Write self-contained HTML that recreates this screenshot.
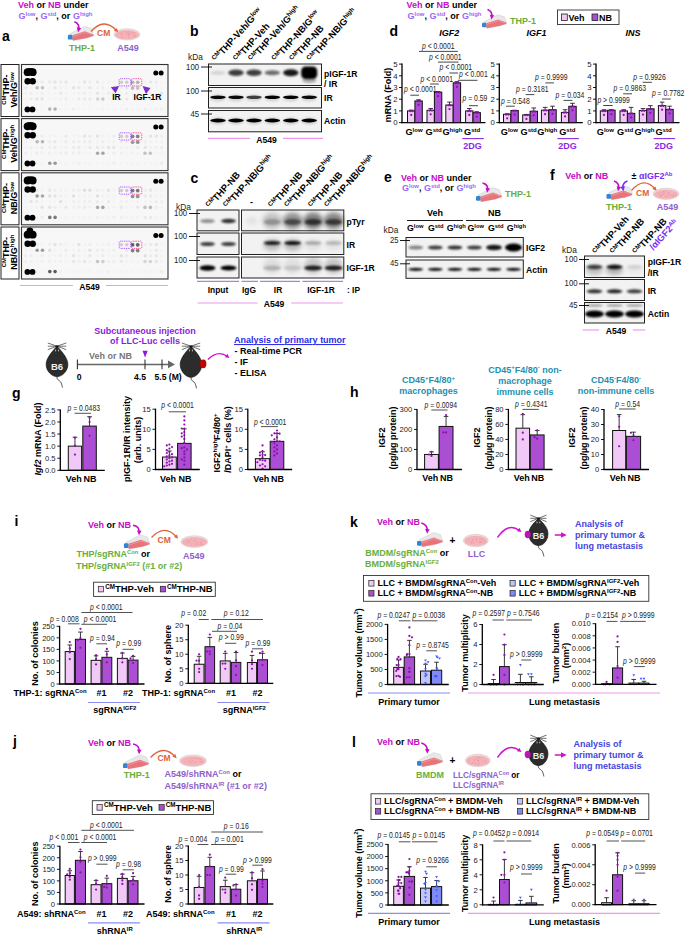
<!DOCTYPE html>
<html><head><meta charset="utf-8"><style>
html,body{margin:0;padding:0;background:#fff;}
svg{display:block;font-family:"Liberation Sans", sans-serif;}
</style></head><body>
<svg width="685" height="937" viewBox="0 0 685 937" font-family="Liberation Sans, sans-serif">
<defs>
<filter id="b05" x="-50%" y="-50%" width="200%" height="200%"><feGaussianBlur stdDeviation="0.5"/></filter>
<filter id="b7" x="-50%" y="-50%" width="200%" height="200%"><feGaussianBlur stdDeviation="0.7"/></filter>
<filter id="b1" x="-50%" y="-50%" width="200%" height="200%"><feGaussianBlur stdDeviation="1"/></filter>
<filter id="b2" x="-50%" y="-50%" width="200%" height="200%"><feGaussianBlur stdDeviation="2"/></filter>
</defs>
<rect width="685" height="937" fill="#fff"/>
<text x="2.00" y="41.00" font-size="14" font-weight="bold" fill="#000" text-anchor="start">a</text>
<text x="18.00" y="7.60" font-size="9" font-weight="bold" fill="#000" text-anchor="start"><tspan fill="#C30FC3">Veh</tspan> or <tspan fill="#C30FC3">NB</tspan> under</text>
<text x="18.50" y="18.60" font-size="9" font-weight="bold" fill="#000" text-anchor="start"><tspan fill="#9A68F5">G</tspan><tspan dy="-3.06" font-size="5.94" fill="#9A68F5">low</tspan><tspan dy="3.06">, </tspan><tspan fill="#9A68F5">G</tspan><tspan dy="-3.06" font-size="5.94" fill="#9A68F5">std</tspan><tspan dy="3.06">, or </tspan><tspan fill="#9A68F5">G</tspan><tspan dy="-3.06" font-size="5.94" fill="#9A68F5">high</tspan></text>
<g transform="translate(67.90,34.80) scale(1.0)"><path d="M2,-1 L16.6,-8.4 L23.5,-6.3 L25.6,0 L25.6,1 L19,3.2 L5,5.8 L4,4.5 Z" fill="#e8e8e8" stroke="#c8c8c8" stroke-width="0.5"/><path d="M4.5,0.4 L17,-3.6 L25.6,-0.3 L25.6,1 L19,3.2 L5.3,5.8 L4.5,4.5 Z" fill="#E8747A"/><path d="M5,1.8 L17,-2.3 L24.5,0" fill="none" stroke="#F4A6AA" stroke-width="0.6"/><rect x="0" y="0" width="4.5" height="4.8" rx="1.2" fill="#2F86D6"/></g>
<path d="M74.30,21.70 Q79.80,23.50 78.60,29.50" fill="none" stroke="#C30FC3" stroke-width="1.6"/>
<path d="M78.06,32.21 L76.71,27.24 L81.22,28.15 Z" fill="#C30FC3" stroke="none" stroke-width="1"/>
<ellipse cx="127.00" cy="34.40" rx="13.00" ry="5.60" fill="#F9D9DB" stroke="#d8d0d2" stroke-width="0.8"/>
<ellipse cx="127.00" cy="34.80" rx="11.70" ry="4.30" fill="#F4B3B8" stroke="#ec9ea4" stroke-width="0.3"/>
<circle cx="128.52" cy="33.57" r="0.45" fill="#E0858C"/>
<circle cx="121.05" cy="36.94" r="0.45" fill="#E0858C"/>
<circle cx="132.84" cy="32.43" r="0.45" fill="#E0858C"/>
<circle cx="135.07" cy="34.04" r="0.45" fill="#E0858C"/>
<circle cx="134.69" cy="36.26" r="0.45" fill="#E0858C"/>
<circle cx="128.90" cy="31.79" r="0.45" fill="#E0858C"/>
<circle cx="133.83" cy="32.67" r="0.45" fill="#E0858C"/>
<circle cx="122.39" cy="35.28" r="0.45" fill="#E0858C"/>
<circle cx="128.48" cy="33.85" r="0.45" fill="#E0858C"/>
<circle cx="122.21" cy="33.04" r="0.45" fill="#E0858C"/>
<circle cx="128.62" cy="35.00" r="0.45" fill="#E0858C"/>
<circle cx="118.18" cy="33.73" r="0.45" fill="#E0858C"/>
<circle cx="134.16" cy="36.05" r="0.45" fill="#E0858C"/>
<circle cx="130.14" cy="32.44" r="0.45" fill="#E0858C"/>
<circle cx="128.42" cy="35.36" r="0.45" fill="#E0858C"/>
<circle cx="130.08" cy="33.83" r="0.45" fill="#E0858C"/>
<circle cx="124.95" cy="33.08" r="0.45" fill="#E0858C"/>
<circle cx="126.18" cy="31.47" r="0.45" fill="#E0858C"/>
<circle cx="128.82" cy="38.05" r="0.45" fill="#E0858C"/>
<circle cx="120.61" cy="33.43" r="0.45" fill="#E0858C"/>
<circle cx="121.54" cy="33.90" r="0.45" fill="#E0858C"/>
<circle cx="135.07" cy="36.64" r="0.45" fill="#E0858C"/>
<circle cx="122.02" cy="37.73" r="0.45" fill="#E0858C"/>
<circle cx="127.25" cy="33.96" r="0.45" fill="#E0858C"/>
<circle cx="132.87" cy="34.50" r="0.45" fill="#E0858C"/>
<circle cx="126.73" cy="32.26" r="0.45" fill="#E0858C"/>
<path d="M91.00,31.50 Q104.00,17.00 116.50,30.50" fill="none" stroke="#E0623A" stroke-width="1.3"/>
<path d="M118.13,32.26 L113.95,30.68 L116.88,27.97 Z" fill="#E0623A" stroke="none" stroke-width="1"/>
<text x="97.00" y="36.00" font-size="8.5" font-weight="bold" fill="#E0623A" text-anchor="start">CM</text>
<text x="82.00" y="50.60" font-size="9" font-weight="bold" fill="#6AAE3C" text-anchor="middle">THP-1</text>
<text x="128.00" y="50.60" font-size="9" font-weight="bold" fill="#8E62CC" text-anchor="middle">A549</text>
<rect x="1.00" y="64.50" width="18.00" height="52.00" fill="#fff" stroke="#222" stroke-width="1"/>
<text x="0.00" y="0.00" font-size="9.0" font-weight="bold" fill="#000" text-anchor="middle" transform="translate(9.40,89.70) rotate(-90)"><tspan dy="-3.06" font-size="5.94">CM</tspan><tspan dy="3.06">THP-</tspan></text>
<text x="0.00" y="0.00" font-size="9.0" font-weight="bold" fill="#000" text-anchor="middle" transform="translate(17.30,89.70) rotate(-90)">Veh/G<tspan dy="-3.06" font-size="5.94">low</tspan></text>
<rect x="21.50" y="64.50" width="146.50" height="52.00" fill="#f7f7f7" stroke="#333" stroke-width="1.1"/>
<circle cx="36.80" cy="82.00" r="1.7" fill="#000" opacity="0.03" filter="url(#b05)"/>
<circle cx="42.10" cy="82.00" r="1.7" fill="#000" opacity="0.04" filter="url(#b05)"/>
<circle cx="49.70" cy="82.00" r="1.7" fill="#000" opacity="0.05" filter="url(#b05)"/>
<circle cx="55.00" cy="82.00" r="1.7" fill="#000" opacity="0.07" filter="url(#b05)"/>
<circle cx="60.70" cy="82.00" r="1.7" fill="#000" opacity="0.04" filter="url(#b05)"/>
<circle cx="66.00" cy="82.00" r="1.7" fill="#000" opacity="0.06" filter="url(#b05)"/>
<circle cx="73.60" cy="82.00" r="1.7" fill="#000" opacity="0.01" filter="url(#b05)"/>
<circle cx="78.90" cy="82.00" r="1.7" fill="#000" opacity="0.02" filter="url(#b05)"/>
<circle cx="84.60" cy="82.00" r="1.7" fill="#000" opacity="0.07" filter="url(#b05)"/>
<circle cx="89.90" cy="82.00" r="1.7" fill="#000" opacity="0.03" filter="url(#b05)"/>
<circle cx="97.50" cy="82.00" r="1.7" fill="#000" opacity="0.06" filter="url(#b05)"/>
<circle cx="102.80" cy="82.00" r="1.7" fill="#000" opacity="0.01" filter="url(#b05)"/>
<circle cx="108.50" cy="82.00" r="1.7" fill="#000" opacity="0.02" filter="url(#b05)"/>
<circle cx="113.80" cy="82.00" r="1.7" fill="#000" opacity="0.01" filter="url(#b05)"/>
<circle cx="121.40" cy="82.00" r="1.7" fill="#000" opacity="0.02" filter="url(#b05)"/>
<circle cx="126.70" cy="82.00" r="1.7" fill="#000" opacity="0.02" filter="url(#b05)"/>
<circle cx="132.40" cy="82.00" r="1.7" fill="#000" opacity="0.01" filter="url(#b05)"/>
<circle cx="137.70" cy="82.00" r="1.7" fill="#000" opacity="0.01" filter="url(#b05)"/>
<circle cx="145.30" cy="82.00" r="1.7" fill="#000" opacity="0.01" filter="url(#b05)"/>
<circle cx="150.60" cy="82.00" r="1.7" fill="#000" opacity="0.06" filter="url(#b05)"/>
<circle cx="156.30" cy="82.00" r="1.7" fill="#000" opacity="0.04" filter="url(#b05)"/>
<circle cx="161.60" cy="82.00" r="1.7" fill="#000" opacity="0.01" filter="url(#b05)"/>
<circle cx="25.80" cy="87.70" r="1.7" fill="#000" opacity="0.05" filter="url(#b05)"/>
<circle cx="31.10" cy="87.70" r="1.7" fill="#000" opacity="0.01" filter="url(#b05)"/>
<circle cx="36.80" cy="87.70" r="1.7" fill="#000" opacity="0.03" filter="url(#b05)"/>
<circle cx="42.10" cy="87.70" r="1.7" fill="#000" opacity="0.01" filter="url(#b05)"/>
<circle cx="49.70" cy="87.70" r="1.7" fill="#000" opacity="0.01" filter="url(#b05)"/>
<circle cx="55.00" cy="87.70" r="1.7" fill="#000" opacity="0.06" filter="url(#b05)"/>
<circle cx="60.70" cy="87.70" r="1.7" fill="#000" opacity="0.01" filter="url(#b05)"/>
<circle cx="66.00" cy="87.70" r="1.7" fill="#000" opacity="0.01" filter="url(#b05)"/>
<circle cx="73.60" cy="87.70" r="1.7" fill="#000" opacity="0.08" filter="url(#b05)"/>
<circle cx="78.90" cy="87.70" r="1.7" fill="#000" opacity="0.06" filter="url(#b05)"/>
<circle cx="84.60" cy="87.70" r="1.7" fill="#000" opacity="0.01" filter="url(#b05)"/>
<circle cx="89.90" cy="87.70" r="1.7" fill="#000" opacity="0.07" filter="url(#b05)"/>
<circle cx="97.50" cy="87.70" r="1.7" fill="#000" opacity="0.02" filter="url(#b05)"/>
<circle cx="102.80" cy="87.70" r="1.7" fill="#000" opacity="0.03" filter="url(#b05)"/>
<circle cx="108.50" cy="87.70" r="1.7" fill="#000" opacity="0.01" filter="url(#b05)"/>
<circle cx="113.80" cy="87.70" r="1.7" fill="#000" opacity="0.07" filter="url(#b05)"/>
<circle cx="121.40" cy="87.70" r="1.7" fill="#000" opacity="0.03" filter="url(#b05)"/>
<circle cx="126.70" cy="87.70" r="1.7" fill="#000" opacity="0.07" filter="url(#b05)"/>
<circle cx="132.40" cy="87.70" r="1.7" fill="#000" opacity="0.06" filter="url(#b05)"/>
<circle cx="137.70" cy="87.70" r="1.7" fill="#000" opacity="0.01" filter="url(#b05)"/>
<circle cx="145.30" cy="87.70" r="1.7" fill="#000" opacity="0.01" filter="url(#b05)"/>
<circle cx="150.60" cy="87.70" r="1.7" fill="#000" opacity="0.01" filter="url(#b05)"/>
<circle cx="156.30" cy="87.70" r="1.7" fill="#000" opacity="0.01" filter="url(#b05)"/>
<circle cx="161.60" cy="87.70" r="1.7" fill="#000" opacity="0.01" filter="url(#b05)"/>
<circle cx="25.80" cy="93.30" r="1.7" fill="#000" opacity="0.01" filter="url(#b05)"/>
<circle cx="31.10" cy="93.30" r="1.7" fill="#000" opacity="0.03" filter="url(#b05)"/>
<circle cx="36.80" cy="93.30" r="1.7" fill="#000" opacity="0.01" filter="url(#b05)"/>
<circle cx="42.10" cy="93.30" r="1.7" fill="#000" opacity="0.03" filter="url(#b05)"/>
<circle cx="49.70" cy="93.30" r="1.7" fill="#000" opacity="0.01" filter="url(#b05)"/>
<circle cx="55.00" cy="93.30" r="1.7" fill="#000" opacity="0.01" filter="url(#b05)"/>
<circle cx="60.70" cy="93.30" r="1.7" fill="#000" opacity="0.05" filter="url(#b05)"/>
<circle cx="66.00" cy="93.30" r="1.7" fill="#000" opacity="0.02" filter="url(#b05)"/>
<circle cx="73.60" cy="93.30" r="1.7" fill="#000" opacity="0.01" filter="url(#b05)"/>
<circle cx="78.90" cy="93.30" r="1.7" fill="#000" opacity="0.02" filter="url(#b05)"/>
<circle cx="84.60" cy="93.30" r="1.7" fill="#000" opacity="0.03" filter="url(#b05)"/>
<circle cx="89.90" cy="93.30" r="1.7" fill="#000" opacity="0.01" filter="url(#b05)"/>
<circle cx="97.50" cy="93.30" r="1.7" fill="#000" opacity="0.07" filter="url(#b05)"/>
<circle cx="102.80" cy="93.30" r="1.7" fill="#000" opacity="0.01" filter="url(#b05)"/>
<circle cx="108.50" cy="93.30" r="1.7" fill="#000" opacity="0.04" filter="url(#b05)"/>
<circle cx="113.80" cy="93.30" r="1.7" fill="#000" opacity="0.05" filter="url(#b05)"/>
<circle cx="121.40" cy="93.30" r="1.7" fill="#000" opacity="0.01" filter="url(#b05)"/>
<circle cx="126.70" cy="93.30" r="1.7" fill="#000" opacity="0.04" filter="url(#b05)"/>
<circle cx="132.40" cy="93.30" r="1.7" fill="#000" opacity="0.01" filter="url(#b05)"/>
<circle cx="137.70" cy="93.30" r="1.7" fill="#000" opacity="0.02" filter="url(#b05)"/>
<circle cx="145.30" cy="93.30" r="1.7" fill="#000" opacity="0.01" filter="url(#b05)"/>
<circle cx="150.60" cy="93.30" r="1.7" fill="#000" opacity="0.01" filter="url(#b05)"/>
<circle cx="156.30" cy="93.30" r="1.7" fill="#000" opacity="0.01" filter="url(#b05)"/>
<circle cx="161.60" cy="93.30" r="1.7" fill="#000" opacity="0.07" filter="url(#b05)"/>
<circle cx="25.80" cy="98.90" r="1.7" fill="#000" opacity="0.01" filter="url(#b05)"/>
<circle cx="31.10" cy="98.90" r="1.7" fill="#000" opacity="0.04" filter="url(#b05)"/>
<circle cx="36.80" cy="98.90" r="1.7" fill="#000" opacity="0.07" filter="url(#b05)"/>
<circle cx="42.10" cy="98.90" r="1.7" fill="#000" opacity="0.07" filter="url(#b05)"/>
<circle cx="49.70" cy="98.90" r="1.7" fill="#000" opacity="0.01" filter="url(#b05)"/>
<circle cx="55.00" cy="98.90" r="1.7" fill="#000" opacity="0.01" filter="url(#b05)"/>
<circle cx="60.70" cy="98.90" r="1.7" fill="#000" opacity="0.02" filter="url(#b05)"/>
<circle cx="66.00" cy="98.90" r="1.7" fill="#000" opacity="0.04" filter="url(#b05)"/>
<circle cx="73.60" cy="98.90" r="1.7" fill="#000" opacity="0.01" filter="url(#b05)"/>
<circle cx="78.90" cy="98.90" r="1.7" fill="#000" opacity="0.04" filter="url(#b05)"/>
<circle cx="84.60" cy="98.90" r="1.7" fill="#000" opacity="0.05" filter="url(#b05)"/>
<circle cx="89.90" cy="98.90" r="1.7" fill="#000" opacity="0.05" filter="url(#b05)"/>
<circle cx="97.50" cy="98.90" r="1.7" fill="#000" opacity="0.01" filter="url(#b05)"/>
<circle cx="102.80" cy="98.90" r="1.7" fill="#000" opacity="0.07" filter="url(#b05)"/>
<circle cx="108.50" cy="98.90" r="1.7" fill="#000" opacity="0.01" filter="url(#b05)"/>
<circle cx="113.80" cy="98.90" r="1.7" fill="#000" opacity="0.01" filter="url(#b05)"/>
<circle cx="121.40" cy="98.90" r="1.7" fill="#000" opacity="0.03" filter="url(#b05)"/>
<circle cx="126.70" cy="98.90" r="1.7" fill="#000" opacity="0.06" filter="url(#b05)"/>
<circle cx="132.40" cy="98.90" r="1.7" fill="#000" opacity="0.01" filter="url(#b05)"/>
<circle cx="137.70" cy="98.90" r="1.7" fill="#000" opacity="0.07" filter="url(#b05)"/>
<circle cx="145.30" cy="98.90" r="1.7" fill="#000" opacity="0.02" filter="url(#b05)"/>
<circle cx="150.60" cy="98.90" r="1.7" fill="#000" opacity="0.01" filter="url(#b05)"/>
<circle cx="156.30" cy="98.90" r="1.7" fill="#000" opacity="0.01" filter="url(#b05)"/>
<circle cx="161.60" cy="98.90" r="1.7" fill="#000" opacity="0.01" filter="url(#b05)"/>
<circle cx="36.80" cy="109.10" r="1.7" fill="#000" opacity="0.01" filter="url(#b05)"/>
<circle cx="42.10" cy="109.10" r="1.7" fill="#000" opacity="0.01" filter="url(#b05)"/>
<circle cx="49.70" cy="109.10" r="1.7" fill="#000" opacity="0.02" filter="url(#b05)"/>
<circle cx="55.00" cy="109.10" r="1.7" fill="#000" opacity="0.04" filter="url(#b05)"/>
<circle cx="60.70" cy="109.10" r="1.7" fill="#000" opacity="0.01" filter="url(#b05)"/>
<circle cx="66.00" cy="109.10" r="1.7" fill="#000" opacity="0.01" filter="url(#b05)"/>
<circle cx="73.60" cy="109.10" r="1.7" fill="#000" opacity="0.04" filter="url(#b05)"/>
<circle cx="78.90" cy="109.10" r="1.7" fill="#000" opacity="0.01" filter="url(#b05)"/>
<circle cx="84.60" cy="109.10" r="1.7" fill="#000" opacity="0.01" filter="url(#b05)"/>
<circle cx="89.90" cy="109.10" r="1.7" fill="#000" opacity="0.01" filter="url(#b05)"/>
<circle cx="97.50" cy="109.10" r="1.7" fill="#000" opacity="0.01" filter="url(#b05)"/>
<circle cx="102.80" cy="109.10" r="1.7" fill="#000" opacity="0.02" filter="url(#b05)"/>
<circle cx="108.50" cy="109.10" r="1.7" fill="#000" opacity="0.01" filter="url(#b05)"/>
<circle cx="113.80" cy="109.10" r="1.7" fill="#000" opacity="0.01" filter="url(#b05)"/>
<circle cx="121.40" cy="109.10" r="1.7" fill="#000" opacity="0.01" filter="url(#b05)"/>
<circle cx="126.70" cy="109.10" r="1.7" fill="#000" opacity="0.03" filter="url(#b05)"/>
<circle cx="132.40" cy="109.10" r="1.7" fill="#000" opacity="0.01" filter="url(#b05)"/>
<circle cx="137.70" cy="109.10" r="1.7" fill="#000" opacity="0.01" filter="url(#b05)"/>
<circle cx="145.30" cy="109.10" r="1.7" fill="#000" opacity="0.03" filter="url(#b05)"/>
<circle cx="150.60" cy="109.10" r="1.7" fill="#000" opacity="0.01" filter="url(#b05)"/>
<circle cx="156.30" cy="109.10" r="1.7" fill="#000" opacity="0.02" filter="url(#b05)"/>
<circle cx="161.60" cy="109.10" r="1.7" fill="#000" opacity="0.03" filter="url(#b05)"/>
<circle cx="27.60" cy="72.20" r="3.9" fill="#000" filter="url(#b05)"/>
<circle cx="32.70" cy="72.20" r="3.9" fill="#000" filter="url(#b05)"/>
<circle cx="27.60" cy="81.20" r="3.2" fill="#000" filter="url(#b05)"/>
<circle cx="32.70" cy="81.20" r="3.2" fill="#000" filter="url(#b05)"/>
<circle cx="27.40" cy="109.40" r="2.9" fill="#000" filter="url(#b05)"/>
<circle cx="32.50" cy="109.40" r="2.9" fill="#000" filter="url(#b05)"/>
<ellipse cx="30.1" cy="71.00" rx="4.5" ry="3" fill="#000" filter="url(#b05)"/>
<circle cx="155.80" cy="73.00" r="2.5" fill="#000" filter="url(#b05)"/>
<circle cx="161.10" cy="73.00" r="2.5" fill="#000" filter="url(#b05)"/>
<circle cx="37.20" cy="87.70" r="1.8" fill="#000" opacity="0.20" filter="url(#b05)"/>
<circle cx="42.50" cy="87.70" r="1.8" fill="#000" opacity="0.20" filter="url(#b05)"/>
<circle cx="97.60" cy="99.10" r="1.8" fill="#000" opacity="0.12" filter="url(#b05)"/>
<circle cx="102.90" cy="99.10" r="1.8" fill="#000" opacity="0.12" filter="url(#b05)"/>
<circle cx="145.00" cy="99.10" r="1.8" fill="#000" opacity="0.05" filter="url(#b05)"/>
<circle cx="150.30" cy="99.10" r="1.8" fill="#000" opacity="0.05" filter="url(#b05)"/>
<circle cx="49.80" cy="109.10" r="1.8" fill="#000" opacity="0.25" filter="url(#b05)"/>
<circle cx="55.10" cy="109.10" r="1.8" fill="#000" opacity="0.25" filter="url(#b05)"/>
<circle cx="132.60" cy="82.30" r="1.9" fill="#000" opacity="0.25" filter="url(#b05)"/>
<circle cx="132.60" cy="88.10" r="1.9" fill="#000" opacity="0.20" filter="url(#b05)"/>
<circle cx="137.70" cy="82.30" r="1.9" fill="#000" opacity="0.25" filter="url(#b05)"/>
<circle cx="137.70" cy="88.10" r="1.9" fill="#000" opacity="0.20" filter="url(#b05)"/>
<circle cx="121.50" cy="82.30" r="1.8" fill="#000" opacity="0.15" filter="url(#b05)"/>
<circle cx="126.80" cy="82.30" r="1.8" fill="#000" opacity="0.15" filter="url(#b05)"/>
<rect x="119.20" y="78.70" width="11.50" height="7.20" fill="none" stroke="#A040FF" stroke-width="0.9" stroke-dasharray="1,0.8" rx="1.2"/>
<rect x="131.50" y="78.70" width="10.30" height="7.20" fill="none" stroke="#F03090" stroke-width="0.9" stroke-dasharray="1,0.8" rx="1.2"/>
<path d="M110.8,87.3 L119.2,86 L115.6,93.2 Z" fill="#7A2ECC" stroke="none" stroke-width="1"/>
<path d="M142.5,86 L150.5,88 L146,94 Z" fill="#7A2ECC" stroke="none" stroke-width="1"/>
<text x="116.50" y="100.30" font-size="8.5" font-weight="bold" fill="#000" text-anchor="middle">IR</text>
<text x="147.50" y="100.30" font-size="8.5" font-weight="bold" fill="#000" text-anchor="middle">IGF-1R</text>
<rect x="1.00" y="118.60" width="18.00" height="52.00" fill="#fff" stroke="#222" stroke-width="1"/>
<text x="0.00" y="0.00" font-size="9.0" font-weight="bold" fill="#000" text-anchor="middle" transform="translate(9.40,143.80) rotate(-90)"><tspan dy="-3.06" font-size="5.94">CM</tspan><tspan dy="3.06">THP-</tspan></text>
<text x="0.00" y="0.00" font-size="9.0" font-weight="bold" fill="#000" text-anchor="middle" transform="translate(17.30,143.80) rotate(-90)">Veh/G<tspan dy="-3.06" font-size="5.94">high</tspan></text>
<rect x="21.50" y="118.60" width="146.50" height="52.00" fill="#f7f7f7" stroke="#333" stroke-width="1.1"/>
<circle cx="36.80" cy="136.10" r="1.7" fill="#000" opacity="0.03" filter="url(#b05)"/>
<circle cx="42.10" cy="136.10" r="1.7" fill="#000" opacity="0.04" filter="url(#b05)"/>
<circle cx="49.70" cy="136.10" r="1.7" fill="#000" opacity="0.01" filter="url(#b05)"/>
<circle cx="55.00" cy="136.10" r="1.7" fill="#000" opacity="0.02" filter="url(#b05)"/>
<circle cx="60.70" cy="136.10" r="1.7" fill="#000" opacity="0.01" filter="url(#b05)"/>
<circle cx="66.00" cy="136.10" r="1.7" fill="#000" opacity="0.05" filter="url(#b05)"/>
<circle cx="73.60" cy="136.10" r="1.7" fill="#000" opacity="0.01" filter="url(#b05)"/>
<circle cx="78.90" cy="136.10" r="1.7" fill="#000" opacity="0.02" filter="url(#b05)"/>
<circle cx="84.60" cy="136.10" r="1.7" fill="#000" opacity="0.08" filter="url(#b05)"/>
<circle cx="89.90" cy="136.10" r="1.7" fill="#000" opacity="0.05" filter="url(#b05)"/>
<circle cx="97.50" cy="136.10" r="1.7" fill="#000" opacity="0.08" filter="url(#b05)"/>
<circle cx="102.80" cy="136.10" r="1.7" fill="#000" opacity="0.02" filter="url(#b05)"/>
<circle cx="108.50" cy="136.10" r="1.7" fill="#000" opacity="0.02" filter="url(#b05)"/>
<circle cx="113.80" cy="136.10" r="1.7" fill="#000" opacity="0.04" filter="url(#b05)"/>
<circle cx="121.40" cy="136.10" r="1.7" fill="#000" opacity="0.02" filter="url(#b05)"/>
<circle cx="126.70" cy="136.10" r="1.7" fill="#000" opacity="0.01" filter="url(#b05)"/>
<circle cx="132.40" cy="136.10" r="1.7" fill="#000" opacity="0.01" filter="url(#b05)"/>
<circle cx="137.70" cy="136.10" r="1.7" fill="#000" opacity="0.01" filter="url(#b05)"/>
<circle cx="145.30" cy="136.10" r="1.7" fill="#000" opacity="0.01" filter="url(#b05)"/>
<circle cx="150.60" cy="136.10" r="1.7" fill="#000" opacity="0.08" filter="url(#b05)"/>
<circle cx="156.30" cy="136.10" r="1.7" fill="#000" opacity="0.07" filter="url(#b05)"/>
<circle cx="161.60" cy="136.10" r="1.7" fill="#000" opacity="0.03" filter="url(#b05)"/>
<circle cx="25.80" cy="141.80" r="1.7" fill="#000" opacity="0.02" filter="url(#b05)"/>
<circle cx="31.10" cy="141.80" r="1.7" fill="#000" opacity="0.01" filter="url(#b05)"/>
<circle cx="36.80" cy="141.80" r="1.7" fill="#000" opacity="0.01" filter="url(#b05)"/>
<circle cx="42.10" cy="141.80" r="1.7" fill="#000" opacity="0.01" filter="url(#b05)"/>
<circle cx="49.70" cy="141.80" r="1.7" fill="#000" opacity="0.04" filter="url(#b05)"/>
<circle cx="55.00" cy="141.80" r="1.7" fill="#000" opacity="0.06" filter="url(#b05)"/>
<circle cx="60.70" cy="141.80" r="1.7" fill="#000" opacity="0.01" filter="url(#b05)"/>
<circle cx="66.00" cy="141.80" r="1.7" fill="#000" opacity="0.04" filter="url(#b05)"/>
<circle cx="73.60" cy="141.80" r="1.7" fill="#000" opacity="0.04" filter="url(#b05)"/>
<circle cx="78.90" cy="141.80" r="1.7" fill="#000" opacity="0.03" filter="url(#b05)"/>
<circle cx="84.60" cy="141.80" r="1.7" fill="#000" opacity="0.03" filter="url(#b05)"/>
<circle cx="89.90" cy="141.80" r="1.7" fill="#000" opacity="0.04" filter="url(#b05)"/>
<circle cx="97.50" cy="141.80" r="1.7" fill="#000" opacity="0.01" filter="url(#b05)"/>
<circle cx="102.80" cy="141.80" r="1.7" fill="#000" opacity="0.03" filter="url(#b05)"/>
<circle cx="108.50" cy="141.80" r="1.7" fill="#000" opacity="0.01" filter="url(#b05)"/>
<circle cx="113.80" cy="141.80" r="1.7" fill="#000" opacity="0.02" filter="url(#b05)"/>
<circle cx="121.40" cy="141.80" r="1.7" fill="#000" opacity="0.04" filter="url(#b05)"/>
<circle cx="126.70" cy="141.80" r="1.7" fill="#000" opacity="0.03" filter="url(#b05)"/>
<circle cx="132.40" cy="141.80" r="1.7" fill="#000" opacity="0.01" filter="url(#b05)"/>
<circle cx="137.70" cy="141.80" r="1.7" fill="#000" opacity="0.07" filter="url(#b05)"/>
<circle cx="145.30" cy="141.80" r="1.7" fill="#000" opacity="0.03" filter="url(#b05)"/>
<circle cx="150.60" cy="141.80" r="1.7" fill="#000" opacity="0.02" filter="url(#b05)"/>
<circle cx="156.30" cy="141.80" r="1.7" fill="#000" opacity="0.01" filter="url(#b05)"/>
<circle cx="161.60" cy="141.80" r="1.7" fill="#000" opacity="0.02" filter="url(#b05)"/>
<circle cx="25.80" cy="147.40" r="1.7" fill="#000" opacity="0.01" filter="url(#b05)"/>
<circle cx="31.10" cy="147.40" r="1.7" fill="#000" opacity="0.03" filter="url(#b05)"/>
<circle cx="36.80" cy="147.40" r="1.7" fill="#000" opacity="0.02" filter="url(#b05)"/>
<circle cx="42.10" cy="147.40" r="1.7" fill="#000" opacity="0.05" filter="url(#b05)"/>
<circle cx="49.70" cy="147.40" r="1.7" fill="#000" opacity="0.03" filter="url(#b05)"/>
<circle cx="55.00" cy="147.40" r="1.7" fill="#000" opacity="0.05" filter="url(#b05)"/>
<circle cx="60.70" cy="147.40" r="1.7" fill="#000" opacity="0.01" filter="url(#b05)"/>
<circle cx="66.00" cy="147.40" r="1.7" fill="#000" opacity="0.03" filter="url(#b05)"/>
<circle cx="73.60" cy="147.40" r="1.7" fill="#000" opacity="0.04" filter="url(#b05)"/>
<circle cx="78.90" cy="147.40" r="1.7" fill="#000" opacity="0.05" filter="url(#b05)"/>
<circle cx="84.60" cy="147.40" r="1.7" fill="#000" opacity="0.01" filter="url(#b05)"/>
<circle cx="89.90" cy="147.40" r="1.7" fill="#000" opacity="0.05" filter="url(#b05)"/>
<circle cx="97.50" cy="147.40" r="1.7" fill="#000" opacity="0.06" filter="url(#b05)"/>
<circle cx="102.80" cy="147.40" r="1.7" fill="#000" opacity="0.03" filter="url(#b05)"/>
<circle cx="108.50" cy="147.40" r="1.7" fill="#000" opacity="0.08" filter="url(#b05)"/>
<circle cx="113.80" cy="147.40" r="1.7" fill="#000" opacity="0.07" filter="url(#b05)"/>
<circle cx="121.40" cy="147.40" r="1.7" fill="#000" opacity="0.02" filter="url(#b05)"/>
<circle cx="126.70" cy="147.40" r="1.7" fill="#000" opacity="0.02" filter="url(#b05)"/>
<circle cx="132.40" cy="147.40" r="1.7" fill="#000" opacity="0.01" filter="url(#b05)"/>
<circle cx="137.70" cy="147.40" r="1.7" fill="#000" opacity="0.05" filter="url(#b05)"/>
<circle cx="145.30" cy="147.40" r="1.7" fill="#000" opacity="0.07" filter="url(#b05)"/>
<circle cx="150.60" cy="147.40" r="1.7" fill="#000" opacity="0.02" filter="url(#b05)"/>
<circle cx="156.30" cy="147.40" r="1.7" fill="#000" opacity="0.03" filter="url(#b05)"/>
<circle cx="161.60" cy="147.40" r="1.7" fill="#000" opacity="0.04" filter="url(#b05)"/>
<circle cx="25.80" cy="153.00" r="1.7" fill="#000" opacity="0.04" filter="url(#b05)"/>
<circle cx="31.10" cy="153.00" r="1.7" fill="#000" opacity="0.01" filter="url(#b05)"/>
<circle cx="36.80" cy="153.00" r="1.7" fill="#000" opacity="0.04" filter="url(#b05)"/>
<circle cx="42.10" cy="153.00" r="1.7" fill="#000" opacity="0.02" filter="url(#b05)"/>
<circle cx="49.70" cy="153.00" r="1.7" fill="#000" opacity="0.03" filter="url(#b05)"/>
<circle cx="55.00" cy="153.00" r="1.7" fill="#000" opacity="0.02" filter="url(#b05)"/>
<circle cx="60.70" cy="153.00" r="1.7" fill="#000" opacity="0.03" filter="url(#b05)"/>
<circle cx="66.00" cy="153.00" r="1.7" fill="#000" opacity="0.04" filter="url(#b05)"/>
<circle cx="73.60" cy="153.00" r="1.7" fill="#000" opacity="0.03" filter="url(#b05)"/>
<circle cx="78.90" cy="153.00" r="1.7" fill="#000" opacity="0.04" filter="url(#b05)"/>
<circle cx="84.60" cy="153.00" r="1.7" fill="#000" opacity="0.01" filter="url(#b05)"/>
<circle cx="89.90" cy="153.00" r="1.7" fill="#000" opacity="0.01" filter="url(#b05)"/>
<circle cx="97.50" cy="153.00" r="1.7" fill="#000" opacity="0.02" filter="url(#b05)"/>
<circle cx="102.80" cy="153.00" r="1.7" fill="#000" opacity="0.03" filter="url(#b05)"/>
<circle cx="108.50" cy="153.00" r="1.7" fill="#000" opacity="0.01" filter="url(#b05)"/>
<circle cx="113.80" cy="153.00" r="1.7" fill="#000" opacity="0.03" filter="url(#b05)"/>
<circle cx="121.40" cy="153.00" r="1.7" fill="#000" opacity="0.03" filter="url(#b05)"/>
<circle cx="126.70" cy="153.00" r="1.7" fill="#000" opacity="0.01" filter="url(#b05)"/>
<circle cx="132.40" cy="153.00" r="1.7" fill="#000" opacity="0.02" filter="url(#b05)"/>
<circle cx="137.70" cy="153.00" r="1.7" fill="#000" opacity="0.01" filter="url(#b05)"/>
<circle cx="145.30" cy="153.00" r="1.7" fill="#000" opacity="0.01" filter="url(#b05)"/>
<circle cx="150.60" cy="153.00" r="1.7" fill="#000" opacity="0.01" filter="url(#b05)"/>
<circle cx="156.30" cy="153.00" r="1.7" fill="#000" opacity="0.01" filter="url(#b05)"/>
<circle cx="161.60" cy="153.00" r="1.7" fill="#000" opacity="0.01" filter="url(#b05)"/>
<circle cx="36.80" cy="163.20" r="1.7" fill="#000" opacity="0.01" filter="url(#b05)"/>
<circle cx="42.10" cy="163.20" r="1.7" fill="#000" opacity="0.01" filter="url(#b05)"/>
<circle cx="49.70" cy="163.20" r="1.7" fill="#000" opacity="0.01" filter="url(#b05)"/>
<circle cx="55.00" cy="163.20" r="1.7" fill="#000" opacity="0.01" filter="url(#b05)"/>
<circle cx="60.70" cy="163.20" r="1.7" fill="#000" opacity="0.01" filter="url(#b05)"/>
<circle cx="66.00" cy="163.20" r="1.7" fill="#000" opacity="0.01" filter="url(#b05)"/>
<circle cx="73.60" cy="163.20" r="1.7" fill="#000" opacity="0.01" filter="url(#b05)"/>
<circle cx="78.90" cy="163.20" r="1.7" fill="#000" opacity="0.03" filter="url(#b05)"/>
<circle cx="84.60" cy="163.20" r="1.7" fill="#000" opacity="0.01" filter="url(#b05)"/>
<circle cx="89.90" cy="163.20" r="1.7" fill="#000" opacity="0.01" filter="url(#b05)"/>
<circle cx="97.50" cy="163.20" r="1.7" fill="#000" opacity="0.01" filter="url(#b05)"/>
<circle cx="102.80" cy="163.20" r="1.7" fill="#000" opacity="0.01" filter="url(#b05)"/>
<circle cx="108.50" cy="163.20" r="1.7" fill="#000" opacity="0.01" filter="url(#b05)"/>
<circle cx="113.80" cy="163.20" r="1.7" fill="#000" opacity="0.03" filter="url(#b05)"/>
<circle cx="121.40" cy="163.20" r="1.7" fill="#000" opacity="0.01" filter="url(#b05)"/>
<circle cx="126.70" cy="163.20" r="1.7" fill="#000" opacity="0.01" filter="url(#b05)"/>
<circle cx="132.40" cy="163.20" r="1.7" fill="#000" opacity="0.01" filter="url(#b05)"/>
<circle cx="137.70" cy="163.20" r="1.7" fill="#000" opacity="0.01" filter="url(#b05)"/>
<circle cx="145.30" cy="163.20" r="1.7" fill="#000" opacity="0.01" filter="url(#b05)"/>
<circle cx="150.60" cy="163.20" r="1.7" fill="#000" opacity="0.01" filter="url(#b05)"/>
<circle cx="156.30" cy="163.20" r="1.7" fill="#000" opacity="0.01" filter="url(#b05)"/>
<circle cx="161.60" cy="163.20" r="1.7" fill="#000" opacity="0.04" filter="url(#b05)"/>
<circle cx="27.60" cy="126.30" r="3.9" fill="#000" filter="url(#b05)"/>
<circle cx="32.70" cy="126.30" r="3.9" fill="#000" filter="url(#b05)"/>
<circle cx="27.60" cy="135.30" r="3.2" fill="#000" filter="url(#b05)"/>
<circle cx="32.70" cy="135.30" r="3.2" fill="#000" filter="url(#b05)"/>
<circle cx="27.40" cy="163.50" r="2.9" fill="#000" filter="url(#b05)"/>
<circle cx="32.50" cy="163.50" r="2.9" fill="#000" filter="url(#b05)"/>
<ellipse cx="30.1" cy="125.10" rx="4.5" ry="3" fill="#000" filter="url(#b05)"/>
<circle cx="155.80" cy="127.10" r="2.5" fill="#000" filter="url(#b05)"/>
<circle cx="161.10" cy="127.10" r="2.5" fill="#000" filter="url(#b05)"/>
<circle cx="37.20" cy="141.80" r="1.8" fill="#000" opacity="0.25" filter="url(#b05)"/>
<circle cx="42.50" cy="141.80" r="1.8" fill="#000" opacity="0.25" filter="url(#b05)"/>
<circle cx="97.60" cy="153.20" r="1.8" fill="#000" opacity="0.30" filter="url(#b05)"/>
<circle cx="102.90" cy="153.20" r="1.8" fill="#000" opacity="0.30" filter="url(#b05)"/>
<circle cx="145.00" cy="153.20" r="1.8" fill="#000" opacity="0.20" filter="url(#b05)"/>
<circle cx="150.30" cy="153.20" r="1.8" fill="#000" opacity="0.20" filter="url(#b05)"/>
<circle cx="49.80" cy="163.20" r="1.8" fill="#000" opacity="0.37" filter="url(#b05)"/>
<circle cx="55.10" cy="163.20" r="1.8" fill="#000" opacity="0.37" filter="url(#b05)"/>
<circle cx="132.60" cy="136.40" r="1.9" fill="#000" opacity="0.45" filter="url(#b05)"/>
<circle cx="132.60" cy="142.20" r="1.9" fill="#000" opacity="0.36" filter="url(#b05)"/>
<circle cx="137.70" cy="136.40" r="1.9" fill="#000" opacity="0.45" filter="url(#b05)"/>
<circle cx="137.70" cy="142.20" r="1.9" fill="#000" opacity="0.36" filter="url(#b05)"/>
<circle cx="121.50" cy="136.40" r="1.8" fill="#000" opacity="0.15" filter="url(#b05)"/>
<circle cx="126.80" cy="136.40" r="1.8" fill="#000" opacity="0.15" filter="url(#b05)"/>
<rect x="119.20" y="132.80" width="11.50" height="7.20" fill="none" stroke="#A040FF" stroke-width="0.9" stroke-dasharray="1,0.8" rx="1.2"/>
<rect x="131.50" y="132.80" width="10.30" height="7.20" fill="none" stroke="#F03090" stroke-width="0.9" stroke-dasharray="1,0.8" rx="1.2"/>
<rect x="1.00" y="172.80" width="18.00" height="52.00" fill="#fff" stroke="#222" stroke-width="1"/>
<text x="0.00" y="0.00" font-size="9.0" font-weight="bold" fill="#000" text-anchor="middle" transform="translate(9.40,198.00) rotate(-90)"><tspan dy="-3.06" font-size="5.94">CM</tspan><tspan dy="3.06">THP-</tspan></text>
<text x="0.00" y="0.00" font-size="9.0" font-weight="bold" fill="#000" text-anchor="middle" transform="translate(17.30,198.00) rotate(-90)">NB/G<tspan dy="-3.06" font-size="5.94">low</tspan></text>
<rect x="21.50" y="172.80" width="146.50" height="52.00" fill="#f7f7f7" stroke="#333" stroke-width="1.1"/>
<circle cx="36.80" cy="190.30" r="1.7" fill="#000" opacity="0.06" filter="url(#b05)"/>
<circle cx="42.10" cy="190.30" r="1.7" fill="#000" opacity="0.02" filter="url(#b05)"/>
<circle cx="49.70" cy="190.30" r="1.7" fill="#000" opacity="0.06" filter="url(#b05)"/>
<circle cx="55.00" cy="190.30" r="1.7" fill="#000" opacity="0.03" filter="url(#b05)"/>
<circle cx="60.70" cy="190.30" r="1.7" fill="#000" opacity="0.02" filter="url(#b05)"/>
<circle cx="66.00" cy="190.30" r="1.7" fill="#000" opacity="0.01" filter="url(#b05)"/>
<circle cx="73.60" cy="190.30" r="1.7" fill="#000" opacity="0.03" filter="url(#b05)"/>
<circle cx="78.90" cy="190.30" r="1.7" fill="#000" opacity="0.03" filter="url(#b05)"/>
<circle cx="84.60" cy="190.30" r="1.7" fill="#000" opacity="0.09" filter="url(#b05)"/>
<circle cx="89.90" cy="190.30" r="1.7" fill="#000" opacity="0.09" filter="url(#b05)"/>
<circle cx="97.50" cy="190.30" r="1.7" fill="#000" opacity="0.03" filter="url(#b05)"/>
<circle cx="102.80" cy="190.30" r="1.7" fill="#000" opacity="0.02" filter="url(#b05)"/>
<circle cx="108.50" cy="190.30" r="1.7" fill="#000" opacity="0.07" filter="url(#b05)"/>
<circle cx="113.80" cy="190.30" r="1.7" fill="#000" opacity="0.01" filter="url(#b05)"/>
<circle cx="121.40" cy="190.30" r="1.7" fill="#000" opacity="0.01" filter="url(#b05)"/>
<circle cx="126.70" cy="190.30" r="1.7" fill="#000" opacity="0.03" filter="url(#b05)"/>
<circle cx="132.40" cy="190.30" r="1.7" fill="#000" opacity="0.03" filter="url(#b05)"/>
<circle cx="137.70" cy="190.30" r="1.7" fill="#000" opacity="0.01" filter="url(#b05)"/>
<circle cx="145.30" cy="190.30" r="1.7" fill="#000" opacity="0.03" filter="url(#b05)"/>
<circle cx="150.60" cy="190.30" r="1.7" fill="#000" opacity="0.07" filter="url(#b05)"/>
<circle cx="156.30" cy="190.30" r="1.7" fill="#000" opacity="0.02" filter="url(#b05)"/>
<circle cx="161.60" cy="190.30" r="1.7" fill="#000" opacity="0.02" filter="url(#b05)"/>
<circle cx="25.80" cy="196.00" r="1.7" fill="#000" opacity="0.01" filter="url(#b05)"/>
<circle cx="31.10" cy="196.00" r="1.7" fill="#000" opacity="0.01" filter="url(#b05)"/>
<circle cx="36.80" cy="196.00" r="1.7" fill="#000" opacity="0.09" filter="url(#b05)"/>
<circle cx="42.10" cy="196.00" r="1.7" fill="#000" opacity="0.02" filter="url(#b05)"/>
<circle cx="49.70" cy="196.00" r="1.7" fill="#000" opacity="0.09" filter="url(#b05)"/>
<circle cx="55.00" cy="196.00" r="1.7" fill="#000" opacity="0.08" filter="url(#b05)"/>
<circle cx="60.70" cy="196.00" r="1.7" fill="#000" opacity="0.03" filter="url(#b05)"/>
<circle cx="66.00" cy="196.00" r="1.7" fill="#000" opacity="0.01" filter="url(#b05)"/>
<circle cx="73.60" cy="196.00" r="1.7" fill="#000" opacity="0.09" filter="url(#b05)"/>
<circle cx="78.90" cy="196.00" r="1.7" fill="#000" opacity="0.02" filter="url(#b05)"/>
<circle cx="84.60" cy="196.00" r="1.7" fill="#000" opacity="0.02" filter="url(#b05)"/>
<circle cx="89.90" cy="196.00" r="1.7" fill="#000" opacity="0.01" filter="url(#b05)"/>
<circle cx="97.50" cy="196.00" r="1.7" fill="#000" opacity="0.09" filter="url(#b05)"/>
<circle cx="102.80" cy="196.00" r="1.7" fill="#000" opacity="0.02" filter="url(#b05)"/>
<circle cx="108.50" cy="196.00" r="1.7" fill="#000" opacity="0.01" filter="url(#b05)"/>
<circle cx="113.80" cy="196.00" r="1.7" fill="#000" opacity="0.02" filter="url(#b05)"/>
<circle cx="121.40" cy="196.00" r="1.7" fill="#000" opacity="0.01" filter="url(#b05)"/>
<circle cx="126.70" cy="196.00" r="1.7" fill="#000" opacity="0.03" filter="url(#b05)"/>
<circle cx="132.40" cy="196.00" r="1.7" fill="#000" opacity="0.02" filter="url(#b05)"/>
<circle cx="137.70" cy="196.00" r="1.7" fill="#000" opacity="0.01" filter="url(#b05)"/>
<circle cx="145.30" cy="196.00" r="1.7" fill="#000" opacity="0.05" filter="url(#b05)"/>
<circle cx="150.60" cy="196.00" r="1.7" fill="#000" opacity="0.06" filter="url(#b05)"/>
<circle cx="156.30" cy="196.00" r="1.7" fill="#000" opacity="0.01" filter="url(#b05)"/>
<circle cx="161.60" cy="196.00" r="1.7" fill="#000" opacity="0.02" filter="url(#b05)"/>
<circle cx="25.80" cy="201.60" r="1.7" fill="#000" opacity="0.01" filter="url(#b05)"/>
<circle cx="31.10" cy="201.60" r="1.7" fill="#000" opacity="0.08" filter="url(#b05)"/>
<circle cx="36.80" cy="201.60" r="1.7" fill="#000" opacity="0.05" filter="url(#b05)"/>
<circle cx="42.10" cy="201.60" r="1.7" fill="#000" opacity="0.01" filter="url(#b05)"/>
<circle cx="49.70" cy="201.60" r="1.7" fill="#000" opacity="0.01" filter="url(#b05)"/>
<circle cx="55.00" cy="201.60" r="1.7" fill="#000" opacity="0.01" filter="url(#b05)"/>
<circle cx="60.70" cy="201.60" r="1.7" fill="#000" opacity="0.09" filter="url(#b05)"/>
<circle cx="66.00" cy="201.60" r="1.7" fill="#000" opacity="0.01" filter="url(#b05)"/>
<circle cx="73.60" cy="201.60" r="1.7" fill="#000" opacity="0.03" filter="url(#b05)"/>
<circle cx="78.90" cy="201.60" r="1.7" fill="#000" opacity="0.02" filter="url(#b05)"/>
<circle cx="84.60" cy="201.60" r="1.7" fill="#000" opacity="0.03" filter="url(#b05)"/>
<circle cx="89.90" cy="201.60" r="1.7" fill="#000" opacity="0.03" filter="url(#b05)"/>
<circle cx="97.50" cy="201.60" r="1.7" fill="#000" opacity="0.05" filter="url(#b05)"/>
<circle cx="102.80" cy="201.60" r="1.7" fill="#000" opacity="0.01" filter="url(#b05)"/>
<circle cx="108.50" cy="201.60" r="1.7" fill="#000" opacity="0.05" filter="url(#b05)"/>
<circle cx="113.80" cy="201.60" r="1.7" fill="#000" opacity="0.01" filter="url(#b05)"/>
<circle cx="121.40" cy="201.60" r="1.7" fill="#000" opacity="0.02" filter="url(#b05)"/>
<circle cx="126.70" cy="201.60" r="1.7" fill="#000" opacity="0.02" filter="url(#b05)"/>
<circle cx="132.40" cy="201.60" r="1.7" fill="#000" opacity="0.01" filter="url(#b05)"/>
<circle cx="137.70" cy="201.60" r="1.7" fill="#000" opacity="0.02" filter="url(#b05)"/>
<circle cx="145.30" cy="201.60" r="1.7" fill="#000" opacity="0.02" filter="url(#b05)"/>
<circle cx="150.60" cy="201.60" r="1.7" fill="#000" opacity="0.02" filter="url(#b05)"/>
<circle cx="156.30" cy="201.60" r="1.7" fill="#000" opacity="0.05" filter="url(#b05)"/>
<circle cx="161.60" cy="201.60" r="1.7" fill="#000" opacity="0.03" filter="url(#b05)"/>
<circle cx="25.80" cy="207.20" r="1.7" fill="#000" opacity="0.01" filter="url(#b05)"/>
<circle cx="31.10" cy="207.20" r="1.7" fill="#000" opacity="0.01" filter="url(#b05)"/>
<circle cx="36.80" cy="207.20" r="1.7" fill="#000" opacity="0.02" filter="url(#b05)"/>
<circle cx="42.10" cy="207.20" r="1.7" fill="#000" opacity="0.08" filter="url(#b05)"/>
<circle cx="49.70" cy="207.20" r="1.7" fill="#000" opacity="0.07" filter="url(#b05)"/>
<circle cx="55.00" cy="207.20" r="1.7" fill="#000" opacity="0.03" filter="url(#b05)"/>
<circle cx="60.70" cy="207.20" r="1.7" fill="#000" opacity="0.01" filter="url(#b05)"/>
<circle cx="66.00" cy="207.20" r="1.7" fill="#000" opacity="0.05" filter="url(#b05)"/>
<circle cx="73.60" cy="207.20" r="1.7" fill="#000" opacity="0.02" filter="url(#b05)"/>
<circle cx="78.90" cy="207.20" r="1.7" fill="#000" opacity="0.03" filter="url(#b05)"/>
<circle cx="84.60" cy="207.20" r="1.7" fill="#000" opacity="0.04" filter="url(#b05)"/>
<circle cx="89.90" cy="207.20" r="1.7" fill="#000" opacity="0.03" filter="url(#b05)"/>
<circle cx="97.50" cy="207.20" r="1.7" fill="#000" opacity="0.02" filter="url(#b05)"/>
<circle cx="102.80" cy="207.20" r="1.7" fill="#000" opacity="0.08" filter="url(#b05)"/>
<circle cx="108.50" cy="207.20" r="1.7" fill="#000" opacity="0.02" filter="url(#b05)"/>
<circle cx="113.80" cy="207.20" r="1.7" fill="#000" opacity="0.02" filter="url(#b05)"/>
<circle cx="121.40" cy="207.20" r="1.7" fill="#000" opacity="0.06" filter="url(#b05)"/>
<circle cx="126.70" cy="207.20" r="1.7" fill="#000" opacity="0.01" filter="url(#b05)"/>
<circle cx="132.40" cy="207.20" r="1.7" fill="#000" opacity="0.01" filter="url(#b05)"/>
<circle cx="137.70" cy="207.20" r="1.7" fill="#000" opacity="0.06" filter="url(#b05)"/>
<circle cx="145.30" cy="207.20" r="1.7" fill="#000" opacity="0.01" filter="url(#b05)"/>
<circle cx="150.60" cy="207.20" r="1.7" fill="#000" opacity="0.06" filter="url(#b05)"/>
<circle cx="156.30" cy="207.20" r="1.7" fill="#000" opacity="0.04" filter="url(#b05)"/>
<circle cx="161.60" cy="207.20" r="1.7" fill="#000" opacity="0.02" filter="url(#b05)"/>
<circle cx="36.80" cy="217.40" r="1.7" fill="#000" opacity="0.01" filter="url(#b05)"/>
<circle cx="42.10" cy="217.40" r="1.7" fill="#000" opacity="0.03" filter="url(#b05)"/>
<circle cx="49.70" cy="217.40" r="1.7" fill="#000" opacity="0.04" filter="url(#b05)"/>
<circle cx="55.00" cy="217.40" r="1.7" fill="#000" opacity="0.01" filter="url(#b05)"/>
<circle cx="60.70" cy="217.40" r="1.7" fill="#000" opacity="0.01" filter="url(#b05)"/>
<circle cx="66.00" cy="217.40" r="1.7" fill="#000" opacity="0.01" filter="url(#b05)"/>
<circle cx="73.60" cy="217.40" r="1.7" fill="#000" opacity="0.01" filter="url(#b05)"/>
<circle cx="78.90" cy="217.40" r="1.7" fill="#000" opacity="0.01" filter="url(#b05)"/>
<circle cx="84.60" cy="217.40" r="1.7" fill="#000" opacity="0.01" filter="url(#b05)"/>
<circle cx="89.90" cy="217.40" r="1.7" fill="#000" opacity="0.01" filter="url(#b05)"/>
<circle cx="97.50" cy="217.40" r="1.7" fill="#000" opacity="0.03" filter="url(#b05)"/>
<circle cx="102.80" cy="217.40" r="1.7" fill="#000" opacity="0.01" filter="url(#b05)"/>
<circle cx="108.50" cy="217.40" r="1.7" fill="#000" opacity="0.01" filter="url(#b05)"/>
<circle cx="113.80" cy="217.40" r="1.7" fill="#000" opacity="0.03" filter="url(#b05)"/>
<circle cx="121.40" cy="217.40" r="1.7" fill="#000" opacity="0.03" filter="url(#b05)"/>
<circle cx="126.70" cy="217.40" r="1.7" fill="#000" opacity="0.02" filter="url(#b05)"/>
<circle cx="132.40" cy="217.40" r="1.7" fill="#000" opacity="0.01" filter="url(#b05)"/>
<circle cx="137.70" cy="217.40" r="1.7" fill="#000" opacity="0.02" filter="url(#b05)"/>
<circle cx="145.30" cy="217.40" r="1.7" fill="#000" opacity="0.05" filter="url(#b05)"/>
<circle cx="150.60" cy="217.40" r="1.7" fill="#000" opacity="0.05" filter="url(#b05)"/>
<circle cx="156.30" cy="217.40" r="1.7" fill="#000" opacity="0.02" filter="url(#b05)"/>
<circle cx="161.60" cy="217.40" r="1.7" fill="#000" opacity="0.01" filter="url(#b05)"/>
<circle cx="27.60" cy="180.50" r="3.9" fill="#000" filter="url(#b05)"/>
<circle cx="32.70" cy="180.50" r="3.9" fill="#000" filter="url(#b05)"/>
<circle cx="27.60" cy="189.50" r="3.2" fill="#000" filter="url(#b05)"/>
<circle cx="32.70" cy="189.50" r="3.2" fill="#000" filter="url(#b05)"/>
<circle cx="27.40" cy="217.70" r="2.9" fill="#000" filter="url(#b05)"/>
<circle cx="32.50" cy="217.70" r="2.9" fill="#000" filter="url(#b05)"/>
<ellipse cx="30.1" cy="179.30" rx="4.5" ry="3" fill="#000" filter="url(#b05)"/>
<circle cx="155.80" cy="181.30" r="2.5" fill="#000" filter="url(#b05)"/>
<circle cx="161.10" cy="181.30" r="2.5" fill="#000" filter="url(#b05)"/>
<circle cx="37.20" cy="196.00" r="1.8" fill="#000" opacity="0.30" filter="url(#b05)"/>
<circle cx="42.50" cy="196.00" r="1.8" fill="#000" opacity="0.30" filter="url(#b05)"/>
<circle cx="97.60" cy="207.40" r="1.8" fill="#000" opacity="0.28" filter="url(#b05)"/>
<circle cx="102.90" cy="207.40" r="1.8" fill="#000" opacity="0.28" filter="url(#b05)"/>
<circle cx="145.00" cy="207.40" r="1.8" fill="#000" opacity="0.20" filter="url(#b05)"/>
<circle cx="150.30" cy="207.40" r="1.8" fill="#000" opacity="0.20" filter="url(#b05)"/>
<circle cx="49.80" cy="217.40" r="1.8" fill="#000" opacity="0.49" filter="url(#b05)"/>
<circle cx="55.10" cy="217.40" r="1.8" fill="#000" opacity="0.49" filter="url(#b05)"/>
<circle cx="132.60" cy="190.60" r="1.9" fill="#000" opacity="0.50" filter="url(#b05)"/>
<circle cx="132.60" cy="196.40" r="1.9" fill="#000" opacity="0.40" filter="url(#b05)"/>
<circle cx="137.70" cy="190.60" r="1.9" fill="#000" opacity="0.50" filter="url(#b05)"/>
<circle cx="137.70" cy="196.40" r="1.9" fill="#000" opacity="0.40" filter="url(#b05)"/>
<circle cx="121.50" cy="190.60" r="1.8" fill="#000" opacity="0.15" filter="url(#b05)"/>
<circle cx="126.80" cy="190.60" r="1.8" fill="#000" opacity="0.15" filter="url(#b05)"/>
<rect x="119.20" y="187.00" width="11.50" height="7.20" fill="none" stroke="#A040FF" stroke-width="0.9" stroke-dasharray="1,0.8" rx="1.2"/>
<rect x="131.50" y="187.00" width="10.30" height="7.20" fill="none" stroke="#F03090" stroke-width="0.9" stroke-dasharray="1,0.8" rx="1.2"/>
<rect x="1.00" y="227.00" width="18.00" height="52.00" fill="#fff" stroke="#222" stroke-width="1"/>
<text x="0.00" y="0.00" font-size="9.0" font-weight="bold" fill="#000" text-anchor="middle" transform="translate(9.40,252.20) rotate(-90)"><tspan dy="-3.06" font-size="5.94">CM</tspan><tspan dy="3.06">THP-</tspan></text>
<text x="0.00" y="0.00" font-size="9.0" font-weight="bold" fill="#000" text-anchor="middle" transform="translate(17.30,252.20) rotate(-90)">NB/G<tspan dy="-3.06" font-size="5.94">high</tspan></text>
<rect x="21.50" y="227.00" width="146.50" height="52.00" fill="#f7f7f7" stroke="#333" stroke-width="1.1"/>
<circle cx="36.80" cy="244.50" r="1.7" fill="#000" opacity="0.06" filter="url(#b05)"/>
<circle cx="42.10" cy="244.50" r="1.7" fill="#000" opacity="0.01" filter="url(#b05)"/>
<circle cx="49.70" cy="244.50" r="1.7" fill="#000" opacity="0.03" filter="url(#b05)"/>
<circle cx="55.00" cy="244.50" r="1.7" fill="#000" opacity="0.08" filter="url(#b05)"/>
<circle cx="60.70" cy="244.50" r="1.7" fill="#000" opacity="0.04" filter="url(#b05)"/>
<circle cx="66.00" cy="244.50" r="1.7" fill="#000" opacity="0.01" filter="url(#b05)"/>
<circle cx="73.60" cy="244.50" r="1.7" fill="#000" opacity="0.01" filter="url(#b05)"/>
<circle cx="78.90" cy="244.50" r="1.7" fill="#000" opacity="0.08" filter="url(#b05)"/>
<circle cx="84.60" cy="244.50" r="1.7" fill="#000" opacity="0.01" filter="url(#b05)"/>
<circle cx="89.90" cy="244.50" r="1.7" fill="#000" opacity="0.03" filter="url(#b05)"/>
<circle cx="97.50" cy="244.50" r="1.7" fill="#000" opacity="0.02" filter="url(#b05)"/>
<circle cx="102.80" cy="244.50" r="1.7" fill="#000" opacity="0.01" filter="url(#b05)"/>
<circle cx="108.50" cy="244.50" r="1.7" fill="#000" opacity="0.03" filter="url(#b05)"/>
<circle cx="113.80" cy="244.50" r="1.7" fill="#000" opacity="0.01" filter="url(#b05)"/>
<circle cx="121.40" cy="244.50" r="1.7" fill="#000" opacity="0.01" filter="url(#b05)"/>
<circle cx="126.70" cy="244.50" r="1.7" fill="#000" opacity="0.02" filter="url(#b05)"/>
<circle cx="132.40" cy="244.50" r="1.7" fill="#000" opacity="0.01" filter="url(#b05)"/>
<circle cx="137.70" cy="244.50" r="1.7" fill="#000" opacity="0.01" filter="url(#b05)"/>
<circle cx="145.30" cy="244.50" r="1.7" fill="#000" opacity="0.03" filter="url(#b05)"/>
<circle cx="150.60" cy="244.50" r="1.7" fill="#000" opacity="0.05" filter="url(#b05)"/>
<circle cx="156.30" cy="244.50" r="1.7" fill="#000" opacity="0.07" filter="url(#b05)"/>
<circle cx="161.60" cy="244.50" r="1.7" fill="#000" opacity="0.01" filter="url(#b05)"/>
<circle cx="25.80" cy="250.20" r="1.7" fill="#000" opacity="0.02" filter="url(#b05)"/>
<circle cx="31.10" cy="250.20" r="1.7" fill="#000" opacity="0.01" filter="url(#b05)"/>
<circle cx="36.80" cy="250.20" r="1.7" fill="#000" opacity="0.03" filter="url(#b05)"/>
<circle cx="42.10" cy="250.20" r="1.7" fill="#000" opacity="0.02" filter="url(#b05)"/>
<circle cx="49.70" cy="250.20" r="1.7" fill="#000" opacity="0.08" filter="url(#b05)"/>
<circle cx="55.00" cy="250.20" r="1.7" fill="#000" opacity="0.02" filter="url(#b05)"/>
<circle cx="60.70" cy="250.20" r="1.7" fill="#000" opacity="0.01" filter="url(#b05)"/>
<circle cx="66.00" cy="250.20" r="1.7" fill="#000" opacity="0.04" filter="url(#b05)"/>
<circle cx="73.60" cy="250.20" r="1.7" fill="#000" opacity="0.01" filter="url(#b05)"/>
<circle cx="78.90" cy="250.20" r="1.7" fill="#000" opacity="0.03" filter="url(#b05)"/>
<circle cx="84.60" cy="250.20" r="1.7" fill="#000" opacity="0.02" filter="url(#b05)"/>
<circle cx="89.90" cy="250.20" r="1.7" fill="#000" opacity="0.08" filter="url(#b05)"/>
<circle cx="97.50" cy="250.20" r="1.7" fill="#000" opacity="0.03" filter="url(#b05)"/>
<circle cx="102.80" cy="250.20" r="1.7" fill="#000" opacity="0.03" filter="url(#b05)"/>
<circle cx="108.50" cy="250.20" r="1.7" fill="#000" opacity="0.01" filter="url(#b05)"/>
<circle cx="113.80" cy="250.20" r="1.7" fill="#000" opacity="0.03" filter="url(#b05)"/>
<circle cx="121.40" cy="250.20" r="1.7" fill="#000" opacity="0.01" filter="url(#b05)"/>
<circle cx="126.70" cy="250.20" r="1.7" fill="#000" opacity="0.05" filter="url(#b05)"/>
<circle cx="132.40" cy="250.20" r="1.7" fill="#000" opacity="0.02" filter="url(#b05)"/>
<circle cx="137.70" cy="250.20" r="1.7" fill="#000" opacity="0.01" filter="url(#b05)"/>
<circle cx="145.30" cy="250.20" r="1.7" fill="#000" opacity="0.01" filter="url(#b05)"/>
<circle cx="150.60" cy="250.20" r="1.7" fill="#000" opacity="0.02" filter="url(#b05)"/>
<circle cx="156.30" cy="250.20" r="1.7" fill="#000" opacity="0.05" filter="url(#b05)"/>
<circle cx="161.60" cy="250.20" r="1.7" fill="#000" opacity="0.01" filter="url(#b05)"/>
<circle cx="25.80" cy="255.80" r="1.7" fill="#000" opacity="0.04" filter="url(#b05)"/>
<circle cx="31.10" cy="255.80" r="1.7" fill="#000" opacity="0.04" filter="url(#b05)"/>
<circle cx="36.80" cy="255.80" r="1.7" fill="#000" opacity="0.01" filter="url(#b05)"/>
<circle cx="42.10" cy="255.80" r="1.7" fill="#000" opacity="0.04" filter="url(#b05)"/>
<circle cx="49.70" cy="255.80" r="1.7" fill="#000" opacity="0.01" filter="url(#b05)"/>
<circle cx="55.00" cy="255.80" r="1.7" fill="#000" opacity="0.01" filter="url(#b05)"/>
<circle cx="60.70" cy="255.80" r="1.7" fill="#000" opacity="0.03" filter="url(#b05)"/>
<circle cx="66.00" cy="255.80" r="1.7" fill="#000" opacity="0.01" filter="url(#b05)"/>
<circle cx="73.60" cy="255.80" r="1.7" fill="#000" opacity="0.07" filter="url(#b05)"/>
<circle cx="78.90" cy="255.80" r="1.7" fill="#000" opacity="0.02" filter="url(#b05)"/>
<circle cx="84.60" cy="255.80" r="1.7" fill="#000" opacity="0.01" filter="url(#b05)"/>
<circle cx="89.90" cy="255.80" r="1.7" fill="#000" opacity="0.05" filter="url(#b05)"/>
<circle cx="97.50" cy="255.80" r="1.7" fill="#000" opacity="0.01" filter="url(#b05)"/>
<circle cx="102.80" cy="255.80" r="1.7" fill="#000" opacity="0.04" filter="url(#b05)"/>
<circle cx="108.50" cy="255.80" r="1.7" fill="#000" opacity="0.01" filter="url(#b05)"/>
<circle cx="113.80" cy="255.80" r="1.7" fill="#000" opacity="0.01" filter="url(#b05)"/>
<circle cx="121.40" cy="255.80" r="1.7" fill="#000" opacity="0.08" filter="url(#b05)"/>
<circle cx="126.70" cy="255.80" r="1.7" fill="#000" opacity="0.04" filter="url(#b05)"/>
<circle cx="132.40" cy="255.80" r="1.7" fill="#000" opacity="0.01" filter="url(#b05)"/>
<circle cx="137.70" cy="255.80" r="1.7" fill="#000" opacity="0.01" filter="url(#b05)"/>
<circle cx="145.30" cy="255.80" r="1.7" fill="#000" opacity="0.09" filter="url(#b05)"/>
<circle cx="150.60" cy="255.80" r="1.7" fill="#000" opacity="0.04" filter="url(#b05)"/>
<circle cx="156.30" cy="255.80" r="1.7" fill="#000" opacity="0.06" filter="url(#b05)"/>
<circle cx="161.60" cy="255.80" r="1.7" fill="#000" opacity="0.01" filter="url(#b05)"/>
<circle cx="25.80" cy="261.40" r="1.7" fill="#000" opacity="0.03" filter="url(#b05)"/>
<circle cx="31.10" cy="261.40" r="1.7" fill="#000" opacity="0.02" filter="url(#b05)"/>
<circle cx="36.80" cy="261.40" r="1.7" fill="#000" opacity="0.01" filter="url(#b05)"/>
<circle cx="42.10" cy="261.40" r="1.7" fill="#000" opacity="0.02" filter="url(#b05)"/>
<circle cx="49.70" cy="261.40" r="1.7" fill="#000" opacity="0.03" filter="url(#b05)"/>
<circle cx="55.00" cy="261.40" r="1.7" fill="#000" opacity="0.02" filter="url(#b05)"/>
<circle cx="60.70" cy="261.40" r="1.7" fill="#000" opacity="0.02" filter="url(#b05)"/>
<circle cx="66.00" cy="261.40" r="1.7" fill="#000" opacity="0.01" filter="url(#b05)"/>
<circle cx="73.60" cy="261.40" r="1.7" fill="#000" opacity="0.06" filter="url(#b05)"/>
<circle cx="78.90" cy="261.40" r="1.7" fill="#000" opacity="0.03" filter="url(#b05)"/>
<circle cx="84.60" cy="261.40" r="1.7" fill="#000" opacity="0.06" filter="url(#b05)"/>
<circle cx="89.90" cy="261.40" r="1.7" fill="#000" opacity="0.02" filter="url(#b05)"/>
<circle cx="97.50" cy="261.40" r="1.7" fill="#000" opacity="0.06" filter="url(#b05)"/>
<circle cx="102.80" cy="261.40" r="1.7" fill="#000" opacity="0.02" filter="url(#b05)"/>
<circle cx="108.50" cy="261.40" r="1.7" fill="#000" opacity="0.03" filter="url(#b05)"/>
<circle cx="113.80" cy="261.40" r="1.7" fill="#000" opacity="0.03" filter="url(#b05)"/>
<circle cx="121.40" cy="261.40" r="1.7" fill="#000" opacity="0.05" filter="url(#b05)"/>
<circle cx="126.70" cy="261.40" r="1.7" fill="#000" opacity="0.02" filter="url(#b05)"/>
<circle cx="132.40" cy="261.40" r="1.7" fill="#000" opacity="0.01" filter="url(#b05)"/>
<circle cx="137.70" cy="261.40" r="1.7" fill="#000" opacity="0.01" filter="url(#b05)"/>
<circle cx="145.30" cy="261.40" r="1.7" fill="#000" opacity="0.01" filter="url(#b05)"/>
<circle cx="150.60" cy="261.40" r="1.7" fill="#000" opacity="0.01" filter="url(#b05)"/>
<circle cx="156.30" cy="261.40" r="1.7" fill="#000" opacity="0.07" filter="url(#b05)"/>
<circle cx="161.60" cy="261.40" r="1.7" fill="#000" opacity="0.02" filter="url(#b05)"/>
<circle cx="36.80" cy="271.60" r="1.7" fill="#000" opacity="0.02" filter="url(#b05)"/>
<circle cx="42.10" cy="271.60" r="1.7" fill="#000" opacity="0.01" filter="url(#b05)"/>
<circle cx="49.70" cy="271.60" r="1.7" fill="#000" opacity="0.01" filter="url(#b05)"/>
<circle cx="55.00" cy="271.60" r="1.7" fill="#000" opacity="0.04" filter="url(#b05)"/>
<circle cx="60.70" cy="271.60" r="1.7" fill="#000" opacity="0.02" filter="url(#b05)"/>
<circle cx="66.00" cy="271.60" r="1.7" fill="#000" opacity="0.01" filter="url(#b05)"/>
<circle cx="73.60" cy="271.60" r="1.7" fill="#000" opacity="0.01" filter="url(#b05)"/>
<circle cx="78.90" cy="271.60" r="1.7" fill="#000" opacity="0.01" filter="url(#b05)"/>
<circle cx="84.60" cy="271.60" r="1.7" fill="#000" opacity="0.01" filter="url(#b05)"/>
<circle cx="89.90" cy="271.60" r="1.7" fill="#000" opacity="0.01" filter="url(#b05)"/>
<circle cx="97.50" cy="271.60" r="1.7" fill="#000" opacity="0.01" filter="url(#b05)"/>
<circle cx="102.80" cy="271.60" r="1.7" fill="#000" opacity="0.01" filter="url(#b05)"/>
<circle cx="108.50" cy="271.60" r="1.7" fill="#000" opacity="0.03" filter="url(#b05)"/>
<circle cx="113.80" cy="271.60" r="1.7" fill="#000" opacity="0.01" filter="url(#b05)"/>
<circle cx="121.40" cy="271.60" r="1.7" fill="#000" opacity="0.01" filter="url(#b05)"/>
<circle cx="126.70" cy="271.60" r="1.7" fill="#000" opacity="0.01" filter="url(#b05)"/>
<circle cx="132.40" cy="271.60" r="1.7" fill="#000" opacity="0.01" filter="url(#b05)"/>
<circle cx="137.70" cy="271.60" r="1.7" fill="#000" opacity="0.01" filter="url(#b05)"/>
<circle cx="145.30" cy="271.60" r="1.7" fill="#000" opacity="0.01" filter="url(#b05)"/>
<circle cx="150.60" cy="271.60" r="1.7" fill="#000" opacity="0.01" filter="url(#b05)"/>
<circle cx="156.30" cy="271.60" r="1.7" fill="#000" opacity="0.01" filter="url(#b05)"/>
<circle cx="161.60" cy="271.60" r="1.7" fill="#000" opacity="0.04" filter="url(#b05)"/>
<circle cx="27.60" cy="234.70" r="3.9" fill="#000" filter="url(#b05)"/>
<circle cx="32.70" cy="234.70" r="3.9" fill="#000" filter="url(#b05)"/>
<circle cx="27.60" cy="243.70" r="3.2" fill="#000" filter="url(#b05)"/>
<circle cx="32.70" cy="243.70" r="3.2" fill="#000" filter="url(#b05)"/>
<circle cx="27.40" cy="271.90" r="2.9" fill="#000" filter="url(#b05)"/>
<circle cx="32.50" cy="271.90" r="2.9" fill="#000" filter="url(#b05)"/>
<ellipse cx="30.1" cy="233.50" rx="4.5" ry="3" fill="#000" filter="url(#b05)"/>
<circle cx="29.9" cy="231.00" r="3.4" fill="#000" filter="url(#b05)"/>
<circle cx="155.80" cy="235.50" r="2.5" fill="#000" filter="url(#b05)"/>
<circle cx="161.10" cy="235.50" r="2.5" fill="#000" filter="url(#b05)"/>
<circle cx="37.20" cy="250.20" r="1.8" fill="#000" opacity="0.35" filter="url(#b05)"/>
<circle cx="42.50" cy="250.20" r="1.8" fill="#000" opacity="0.35" filter="url(#b05)"/>
<circle cx="97.60" cy="261.60" r="1.8" fill="#000" opacity="0.15" filter="url(#b05)"/>
<circle cx="102.90" cy="261.60" r="1.8" fill="#000" opacity="0.15" filter="url(#b05)"/>
<circle cx="145.00" cy="261.60" r="1.8" fill="#000" opacity="0.12" filter="url(#b05)"/>
<circle cx="150.30" cy="261.60" r="1.8" fill="#000" opacity="0.12" filter="url(#b05)"/>
<circle cx="49.80" cy="271.60" r="1.8" fill="#000" opacity="0.61" filter="url(#b05)"/>
<circle cx="55.10" cy="271.60" r="1.8" fill="#000" opacity="0.61" filter="url(#b05)"/>
<circle cx="132.60" cy="244.80" r="1.9" fill="#000" opacity="0.60" filter="url(#b05)"/>
<circle cx="132.60" cy="250.60" r="1.9" fill="#000" opacity="0.48" filter="url(#b05)"/>
<circle cx="137.70" cy="244.80" r="1.9" fill="#000" opacity="0.60" filter="url(#b05)"/>
<circle cx="137.70" cy="250.60" r="1.9" fill="#000" opacity="0.48" filter="url(#b05)"/>
<circle cx="121.50" cy="244.80" r="1.8" fill="#000" opacity="0.15" filter="url(#b05)"/>
<circle cx="126.80" cy="244.80" r="1.8" fill="#000" opacity="0.15" filter="url(#b05)"/>
<rect x="119.20" y="241.20" width="11.50" height="7.20" fill="none" stroke="#A040FF" stroke-width="0.9" stroke-dasharray="1,0.8" rx="1.2"/>
<rect x="131.50" y="241.20" width="10.30" height="7.20" fill="none" stroke="#F03090" stroke-width="0.9" stroke-dasharray="1,0.8" rx="1.2"/>
<line x1="20.00" y1="285.50" x2="73.00" y2="285.50" stroke="#EE99EE" stroke-width="1.2"/>
<line x1="106.00" y1="285.50" x2="168.00" y2="285.50" stroke="#EE99EE" stroke-width="1.2"/>
<text x="89.50" y="290.30" font-size="8.6" font-weight="bold" fill="#000" text-anchor="middle">A549</text>
<text x="190.00" y="36.20" font-size="14" font-weight="bold" fill="#000" text-anchor="start">b</text>
<text x="188.00" y="59.80" font-size="8.3" font-weight="normal" fill="#222" text-anchor="start">kDa</text>
<text x="0.00" y="0.00" font-size="9.4" font-weight="bold" fill="#000" text-anchor="start" transform="translate(216.50,62.30) rotate(-48)"><tspan dy="-3.20" font-size="6.20">CM</tspan><tspan dy="3.20">THP-Veh/G</tspan><tspan dy="-3.20" font-size="6.20">low</tspan></text>
<text x="0.00" y="0.00" font-size="9.4" font-weight="bold" fill="#000" text-anchor="start" transform="translate(237.80,62.30) rotate(-48)"><tspan dy="-3.20" font-size="6.20">CM</tspan><tspan dy="3.20">THP-Veh</tspan></text>
<text x="0.00" y="0.00" font-size="9.4" font-weight="bold" fill="#000" text-anchor="start" transform="translate(252.80,62.30) rotate(-48)"><tspan dy="-3.20" font-size="6.20">CM</tspan><tspan dy="3.20">THP-Veh/G</tspan><tspan dy="-3.20" font-size="6.20">high</tspan></text>
<text x="0.00" y="0.00" font-size="9.4" font-weight="bold" fill="#000" text-anchor="start" transform="translate(276.30,62.30) rotate(-48)"><tspan dy="-3.20" font-size="6.20">CM</tspan><tspan dy="3.20">THP-NB/G</tspan><tspan dy="-3.20" font-size="6.20">low</tspan></text>
<text x="0.00" y="0.00" font-size="9.4" font-weight="bold" fill="#000" text-anchor="start" transform="translate(294.10,62.30) rotate(-48)"><tspan dy="-3.20" font-size="6.20">CM</tspan><tspan dy="3.20">THP-NB</tspan></text>
<text x="0.00" y="0.00" font-size="9.4" font-weight="bold" fill="#000" text-anchor="start" transform="translate(311.30,62.30) rotate(-48)"><tspan dy="-3.20" font-size="6.20">CM</tspan><tspan dy="3.20">THP-NB/G</tspan><tspan dy="-3.20" font-size="6.20">high</tspan></text>
<rect x="208.50" y="64.00" width="113.00" height="21.50" fill="#f2f2f2" stroke="#222" stroke-width="1"/>
<rect x="208.50" y="87.50" width="113.00" height="20.50" fill="#f2f2f2" stroke="#222" stroke-width="1"/>
<rect x="208.50" y="110.50" width="113.00" height="21.30" fill="#f2f2f2" stroke="#222" stroke-width="1"/>
<line x1="201.00" y1="67.00" x2="212.00" y2="67.00" stroke="#000" stroke-width="0.9"/>
<text x="0.00" y="0.00" font-size="8.6" font-weight="normal" fill="#222" text-anchor="end" transform="translate(199.00,69.60) scale(0.9,1)">100</text>
<line x1="201.00" y1="91.00" x2="212.00" y2="91.00" stroke="#000" stroke-width="0.9"/>
<text x="0.00" y="0.00" font-size="8.6" font-weight="normal" fill="#222" text-anchor="end" transform="translate(199.00,93.60) scale(0.9,1)">100</text>
<line x1="201.00" y1="114.00" x2="212.00" y2="114.00" stroke="#000" stroke-width="0.9"/>
<text x="0.00" y="0.00" font-size="8.6" font-weight="normal" fill="#222" text-anchor="end" transform="translate(199.00,116.60) scale(0.9,1)">45</text>
<ellipse cx="218.00" cy="72.80" rx="7.75" ry="2.00" fill="#000" opacity="0.12" filter="url(#b1)"/>
<ellipse cx="236.00" cy="72.80" rx="7.75" ry="3.25" fill="#000" opacity="0.75" filter="url(#b1)"/>
<ellipse cx="254.00" cy="72.80" rx="7.75" ry="3.25" fill="#000" opacity="0.75" filter="url(#b1)"/>
<ellipse cx="272.30" cy="72.80" rx="7.75" ry="2.50" fill="#000" opacity="0.55" filter="url(#b1)"/>
<ellipse cx="290.80" cy="72.80" rx="7.75" ry="3.50" fill="#000" opacity="0.90" filter="url(#b1)"/>
<rect x="301.20" y="66.5" width="16" height="12.5" rx="4.5" fill="#000" filter="url(#b1)"/>
<ellipse cx="309.20" cy="80.50" rx="7.00" ry="2.50" fill="#000" opacity="0.30" filter="url(#b1)"/>
<ellipse cx="218.00" cy="97.30" rx="7.75" ry="1.70" fill="#000" opacity="0.95" filter="url(#b7)"/>
<ellipse cx="218.00" cy="98.00" rx="8.00" ry="3.50" fill="#000" opacity="0.12" filter="url(#b1)"/>
<ellipse cx="218.00" cy="120.50" rx="7.75" ry="1.90" fill="#000" opacity="1.00" filter="url(#b7)"/>
<ellipse cx="218.00" cy="121.00" rx="8.00" ry="3.50" fill="#000" opacity="0.15" filter="url(#b1)"/>
<ellipse cx="236.00" cy="97.30" rx="7.75" ry="1.70" fill="#000" opacity="0.95" filter="url(#b7)"/>
<ellipse cx="236.00" cy="98.00" rx="8.00" ry="3.50" fill="#000" opacity="0.12" filter="url(#b1)"/>
<ellipse cx="236.00" cy="120.50" rx="7.75" ry="1.90" fill="#000" opacity="1.00" filter="url(#b7)"/>
<ellipse cx="236.00" cy="121.00" rx="8.00" ry="3.50" fill="#000" opacity="0.15" filter="url(#b1)"/>
<ellipse cx="254.00" cy="97.30" rx="7.75" ry="1.70" fill="#000" opacity="0.70" filter="url(#b7)"/>
<ellipse cx="254.00" cy="98.00" rx="8.00" ry="3.50" fill="#000" opacity="0.12" filter="url(#b1)"/>
<ellipse cx="254.00" cy="120.50" rx="7.75" ry="1.90" fill="#000" opacity="1.00" filter="url(#b7)"/>
<ellipse cx="254.00" cy="121.00" rx="8.00" ry="3.50" fill="#000" opacity="0.15" filter="url(#b1)"/>
<ellipse cx="272.30" cy="97.30" rx="7.75" ry="1.70" fill="#000" opacity="1.00" filter="url(#b7)"/>
<ellipse cx="272.30" cy="98.00" rx="8.00" ry="3.50" fill="#000" opacity="0.12" filter="url(#b1)"/>
<ellipse cx="272.30" cy="120.50" rx="7.75" ry="1.90" fill="#000" opacity="1.00" filter="url(#b7)"/>
<ellipse cx="272.30" cy="121.00" rx="8.00" ry="3.50" fill="#000" opacity="0.15" filter="url(#b1)"/>
<ellipse cx="290.80" cy="97.30" rx="7.75" ry="1.70" fill="#000" opacity="1.00" filter="url(#b7)"/>
<ellipse cx="290.80" cy="98.00" rx="8.00" ry="3.50" fill="#000" opacity="0.12" filter="url(#b1)"/>
<ellipse cx="290.80" cy="120.50" rx="7.75" ry="1.90" fill="#000" opacity="1.00" filter="url(#b7)"/>
<ellipse cx="290.80" cy="121.00" rx="8.00" ry="3.50" fill="#000" opacity="0.15" filter="url(#b1)"/>
<ellipse cx="309.20" cy="97.30" rx="7.75" ry="1.70" fill="#000" opacity="0.95" filter="url(#b7)"/>
<ellipse cx="309.20" cy="98.00" rx="8.00" ry="3.50" fill="#000" opacity="0.12" filter="url(#b1)"/>
<ellipse cx="309.20" cy="120.50" rx="7.75" ry="1.90" fill="#000" opacity="1.00" filter="url(#b7)"/>
<ellipse cx="309.20" cy="121.00" rx="8.00" ry="3.50" fill="#000" opacity="0.15" filter="url(#b1)"/>
<text x="324.00" y="77.00" font-size="8.6" font-weight="bold" fill="#000" text-anchor="start">pIGF-1R</text>
<text x="324.00" y="87.00" font-size="8.6" font-weight="bold" fill="#000" text-anchor="start">/ IR</text>
<text x="324.00" y="100.50" font-size="8.6" font-weight="bold" fill="#000" text-anchor="start">IR</text>
<text x="324.00" y="124.00" font-size="8.6" font-weight="bold" fill="#000" text-anchor="start">Actin</text>
<line x1="208.00" y1="138.30" x2="250.00" y2="138.30" stroke="#EE99EE" stroke-width="1.2"/>
<line x1="283.00" y1="138.30" x2="323.00" y2="138.30" stroke="#EE99EE" stroke-width="1.2"/>
<text x="266.50" y="142.50" font-size="8.6" font-weight="bold" fill="#000" text-anchor="middle">A549</text>
<text x="190.50" y="183.20" font-size="14" font-weight="bold" fill="#000" text-anchor="start">c</text>
<text x="176.00" y="209.50" font-size="8.3" font-weight="normal" fill="#222" text-anchor="start">kDa</text>
<text x="251.50" y="204.50" font-size="9" font-weight="bold" fill="#000" text-anchor="middle">-</text>
<text x="0.00" y="0.00" font-size="9.4" font-weight="bold" fill="#000" text-anchor="start" transform="translate(210.30,208.80) rotate(-48)"><tspan dy="-3.20" font-size="6.20">CM</tspan><tspan dy="3.20">THP-NB</tspan></text>
<text x="0.00" y="0.00" font-size="9.4" font-weight="bold" fill="#000" text-anchor="start" transform="translate(227.80,208.80) rotate(-48)"><tspan dy="-3.20" font-size="6.20">CM</tspan><tspan dy="3.20">THP-NB/G</tspan><tspan dy="-3.20" font-size="6.20">high</tspan></text>
<text x="0.00" y="0.00" font-size="9.4" font-weight="bold" fill="#000" text-anchor="start" transform="translate(272.80,208.80) rotate(-48)"><tspan dy="-3.20" font-size="6.20">CM</tspan><tspan dy="3.20">THP-NB</tspan></text>
<text x="0.00" y="0.00" font-size="9.4" font-weight="bold" fill="#000" text-anchor="start" transform="translate(289.10,208.80) rotate(-48)"><tspan dy="-3.20" font-size="6.20">CM</tspan><tspan dy="3.20">THP-NB/G</tspan><tspan dy="-3.20" font-size="6.20">high</tspan></text>
<text x="0.00" y="0.00" font-size="9.4" font-weight="bold" fill="#000" text-anchor="start" transform="translate(312.80,208.80) rotate(-48)"><tspan dy="-3.20" font-size="6.20">CM</tspan><tspan dy="3.20">THP-NB</tspan></text>
<text x="0.00" y="0.00" font-size="9.4" font-weight="bold" fill="#000" text-anchor="start" transform="translate(329.10,208.80) rotate(-48)"><tspan dy="-3.20" font-size="6.20">CM</tspan><tspan dy="3.20">THP-NB/G</tspan><tspan dy="-3.20" font-size="6.20">high</tspan></text>
<rect x="197.00" y="210.00" width="42.00" height="20.80" fill="#f2f2f2" stroke="#222" stroke-width="1"/>
<rect x="241.50" y="210.00" width="102.30" height="20.80" fill="#f2f2f2" stroke="#222" stroke-width="1"/>
<rect x="197.00" y="233.00" width="42.00" height="21.50" fill="#f2f2f2" stroke="#222" stroke-width="1"/>
<rect x="241.50" y="233.00" width="102.30" height="21.50" fill="#f2f2f2" stroke="#222" stroke-width="1"/>
<rect x="197.00" y="257.00" width="42.00" height="21.00" fill="#f2f2f2" stroke="#222" stroke-width="1"/>
<rect x="241.50" y="257.00" width="102.30" height="21.00" fill="#f2f2f2" stroke="#222" stroke-width="1"/>
<line x1="189.00" y1="213.50" x2="200.00" y2="213.50" stroke="#000" stroke-width="0.9"/>
<text x="0.00" y="0.00" font-size="8.6" font-weight="normal" fill="#222" text-anchor="end" transform="translate(187.00,216.10) scale(0.9,1)">100</text>
<line x1="189.00" y1="236.50" x2="200.00" y2="236.50" stroke="#000" stroke-width="0.9"/>
<text x="0.00" y="0.00" font-size="8.6" font-weight="normal" fill="#222" text-anchor="end" transform="translate(187.00,239.10) scale(0.9,1)">100</text>
<line x1="189.00" y1="260.50" x2="200.00" y2="260.50" stroke="#000" stroke-width="0.9"/>
<text x="0.00" y="0.00" font-size="8.6" font-weight="normal" fill="#222" text-anchor="end" transform="translate(187.00,263.10) scale(0.9,1)">100</text>
<ellipse cx="207.50" cy="221.00" rx="7.50" ry="2.00" fill="#000" opacity="0.40" filter="url(#b1)"/>
<ellipse cx="228.50" cy="221.00" rx="7.50" ry="2.25" fill="#000" opacity="0.80" filter="url(#b1)"/>
<ellipse cx="251.73" cy="221.00" rx="6.00" ry="4.00" fill="#000" opacity="0.06" filter="url(#b2)"/>
<ellipse cx="272.19" cy="221.00" rx="10.00" ry="8.50" fill="#000" opacity="0.19" filter="url(#b2)"/>
<ellipse cx="272.19" cy="222.00" rx="8.50" ry="3.00" fill="#000" opacity="0.26" filter="url(#b1)"/>
<ellipse cx="292.65" cy="221.00" rx="10.00" ry="8.50" fill="#000" opacity="0.39" filter="url(#b2)"/>
<ellipse cx="292.65" cy="222.00" rx="8.50" ry="3.00" fill="#000" opacity="0.52" filter="url(#b1)"/>
<ellipse cx="313.11" cy="221.00" rx="10.00" ry="8.50" fill="#000" opacity="0.47" filter="url(#b2)"/>
<ellipse cx="313.11" cy="222.00" rx="8.50" ry="3.00" fill="#000" opacity="0.64" filter="url(#b1)"/>
<ellipse cx="333.57" cy="221.00" rx="10.00" ry="8.50" fill="#000" opacity="0.44" filter="url(#b2)"/>
<ellipse cx="333.57" cy="222.00" rx="8.50" ry="3.00" fill="#000" opacity="0.60" filter="url(#b1)"/>
<ellipse cx="207.50" cy="244.00" rx="7.50" ry="2.00" fill="#000" opacity="0.75" filter="url(#b1)"/>
<ellipse cx="228.50" cy="244.00" rx="7.50" ry="2.00" fill="#000" opacity="0.75" filter="url(#b1)"/>
<ellipse cx="272.19" cy="243.00" rx="8.50" ry="2.00" fill="#000" opacity="0.85" filter="url(#b1)"/>
<ellipse cx="272.19" cy="245.00" rx="9.00" ry="6.00" fill="#000" opacity="0.21" filter="url(#b2)"/>
<ellipse cx="292.65" cy="243.00" rx="8.50" ry="2.00" fill="#000" opacity="0.90" filter="url(#b1)"/>
<ellipse cx="292.65" cy="245.00" rx="9.00" ry="6.00" fill="#000" opacity="0.23" filter="url(#b2)"/>
<ellipse cx="313.11" cy="243.00" rx="8.50" ry="2.00" fill="#000" opacity="0.25" filter="url(#b1)"/>
<ellipse cx="313.11" cy="245.00" rx="9.00" ry="6.00" fill="#000" opacity="0.06" filter="url(#b2)"/>
<ellipse cx="333.57" cy="243.00" rx="8.50" ry="2.00" fill="#000" opacity="0.20" filter="url(#b1)"/>
<ellipse cx="333.57" cy="245.00" rx="9.00" ry="6.00" fill="#000" opacity="0.05" filter="url(#b2)"/>
<ellipse cx="207.50" cy="268.00" rx="8.00" ry="2.75" fill="#000" opacity="1.00" filter="url(#b1)"/>
<ellipse cx="228.50" cy="268.00" rx="8.00" ry="2.50" fill="#000" opacity="1.00" filter="url(#b1)"/>
<ellipse cx="272.19" cy="268.00" rx="9.00" ry="2.50" fill="#000" opacity="0.20" filter="url(#b1)"/>
<ellipse cx="272.19" cy="266.00" rx="9.00" ry="8.00" fill="#000" opacity="0.08" filter="url(#b2)"/>
<ellipse cx="292.65" cy="268.00" rx="9.00" ry="2.50" fill="#000" opacity="0.12" filter="url(#b1)"/>
<ellipse cx="292.65" cy="266.00" rx="9.00" ry="8.00" fill="#000" opacity="0.07" filter="url(#b2)"/>
<ellipse cx="313.11" cy="268.00" rx="9.00" ry="2.50" fill="#000" opacity="0.85" filter="url(#b1)"/>
<ellipse cx="313.11" cy="266.00" rx="9.00" ry="8.00" fill="#000" opacity="0.18" filter="url(#b2)"/>
<ellipse cx="333.57" cy="268.00" rx="9.00" ry="2.50" fill="#000" opacity="0.85" filter="url(#b1)"/>
<ellipse cx="333.57" cy="266.00" rx="9.00" ry="8.00" fill="#000" opacity="0.18" filter="url(#b2)"/>
<text x="346.50" y="224.50" font-size="8.6" font-weight="bold" fill="#000" text-anchor="start">pTyr</text>
<text x="346.50" y="248.00" font-size="8.6" font-weight="bold" fill="#000" text-anchor="start">IR</text>
<text x="346.50" y="271.00" font-size="8.6" font-weight="bold" fill="#000" text-anchor="start">IGF-1R</text>
<line x1="197.00" y1="281.30" x2="239.00" y2="281.30" stroke="#9966CC" stroke-width="1"/>
<line x1="241.50" y1="281.30" x2="258.00" y2="281.30" stroke="#9966CC" stroke-width="1"/>
<line x1="260.00" y1="281.30" x2="300.00" y2="281.30" stroke="#9966CC" stroke-width="1"/>
<line x1="302.50" y1="281.30" x2="343.00" y2="281.30" stroke="#9966CC" stroke-width="1"/>
<text x="218.00" y="292.50" font-size="8.4" font-weight="bold" fill="#000" text-anchor="middle">Input</text>
<text x="249.00" y="292.50" font-size="8.4" font-weight="bold" fill="#000" text-anchor="middle">IgG</text>
<text x="278.00" y="292.50" font-size="8.4" font-weight="bold" fill="#000" text-anchor="middle">IR</text>
<text x="321.00" y="292.50" font-size="8.4" font-weight="bold" fill="#000" text-anchor="middle">IGF-1R</text>
<text x="347.00" y="292.50" font-size="8.4" font-weight="bold" fill="#000" text-anchor="start">: IP</text>
<line x1="197.50" y1="303.00" x2="257.50" y2="303.00" stroke="#EE99EE" stroke-width="1.2"/>
<line x1="291.30" y1="303.00" x2="343.00" y2="303.00" stroke="#EE99EE" stroke-width="1.2"/>
<text x="274.00" y="306.80" font-size="8.6" font-weight="bold" fill="#000" text-anchor="middle">A549</text>
<text x="389.50" y="36.00" font-size="14" font-weight="bold" fill="#000" text-anchor="start">d</text>
<text x="406.50" y="7.60" font-size="9" font-weight="bold" fill="#000" text-anchor="start"><tspan fill="#C30FC3">Veh</tspan> or <tspan fill="#C30FC3">NB</tspan> under</text>
<text x="407.50" y="18.70" font-size="9" font-weight="bold" fill="#000" text-anchor="start"><tspan fill="#9A68F5">G</tspan><tspan dy="-3.06" font-size="5.94" fill="#9A68F5">low</tspan><tspan dy="3.06">, </tspan><tspan fill="#9A68F5">G</tspan><tspan dy="-3.06" font-size="5.94" fill="#9A68F5">std</tspan><tspan dy="3.06">, or </tspan><tspan fill="#9A68F5">G</tspan><tspan dy="-3.06" font-size="5.94" fill="#9A68F5">high</tspan></text>
<g transform="translate(482.00,22.80) scale(0.95)"><path d="M2,-1 L16.6,-8.4 L23.5,-6.3 L25.6,0 L25.6,1 L19,3.2 L5,5.8 L4,4.5 Z" fill="#e8e8e8" stroke="#c8c8c8" stroke-width="0.5"/><path d="M4.5,0.4 L17,-3.6 L25.6,-0.3 L25.6,1 L19,3.2 L5.3,5.8 L4.5,4.5 Z" fill="#E8747A"/><path d="M5,1.8 L17,-2.3 L24.5,0" fill="none" stroke="#F4A6AA" stroke-width="0.6"/><rect x="0" y="0" width="4.5" height="4.8" rx="1.2" fill="#2F86D6"/></g>
<path d="M487.50,9.50 Q492.50,11.00 491.80,16.80" fill="none" stroke="#C30FC3" stroke-width="1.6"/>
<path d="M491.47,19.54 L489.74,14.70 L494.30,15.25 Z" fill="#C30FC3" stroke="none" stroke-width="1"/>
<text x="510.00" y="24.00" font-size="9" font-weight="bold" fill="#6AAE3C" text-anchor="start">THP-1</text>
<rect x="557.50" y="10.00" width="61.50" height="14.50" fill="#fff" stroke="#333" stroke-width="0.9"/>
<rect x="561.50" y="14.00" width="5.80" height="6.50" fill="#F0C9F6" stroke="#222" stroke-width="0.8"/>
<text x="568.50" y="21.00" font-size="9" font-weight="bold" fill="#000" text-anchor="start">Veh</text>
<rect x="592.00" y="14.00" width="5.80" height="6.50" fill="#AC4ED4" stroke="#222" stroke-width="0.8"/>
<text x="599.00" y="21.00" font-size="9" font-weight="bold" fill="#000" text-anchor="start">NB</text>
<text x="0.00" y="0.00" font-size="9" font-weight="bold" fill="#000" text-anchor="middle" transform="translate(391.00,95.00) rotate(-90)">mRNA (Fold)</text>
<line x1="402.00" y1="123.20" x2="402.00" y2="63.60" stroke="#000" stroke-width="1.3"/>
<line x1="399.00" y1="122.60" x2="402.00" y2="122.60" stroke="#000" stroke-width="0.9"/>
<text x="397.50" y="125.41" font-size="7.8" font-weight="normal" fill="#222" text-anchor="end">0</text>
<line x1="399.00" y1="110.90" x2="402.00" y2="110.90" stroke="#000" stroke-width="0.9"/>
<text x="397.50" y="113.71" font-size="7.8" font-weight="normal" fill="#222" text-anchor="end">1</text>
<line x1="399.00" y1="99.20" x2="402.00" y2="99.20" stroke="#000" stroke-width="0.9"/>
<text x="397.50" y="102.01" font-size="7.8" font-weight="normal" fill="#222" text-anchor="end">2</text>
<line x1="399.00" y1="87.50" x2="402.00" y2="87.50" stroke="#000" stroke-width="0.9"/>
<text x="397.50" y="90.31" font-size="7.8" font-weight="normal" fill="#222" text-anchor="end">3</text>
<line x1="399.00" y1="75.80" x2="402.00" y2="75.80" stroke="#000" stroke-width="0.9"/>
<text x="397.50" y="78.61" font-size="7.8" font-weight="normal" fill="#222" text-anchor="end">4</text>
<line x1="399.00" y1="64.10" x2="402.00" y2="64.10" stroke="#000" stroke-width="0.9"/>
<text x="397.50" y="66.91" font-size="7.8" font-weight="normal" fill="#222" text-anchor="end">5</text>
<line x1="401.40" y1="122.60" x2="485.50" y2="122.60" stroke="#000" stroke-width="1.3"/>
<rect x="407.50" y="110.90" width="7.40" height="11.70" fill="#F0C9F6" stroke="#111" stroke-width="1"/>
<line x1="411.20" y1="110.90" x2="411.20" y2="110.08" stroke="#222" stroke-width="0.9"/>
<line x1="408.90" y1="110.08" x2="413.50" y2="110.08" stroke="#222" stroke-width="0.9"/>
<circle cx="410.00" cy="111.20" r="1.1" fill="#8A10A8"/>
<circle cx="412.40" cy="111.20" r="1.1" fill="#8A10A8"/>
<circle cx="411.20" cy="114.90" r="1.1" fill="#8A10A8"/>
<rect x="414.90" y="100.95" width="7.40" height="21.64" fill="#AC4ED4" stroke="#111" stroke-width="1"/>
<line x1="418.60" y1="100.95" x2="418.60" y2="99.78" stroke="#222" stroke-width="0.9"/>
<line x1="416.30" y1="99.78" x2="420.90" y2="99.78" stroke="#222" stroke-width="0.9"/>
<circle cx="417.40" cy="101.25" r="1.1" fill="#8A10A8"/>
<circle cx="419.80" cy="101.25" r="1.1" fill="#8A10A8"/>
<circle cx="418.60" cy="104.95" r="1.1" fill="#8A10A8"/>
<rect x="427.00" y="110.31" width="7.40" height="12.28" fill="#F0C9F6" stroke="#111" stroke-width="1"/>
<line x1="430.70" y1="110.31" x2="430.70" y2="108.56" stroke="#222" stroke-width="0.9"/>
<line x1="428.40" y1="108.56" x2="433.00" y2="108.56" stroke="#222" stroke-width="0.9"/>
<circle cx="429.50" cy="110.61" r="1.1" fill="#8A10A8"/>
<circle cx="431.90" cy="110.61" r="1.1" fill="#8A10A8"/>
<circle cx="430.70" cy="114.31" r="1.1" fill="#8A10A8"/>
<rect x="434.40" y="92.18" width="7.40" height="30.42" fill="#AC4ED4" stroke="#111" stroke-width="1"/>
<line x1="438.10" y1="92.18" x2="438.10" y2="91.59" stroke="#222" stroke-width="0.9"/>
<line x1="435.80" y1="91.59" x2="440.40" y2="91.59" stroke="#222" stroke-width="0.9"/>
<circle cx="436.90" cy="92.48" r="1.1" fill="#8A10A8"/>
<circle cx="439.30" cy="92.48" r="1.1" fill="#8A10A8"/>
<circle cx="438.10" cy="96.18" r="1.1" fill="#8A10A8"/>
<rect x="445.80" y="105.05" width="7.40" height="17.55" fill="#F0C9F6" stroke="#111" stroke-width="1"/>
<line x1="449.50" y1="105.05" x2="449.50" y2="102.12" stroke="#222" stroke-width="0.9"/>
<line x1="447.20" y1="102.12" x2="451.80" y2="102.12" stroke="#222" stroke-width="0.9"/>
<circle cx="448.30" cy="105.35" r="1.1" fill="#8A10A8"/>
<circle cx="450.70" cy="105.35" r="1.1" fill="#8A10A8"/>
<circle cx="449.50" cy="109.05" r="1.1" fill="#8A10A8"/>
<rect x="453.20" y="82.82" width="7.40" height="39.78" fill="#AC4ED4" stroke="#111" stroke-width="1"/>
<line x1="456.90" y1="82.82" x2="456.90" y2="81.65" stroke="#222" stroke-width="0.9"/>
<line x1="454.60" y1="81.65" x2="459.20" y2="81.65" stroke="#222" stroke-width="0.9"/>
<circle cx="455.70" cy="83.12" r="1.1" fill="#8A10A8"/>
<circle cx="458.10" cy="83.12" r="1.1" fill="#8A10A8"/>
<circle cx="456.90" cy="86.82" r="1.1" fill="#8A10A8"/>
<rect x="465.60" y="110.90" width="7.40" height="11.70" fill="#F0C9F6" stroke="#111" stroke-width="1"/>
<line x1="469.30" y1="110.90" x2="469.30" y2="108.56" stroke="#222" stroke-width="0.9"/>
<line x1="467.00" y1="108.56" x2="471.60" y2="108.56" stroke="#222" stroke-width="0.9"/>
<circle cx="468.10" cy="111.20" r="1.1" fill="#8A10A8"/>
<circle cx="470.50" cy="111.20" r="1.1" fill="#8A10A8"/>
<circle cx="469.30" cy="114.90" r="1.1" fill="#8A10A8"/>
<rect x="473.00" y="112.66" width="7.40" height="9.94" fill="#AC4ED4" stroke="#111" stroke-width="1"/>
<line x1="476.70" y1="112.66" x2="476.70" y2="111.72" stroke="#222" stroke-width="0.9"/>
<line x1="474.40" y1="111.72" x2="479.00" y2="111.72" stroke="#222" stroke-width="0.9"/>
<circle cx="475.50" cy="112.95" r="1.1" fill="#8A10A8"/>
<circle cx="477.90" cy="112.95" r="1.1" fill="#8A10A8"/>
<circle cx="476.70" cy="116.66" r="1.1" fill="#8A10A8"/>
<line x1="419.00" y1="51.40" x2="457.80" y2="51.40" stroke="#333" stroke-width="0.9"/>
<text x="0.00" y="0.00" font-size="9.0" font-weight="normal" fill="#222" text-anchor="start" transform="translate(422.00,49.00) scale(0.76,1)"><tspan font-style="italic">p</tspan> &lt; 0.0001</text>
<line x1="438.00" y1="62.10" x2="458.50" y2="62.10" stroke="#333" stroke-width="0.9"/>
<text x="0.00" y="0.00" font-size="9.0" font-weight="normal" fill="#222" text-anchor="start" transform="translate(429.00,59.90) scale(0.76,1)"><tspan font-style="italic">p</tspan> &lt; 0.0001</text>
<line x1="449.30" y1="73.00" x2="458.00" y2="73.00" stroke="#333" stroke-width="0.9"/>
<text x="0.00" y="0.00" font-size="9.0" font-weight="normal" fill="#222" text-anchor="start" transform="translate(439.50,69.80) scale(0.76,1)"><tspan font-style="italic">p</tspan> &lt; 0.0001</text>
<line x1="457.80" y1="80.30" x2="477.50" y2="80.30" stroke="#333" stroke-width="0.9"/>
<text x="0.00" y="0.00" font-size="9.0" font-weight="normal" fill="#222" text-anchor="start" transform="translate(459.00,77.40) scale(0.76,1)"><tspan font-style="italic">p</tspan> &lt; 0.001</text>
<line x1="430.00" y1="84.00" x2="438.80" y2="84.00" stroke="#333" stroke-width="0.9"/>
<text x="0.00" y="0.00" font-size="9.0" font-weight="normal" fill="#222" text-anchor="start" transform="translate(420.50,81.80) scale(0.76,1)"><tspan font-style="italic">p</tspan> &lt; 0.0001</text>
<line x1="410.30" y1="95.20" x2="419.00" y2="95.20" stroke="#333" stroke-width="0.9"/>
<text x="0.00" y="0.00" font-size="9.0" font-weight="normal" fill="#222" text-anchor="start" transform="translate(404.00,92.30) scale(0.76,1)"><tspan font-style="italic">p</tspan> &lt; 0.0001</text>
<line x1="469.00" y1="105.70" x2="478.00" y2="105.70" stroke="#333" stroke-width="0.9"/>
<text x="0.00" y="0.00" font-size="9.0" font-weight="normal" fill="#222" text-anchor="start" transform="translate(462.50,101.20) scale(0.76,1)"><tspan font-style="italic">p</tspan> = 0.59</text>
<text x="414.10" y="134.90" font-size="9.2" font-weight="bold" fill="#000" text-anchor="middle">G<tspan dy="-3.13" font-size="6.07">low</tspan></text>
<text x="433.60" y="134.90" font-size="9.2" font-weight="bold" fill="#000" text-anchor="middle">G<tspan dy="-3.13" font-size="6.07">std</tspan></text>
<text x="452.40" y="134.90" font-size="9.2" font-weight="bold" fill="#000" text-anchor="middle">G<tspan dy="-3.13" font-size="6.07">high</tspan></text>
<text x="472.20" y="134.90" font-size="9.2" font-weight="bold" fill="#000" text-anchor="middle">G<tspan dy="-3.13" font-size="6.07">std</tspan></text>
<line x1="462.30" y1="138.60" x2="483.80" y2="138.60" stroke="#8A2BE2" stroke-width="1.1"/>
<text x="472.50" y="149.10" font-size="9" font-weight="bold" fill="#8A2BE2" text-anchor="middle">2DG</text>
<text x="449.30" y="36.00" font-size="9" font-weight="bold" fill="#000" text-anchor="middle" font-style="italic">IGF2</text>
<line x1="499.30" y1="123.20" x2="499.30" y2="63.60" stroke="#000" stroke-width="1.3"/>
<line x1="496.30" y1="122.60" x2="499.30" y2="122.60" stroke="#000" stroke-width="0.9"/>
<text x="494.80" y="125.41" font-size="7.8" font-weight="normal" fill="#222" text-anchor="end">0</text>
<line x1="496.30" y1="110.90" x2="499.30" y2="110.90" stroke="#000" stroke-width="0.9"/>
<text x="494.80" y="113.71" font-size="7.8" font-weight="normal" fill="#222" text-anchor="end">1</text>
<line x1="496.30" y1="99.20" x2="499.30" y2="99.20" stroke="#000" stroke-width="0.9"/>
<text x="494.80" y="102.01" font-size="7.8" font-weight="normal" fill="#222" text-anchor="end">2</text>
<line x1="496.30" y1="87.50" x2="499.30" y2="87.50" stroke="#000" stroke-width="0.9"/>
<text x="494.80" y="90.31" font-size="7.8" font-weight="normal" fill="#222" text-anchor="end">3</text>
<line x1="496.30" y1="75.80" x2="499.30" y2="75.80" stroke="#000" stroke-width="0.9"/>
<text x="494.80" y="78.61" font-size="7.8" font-weight="normal" fill="#222" text-anchor="end">4</text>
<line x1="496.30" y1="64.10" x2="499.30" y2="64.10" stroke="#000" stroke-width="0.9"/>
<text x="494.80" y="66.91" font-size="7.8" font-weight="normal" fill="#222" text-anchor="end">5</text>
<line x1="498.70" y1="122.60" x2="582.80" y2="122.60" stroke="#000" stroke-width="1.3"/>
<rect x="503.50" y="114.29" width="7.40" height="8.31" fill="#F0C9F6" stroke="#111" stroke-width="1"/>
<line x1="507.20" y1="114.29" x2="507.20" y2="113.82" stroke="#222" stroke-width="0.9"/>
<line x1="504.90" y1="113.82" x2="509.50" y2="113.82" stroke="#222" stroke-width="0.9"/>
<circle cx="506.00" cy="114.59" r="1.1" fill="#8A10A8"/>
<circle cx="508.40" cy="114.59" r="1.1" fill="#8A10A8"/>
<circle cx="507.20" cy="118.29" r="1.1" fill="#8A10A8"/>
<rect x="510.90" y="110.55" width="7.40" height="12.05" fill="#AC4ED4" stroke="#111" stroke-width="1"/>
<line x1="514.60" y1="110.55" x2="514.60" y2="110.31" stroke="#222" stroke-width="0.9"/>
<line x1="512.30" y1="110.31" x2="516.90" y2="110.31" stroke="#222" stroke-width="0.9"/>
<circle cx="513.40" cy="110.85" r="1.1" fill="#8A10A8"/>
<circle cx="515.80" cy="110.85" r="1.1" fill="#8A10A8"/>
<circle cx="514.60" cy="114.55" r="1.1" fill="#8A10A8"/>
<rect x="522.70" y="114.88" width="7.40" height="7.72" fill="#F0C9F6" stroke="#111" stroke-width="1"/>
<line x1="526.40" y1="114.88" x2="526.40" y2="114.41" stroke="#222" stroke-width="0.9"/>
<line x1="524.10" y1="114.41" x2="528.70" y2="114.41" stroke="#222" stroke-width="0.9"/>
<circle cx="525.20" cy="115.18" r="1.1" fill="#8A10A8"/>
<circle cx="527.60" cy="115.18" r="1.1" fill="#8A10A8"/>
<circle cx="526.40" cy="118.88" r="1.1" fill="#8A10A8"/>
<rect x="530.10" y="111.25" width="7.40" height="11.35" fill="#AC4ED4" stroke="#111" stroke-width="1"/>
<line x1="533.80" y1="111.25" x2="533.80" y2="107.97" stroke="#222" stroke-width="0.9"/>
<line x1="531.50" y1="107.97" x2="536.10" y2="107.97" stroke="#222" stroke-width="0.9"/>
<circle cx="532.60" cy="111.55" r="1.1" fill="#8A10A8"/>
<circle cx="535.00" cy="111.55" r="1.1" fill="#8A10A8"/>
<circle cx="533.80" cy="115.25" r="1.1" fill="#8A10A8"/>
<rect x="541.40" y="110.20" width="7.40" height="12.40" fill="#F0C9F6" stroke="#111" stroke-width="1"/>
<line x1="545.10" y1="110.20" x2="545.10" y2="107.39" stroke="#222" stroke-width="0.9"/>
<line x1="542.80" y1="107.39" x2="547.40" y2="107.39" stroke="#222" stroke-width="0.9"/>
<circle cx="543.90" cy="110.50" r="1.1" fill="#8A10A8"/>
<circle cx="546.30" cy="110.50" r="1.1" fill="#8A10A8"/>
<circle cx="545.10" cy="114.20" r="1.1" fill="#8A10A8"/>
<rect x="548.80" y="109.73" width="7.40" height="12.87" fill="#AC4ED4" stroke="#111" stroke-width="1"/>
<line x1="552.50" y1="109.73" x2="552.50" y2="106.22" stroke="#222" stroke-width="0.9"/>
<line x1="550.20" y1="106.22" x2="554.80" y2="106.22" stroke="#222" stroke-width="0.9"/>
<circle cx="551.30" cy="110.03" r="1.1" fill="#8A10A8"/>
<circle cx="553.70" cy="110.03" r="1.1" fill="#8A10A8"/>
<circle cx="552.50" cy="113.73" r="1.1" fill="#8A10A8"/>
<rect x="561.40" y="112.42" width="7.40" height="10.18" fill="#F0C9F6" stroke="#111" stroke-width="1"/>
<line x1="565.10" y1="112.42" x2="565.10" y2="109.73" stroke="#222" stroke-width="0.9"/>
<line x1="562.80" y1="109.73" x2="567.40" y2="109.73" stroke="#222" stroke-width="0.9"/>
<circle cx="563.90" cy="112.72" r="1.1" fill="#8A10A8"/>
<circle cx="566.30" cy="112.72" r="1.1" fill="#8A10A8"/>
<circle cx="565.10" cy="116.42" r="1.1" fill="#8A10A8"/>
<rect x="568.80" y="106.34" width="7.40" height="16.26" fill="#AC4ED4" stroke="#111" stroke-width="1"/>
<line x1="572.50" y1="106.34" x2="572.50" y2="103.30" stroke="#222" stroke-width="0.9"/>
<line x1="570.20" y1="103.30" x2="574.80" y2="103.30" stroke="#222" stroke-width="0.9"/>
<circle cx="571.30" cy="106.64" r="1.1" fill="#8A10A8"/>
<circle cx="573.70" cy="106.64" r="1.1" fill="#8A10A8"/>
<circle cx="572.50" cy="110.34" r="1.1" fill="#8A10A8"/>
<line x1="506.00" y1="106.20" x2="514.70" y2="106.20" stroke="#333" stroke-width="0.9"/>
<text x="0.00" y="0.00" font-size="9.0" font-weight="normal" fill="#222" text-anchor="start" transform="translate(501.00,103.50) scale(0.76,1)"><tspan font-style="italic">p</tspan> = 0.548</text>
<line x1="525.70" y1="94.60" x2="534.40" y2="94.60" stroke="#333" stroke-width="0.9"/>
<text x="0.00" y="0.00" font-size="9.0" font-weight="normal" fill="#222" text-anchor="start" transform="translate(516.00,92.00) scale(0.76,1)"><tspan font-style="italic">p</tspan> = 0.3181</text>
<line x1="545.40" y1="82.90" x2="554.00" y2="82.90" stroke="#333" stroke-width="0.9"/>
<text x="0.00" y="0.00" font-size="9.0" font-weight="normal" fill="#222" text-anchor="start" transform="translate(535.00,80.40) scale(0.76,1)"><tspan font-style="italic">p</tspan> = 0.9999</text>
<line x1="563.60" y1="100.40" x2="572.40" y2="100.40" stroke="#333" stroke-width="0.9"/>
<text x="0.00" y="0.00" font-size="9.0" font-weight="normal" fill="#222" text-anchor="start" transform="translate(555.60,98.00) scale(0.76,1)"><tspan font-style="italic">p</tspan> = 0.034</text>
<text x="509.40" y="134.90" font-size="9.2" font-weight="bold" fill="#000" text-anchor="middle">G<tspan dy="-3.13" font-size="6.07">low</tspan></text>
<text x="528.60" y="134.90" font-size="9.2" font-weight="bold" fill="#000" text-anchor="middle">G<tspan dy="-3.13" font-size="6.07">std</tspan></text>
<text x="547.30" y="134.90" font-size="9.2" font-weight="bold" fill="#000" text-anchor="middle">G<tspan dy="-3.13" font-size="6.07">high</tspan></text>
<text x="567.30" y="134.90" font-size="9.2" font-weight="bold" fill="#000" text-anchor="middle">G<tspan dy="-3.13" font-size="6.07">std</tspan></text>
<line x1="557.40" y1="138.60" x2="578.90" y2="138.60" stroke="#8A2BE2" stroke-width="1.1"/>
<text x="567.60" y="149.10" font-size="9" font-weight="bold" fill="#8A2BE2" text-anchor="middle">2DG</text>
<text x="536.50" y="36.00" font-size="9" font-weight="bold" fill="#000" text-anchor="middle" font-style="italic">IGF1</text>
<line x1="596.00" y1="123.20" x2="596.00" y2="63.60" stroke="#000" stroke-width="1.3"/>
<line x1="593.00" y1="122.60" x2="596.00" y2="122.60" stroke="#000" stroke-width="0.9"/>
<text x="591.50" y="125.41" font-size="7.8" font-weight="normal" fill="#222" text-anchor="end">0</text>
<line x1="593.00" y1="110.90" x2="596.00" y2="110.90" stroke="#000" stroke-width="0.9"/>
<text x="591.50" y="113.71" font-size="7.8" font-weight="normal" fill="#222" text-anchor="end">1</text>
<line x1="593.00" y1="99.20" x2="596.00" y2="99.20" stroke="#000" stroke-width="0.9"/>
<text x="591.50" y="102.01" font-size="7.8" font-weight="normal" fill="#222" text-anchor="end">2</text>
<line x1="593.00" y1="87.50" x2="596.00" y2="87.50" stroke="#000" stroke-width="0.9"/>
<text x="591.50" y="90.31" font-size="7.8" font-weight="normal" fill="#222" text-anchor="end">3</text>
<line x1="593.00" y1="75.80" x2="596.00" y2="75.80" stroke="#000" stroke-width="0.9"/>
<text x="591.50" y="78.61" font-size="7.8" font-weight="normal" fill="#222" text-anchor="end">4</text>
<line x1="593.00" y1="64.10" x2="596.00" y2="64.10" stroke="#000" stroke-width="0.9"/>
<text x="591.50" y="66.91" font-size="7.8" font-weight="normal" fill="#222" text-anchor="end">5</text>
<line x1="595.40" y1="122.60" x2="679.50" y2="122.60" stroke="#000" stroke-width="1.3"/>
<rect x="600.30" y="110.90" width="7.40" height="11.70" fill="#F0C9F6" stroke="#111" stroke-width="1"/>
<line x1="604.00" y1="110.90" x2="604.00" y2="109.73" stroke="#222" stroke-width="0.9"/>
<line x1="601.70" y1="109.73" x2="606.30" y2="109.73" stroke="#222" stroke-width="0.9"/>
<circle cx="602.80" cy="111.20" r="1.1" fill="#8A10A8"/>
<circle cx="605.20" cy="111.20" r="1.1" fill="#8A10A8"/>
<circle cx="604.00" cy="114.90" r="1.1" fill="#8A10A8"/>
<rect x="607.70" y="110.20" width="7.40" height="12.40" fill="#AC4ED4" stroke="#111" stroke-width="1"/>
<line x1="611.40" y1="110.20" x2="611.40" y2="109.73" stroke="#222" stroke-width="0.9"/>
<line x1="609.10" y1="109.73" x2="613.70" y2="109.73" stroke="#222" stroke-width="0.9"/>
<circle cx="610.20" cy="110.50" r="1.1" fill="#8A10A8"/>
<circle cx="612.60" cy="110.50" r="1.1" fill="#8A10A8"/>
<circle cx="611.40" cy="114.20" r="1.1" fill="#8A10A8"/>
<rect x="620.00" y="110.90" width="7.40" height="11.70" fill="#F0C9F6" stroke="#111" stroke-width="1"/>
<line x1="623.70" y1="110.90" x2="623.70" y2="109.73" stroke="#222" stroke-width="0.9"/>
<line x1="621.40" y1="109.73" x2="626.00" y2="109.73" stroke="#222" stroke-width="0.9"/>
<circle cx="622.50" cy="111.20" r="1.1" fill="#8A10A8"/>
<circle cx="624.90" cy="111.20" r="1.1" fill="#8A10A8"/>
<circle cx="623.70" cy="114.90" r="1.1" fill="#8A10A8"/>
<rect x="627.40" y="113.36" width="7.40" height="9.24" fill="#AC4ED4" stroke="#111" stroke-width="1"/>
<line x1="631.10" y1="113.36" x2="631.10" y2="107.39" stroke="#222" stroke-width="0.9"/>
<line x1="628.80" y1="107.39" x2="633.40" y2="107.39" stroke="#222" stroke-width="0.9"/>
<circle cx="629.90" cy="113.66" r="1.1" fill="#8A10A8"/>
<circle cx="632.30" cy="113.66" r="1.1" fill="#8A10A8"/>
<circle cx="631.10" cy="117.36" r="1.1" fill="#8A10A8"/>
<rect x="639.30" y="110.55" width="7.40" height="12.05" fill="#F0C9F6" stroke="#111" stroke-width="1"/>
<line x1="643.00" y1="110.55" x2="643.00" y2="108.56" stroke="#222" stroke-width="0.9"/>
<line x1="640.70" y1="108.56" x2="645.30" y2="108.56" stroke="#222" stroke-width="0.9"/>
<circle cx="641.80" cy="110.85" r="1.1" fill="#8A10A8"/>
<circle cx="644.20" cy="110.85" r="1.1" fill="#8A10A8"/>
<circle cx="643.00" cy="114.55" r="1.1" fill="#8A10A8"/>
<rect x="646.70" y="108.79" width="7.40" height="13.81" fill="#AC4ED4" stroke="#111" stroke-width="1"/>
<line x1="650.40" y1="108.79" x2="650.40" y2="105.63" stroke="#222" stroke-width="0.9"/>
<line x1="648.10" y1="105.63" x2="652.70" y2="105.63" stroke="#222" stroke-width="0.9"/>
<circle cx="649.20" cy="109.09" r="1.1" fill="#8A10A8"/>
<circle cx="651.60" cy="109.09" r="1.1" fill="#8A10A8"/>
<circle cx="650.40" cy="112.79" r="1.1" fill="#8A10A8"/>
<rect x="658.40" y="105.63" width="7.40" height="16.97" fill="#F0C9F6" stroke="#111" stroke-width="1"/>
<line x1="662.10" y1="105.63" x2="662.10" y2="102.12" stroke="#222" stroke-width="0.9"/>
<line x1="659.80" y1="102.12" x2="664.40" y2="102.12" stroke="#222" stroke-width="0.9"/>
<circle cx="660.90" cy="105.93" r="1.1" fill="#8A10A8"/>
<circle cx="663.30" cy="105.93" r="1.1" fill="#8A10A8"/>
<circle cx="662.10" cy="109.63" r="1.1" fill="#8A10A8"/>
<rect x="665.80" y="109.38" width="7.40" height="13.22" fill="#AC4ED4" stroke="#111" stroke-width="1"/>
<line x1="669.50" y1="109.38" x2="669.50" y2="106.22" stroke="#222" stroke-width="0.9"/>
<line x1="667.20" y1="106.22" x2="671.80" y2="106.22" stroke="#222" stroke-width="0.9"/>
<circle cx="668.30" cy="109.68" r="1.1" fill="#8A10A8"/>
<circle cx="670.70" cy="109.68" r="1.1" fill="#8A10A8"/>
<circle cx="669.50" cy="113.38" r="1.1" fill="#8A10A8"/>
<line x1="603.20" y1="105.50" x2="612.70" y2="105.50" stroke="#333" stroke-width="0.9"/>
<text x="0.00" y="0.00" font-size="9.0" font-weight="normal" fill="#222" text-anchor="start" transform="translate(597.40,102.70) scale(0.76,1)"><tspan font-style="italic">p</tspan> &gt; 0.9999</text>
<line x1="623.20" y1="93.80" x2="632.00" y2="93.80" stroke="#333" stroke-width="0.9"/>
<text x="0.00" y="0.00" font-size="9.0" font-weight="normal" fill="#222" text-anchor="start" transform="translate(613.50,91.40) scale(0.76,1)"><tspan font-style="italic">p</tspan> = 0.9863</text>
<line x1="642.70" y1="82.30" x2="651.90" y2="82.30" stroke="#333" stroke-width="0.9"/>
<text x="0.00" y="0.00" font-size="9.0" font-weight="normal" fill="#222" text-anchor="start" transform="translate(633.20,79.70) scale(0.76,1)"><tspan font-style="italic">p</tspan> = 0.9926</text>
<line x1="662.00" y1="99.00" x2="670.80" y2="99.00" stroke="#333" stroke-width="0.9"/>
<text x="0.00" y="0.00" font-size="9.0" font-weight="normal" fill="#222" text-anchor="start" transform="translate(651.90,95.70) scale(0.76,1)"><tspan font-style="italic">p</tspan> = 0.7782</text>
<text x="605.40" y="134.90" font-size="9.2" font-weight="bold" fill="#000" text-anchor="middle">G<tspan dy="-3.13" font-size="6.07">low</tspan></text>
<text x="625.10" y="134.90" font-size="9.2" font-weight="bold" fill="#000" text-anchor="middle">G<tspan dy="-3.13" font-size="6.07">std</tspan></text>
<text x="644.40" y="134.90" font-size="9.2" font-weight="bold" fill="#000" text-anchor="middle">G<tspan dy="-3.13" font-size="6.07">high</tspan></text>
<text x="663.50" y="134.90" font-size="9.2" font-weight="bold" fill="#000" text-anchor="middle">G<tspan dy="-3.13" font-size="6.07">std</tspan></text>
<line x1="653.60" y1="138.60" x2="675.10" y2="138.60" stroke="#8A2BE2" stroke-width="1.1"/>
<text x="663.80" y="149.10" font-size="9" font-weight="bold" fill="#8A2BE2" text-anchor="middle">2DG</text>
<text x="633.00" y="36.00" font-size="9" font-weight="bold" fill="#000" text-anchor="middle" font-style="italic">INS</text>
<text x="384.00" y="181.50" font-size="14" font-weight="bold" fill="#000" text-anchor="start">e</text>
<text x="401.00" y="181.00" font-size="9" font-weight="bold" fill="#000" text-anchor="start"><tspan fill="#C30FC3">Veh</tspan> or <tspan fill="#C30FC3">NB</tspan> under</text>
<text x="402.00" y="191.00" font-size="9" font-weight="bold" fill="#000" text-anchor="start"><tspan fill="#9A68F5">G</tspan><tspan dy="-3.06" font-size="5.94" fill="#9A68F5">low</tspan><tspan dy="3.06">, </tspan><tspan fill="#9A68F5">G</tspan><tspan dy="-3.06" font-size="5.94" fill="#9A68F5">std</tspan><tspan dy="3.06">, or </tspan><tspan fill="#9A68F5">G</tspan><tspan dy="-3.06" font-size="5.94" fill="#9A68F5">high</tspan></text>
<g transform="translate(476.00,196.00) scale(1.0)"><path d="M2,-1 L16.6,-8.4 L23.5,-6.3 L25.6,0 L25.6,1 L19,3.2 L5,5.8 L4,4.5 Z" fill="#e8e8e8" stroke="#c8c8c8" stroke-width="0.5"/><path d="M4.5,0.4 L17,-3.6 L25.6,-0.3 L25.6,1 L19,3.2 L5.3,5.8 L4.5,4.5 Z" fill="#E8747A"/><path d="M5,1.8 L17,-2.3 L24.5,0" fill="none" stroke="#F4A6AA" stroke-width="0.6"/><rect x="0" y="0" width="4.5" height="4.8" rx="1.2" fill="#2F86D6"/></g>
<path d="M482.50,183.00 Q488.50,184.50 487.50,190.00" fill="none" stroke="#C30FC3" stroke-width="1.6"/>
<path d="M487.01,192.72 L485.57,187.78 L490.09,188.60 Z" fill="#C30FC3" stroke="none" stroke-width="1"/>
<text x="505.00" y="197.20" font-size="9" font-weight="bold" fill="#6AAE3C" text-anchor="start">THP-1</text>
<text x="435.00" y="215.50" font-size="9" font-weight="bold" fill="#000" text-anchor="middle">Veh</text>
<text x="494.50" y="215.50" font-size="9" font-weight="bold" fill="#000" text-anchor="middle">NB</text>
<line x1="407.00" y1="220.50" x2="463.00" y2="220.50" stroke="#000" stroke-width="0.9"/>
<line x1="466.00" y1="220.50" x2="523.00" y2="220.50" stroke="#000" stroke-width="0.9"/>
<text x="415.20" y="231.30" font-size="8.8" font-weight="bold" fill="#000" text-anchor="middle">G<tspan dy="-2.99" font-size="5.81">low</tspan></text>
<text x="435.70" y="231.30" font-size="8.8" font-weight="bold" fill="#000" text-anchor="middle">G<tspan dy="-2.99" font-size="5.81">std</tspan></text>
<text x="456.20" y="231.30" font-size="8.8" font-weight="bold" fill="#000" text-anchor="middle">G<tspan dy="-2.99" font-size="5.81">high</tspan></text>
<text x="475.70" y="231.30" font-size="8.8" font-weight="bold" fill="#000" text-anchor="middle">G<tspan dy="-2.99" font-size="5.81">low</tspan></text>
<text x="495.70" y="231.30" font-size="8.8" font-weight="bold" fill="#000" text-anchor="middle">G<tspan dy="-2.99" font-size="5.81">std</tspan></text>
<text x="516.40" y="231.30" font-size="8.8" font-weight="bold" fill="#000" text-anchor="middle">G<tspan dy="-2.99" font-size="5.81">high</tspan></text>
<text x="383.50" y="232.50" font-size="8.3" font-weight="normal" fill="#222" text-anchor="start">kDa</text>
<rect x="406.00" y="237.50" width="117.30" height="19.50" fill="#f2f2f2" stroke="#222" stroke-width="1"/>
<rect x="406.00" y="260.00" width="117.30" height="18.30" fill="#f2f2f2" stroke="#222" stroke-width="1"/>
<line x1="400.00" y1="240.50" x2="410.00" y2="240.50" stroke="#000" stroke-width="0.9"/>
<text x="0.00" y="0.00" font-size="8.6" font-weight="normal" fill="#222" text-anchor="end" transform="translate(398.50,243.10) scale(0.9,1)">25</text>
<line x1="400.00" y1="263.80" x2="410.00" y2="263.80" stroke="#000" stroke-width="0.9"/>
<text x="0.00" y="0.00" font-size="8.6" font-weight="normal" fill="#222" text-anchor="end" transform="translate(398.50,266.40) scale(0.9,1)">45</text>
<ellipse cx="415.77" cy="247.50" rx="7.50" ry="2.00" fill="#000" opacity="0.45" filter="url(#b1)"/>
<ellipse cx="415.77" cy="269.30" rx="7.50" ry="1.60" fill="#000" opacity="0.92" filter="url(#b1)"/>
<ellipse cx="435.32" cy="247.50" rx="7.50" ry="2.00" fill="#000" opacity="0.75" filter="url(#b1)"/>
<ellipse cx="435.32" cy="269.30" rx="7.50" ry="1.60" fill="#000" opacity="0.92" filter="url(#b1)"/>
<ellipse cx="454.88" cy="247.50" rx="7.50" ry="2.00" fill="#000" opacity="0.80" filter="url(#b1)"/>
<ellipse cx="454.88" cy="269.30" rx="7.50" ry="1.60" fill="#000" opacity="0.92" filter="url(#b1)"/>
<ellipse cx="474.42" cy="247.50" rx="7.50" ry="2.00" fill="#000" opacity="0.75" filter="url(#b1)"/>
<ellipse cx="474.42" cy="269.30" rx="7.50" ry="1.60" fill="#000" opacity="0.92" filter="url(#b1)"/>
<ellipse cx="493.97" cy="247.50" rx="8.00" ry="2.75" fill="#000" opacity="0.90" filter="url(#b1)"/>
<ellipse cx="493.97" cy="269.30" rx="7.50" ry="1.60" fill="#000" opacity="0.92" filter="url(#b1)"/>
<ellipse cx="513.52" cy="247.50" rx="8.50" ry="4.00" fill="#000" opacity="1.00" filter="url(#b1)"/>
<ellipse cx="513.52" cy="269.30" rx="7.50" ry="1.60" fill="#000" opacity="0.92" filter="url(#b1)"/>
<text x="526.00" y="251.00" font-size="8.6" font-weight="bold" fill="#000" text-anchor="start">IGF2</text>
<text x="526.00" y="273.00" font-size="8.6" font-weight="bold" fill="#000" text-anchor="start">Actin</text>
<text x="550.00" y="179.50" font-size="14" font-weight="bold" fill="#000" text-anchor="start">f</text>
<text x="565.30" y="178.80" font-size="9" font-weight="bold" fill="#000" text-anchor="start"><tspan fill="#C30FC3">Veh</tspan> or <tspan fill="#C30FC3">NB</tspan></text>
<text x="631.50" y="178.80" font-size="9" font-weight="bold" fill="#000" text-anchor="start">± <tspan fill="#7A2EF0">αIGF2</tspan><tspan dy="-3.06" font-size="5.94" fill="#7A2EF0">Ab</tspan></text>
<g transform="translate(606.50,194.00) scale(1.0)"><path d="M2,-1 L16.6,-8.4 L23.5,-6.3 L25.6,0 L25.6,1 L19,3.2 L5,5.8 L4,4.5 Z" fill="#e8e8e8" stroke="#c8c8c8" stroke-width="0.5"/><path d="M4.5,0.4 L17,-3.6 L25.6,-0.3 L25.6,1 L19,3.2 L5.3,5.8 L4.5,4.5 Z" fill="#E8747A"/><path d="M5,1.8 L17,-2.3 L24.5,0" fill="none" stroke="#F4A6AA" stroke-width="0.6"/><rect x="0" y="0" width="4.5" height="4.8" rx="1.2" fill="#2F86D6"/></g>
<path d="M614.00,181.00 Q619.50,183.00 618.50,188.50" fill="none" stroke="#C30FC3" stroke-width="1.6"/>
<path d="M618.01,191.22 L616.57,186.28 L621.09,187.10 Z" fill="#C30FC3" stroke="none" stroke-width="1"/>
<path d="M627.50,181.00 Q622.00,183.00 623.00,188.50" fill="none" stroke="#7A2EF0" stroke-width="1.6"/>
<path d="M623.49,191.22 L620.41,187.10 L624.93,186.28 Z" fill="#7A2EF0" stroke="none" stroke-width="1"/>
<ellipse cx="666.00" cy="193.80" rx="13.00" ry="5.60" fill="#F9D9DB" stroke="#d8d0d2" stroke-width="0.8"/>
<ellipse cx="666.00" cy="194.20" rx="11.70" ry="4.30" fill="#F4B3B8" stroke="#ec9ea4" stroke-width="0.3"/>
<circle cx="661.82" cy="192.09" r="0.45" fill="#E0858C"/>
<circle cx="668.90" cy="192.84" r="0.45" fill="#E0858C"/>
<circle cx="667.48" cy="194.55" r="0.45" fill="#E0858C"/>
<circle cx="670.93" cy="194.75" r="0.45" fill="#E0858C"/>
<circle cx="663.41" cy="193.95" r="0.45" fill="#E0858C"/>
<circle cx="675.13" cy="193.10" r="0.45" fill="#E0858C"/>
<circle cx="662.19" cy="192.92" r="0.45" fill="#E0858C"/>
<circle cx="670.71" cy="195.13" r="0.45" fill="#E0858C"/>
<circle cx="663.79" cy="193.79" r="0.45" fill="#E0858C"/>
<circle cx="669.29" cy="194.91" r="0.45" fill="#E0858C"/>
<circle cx="668.17" cy="192.75" r="0.45" fill="#E0858C"/>
<circle cx="664.55" cy="192.10" r="0.45" fill="#E0858C"/>
<circle cx="673.55" cy="195.25" r="0.45" fill="#E0858C"/>
<circle cx="663.66" cy="191.28" r="0.45" fill="#E0858C"/>
<circle cx="658.91" cy="193.03" r="0.45" fill="#E0858C"/>
<circle cx="666.71" cy="196.56" r="0.45" fill="#E0858C"/>
<circle cx="660.38" cy="196.22" r="0.45" fill="#E0858C"/>
<circle cx="660.07" cy="193.92" r="0.45" fill="#E0858C"/>
<circle cx="661.80" cy="195.18" r="0.45" fill="#E0858C"/>
<circle cx="673.43" cy="195.05" r="0.45" fill="#E0858C"/>
<circle cx="675.42" cy="194.97" r="0.45" fill="#E0858C"/>
<circle cx="665.13" cy="196.64" r="0.45" fill="#E0858C"/>
<circle cx="665.39" cy="190.90" r="0.45" fill="#E0858C"/>
<circle cx="661.33" cy="195.43" r="0.45" fill="#E0858C"/>
<circle cx="659.63" cy="194.97" r="0.45" fill="#E0858C"/>
<circle cx="672.67" cy="196.42" r="0.45" fill="#E0858C"/>
<path d="M631.50,190.50 Q644.00,176.00 655.00,189.00" fill="none" stroke="#E0623A" stroke-width="1.3"/>
<path d="M656.55,190.83 L652.44,189.07 L655.49,186.49 Z" fill="#E0623A" stroke="none" stroke-width="1"/>
<text x="636.00" y="195.70" font-size="8.5" font-weight="bold" fill="#E0623A" text-anchor="start">CM</text>
<text x="619.00" y="210.00" font-size="9" font-weight="bold" fill="#6AAE3C" text-anchor="middle">THP-1</text>
<text x="667.50" y="210.00" font-size="9" font-weight="bold" fill="#8E62CC" text-anchor="middle">A549</text>
<text x="0.00" y="0.00" font-size="9.4" font-weight="bold" fill="#000" text-anchor="start" transform="translate(597.10,255.30) rotate(-48)"><tspan dy="-3.20" font-size="6.20">CM</tspan><tspan dy="3.20">THP-Veh</tspan></text>
<text x="0.00" y="0.00" font-size="9.4" font-weight="bold" fill="#000" text-anchor="start" transform="translate(614.60,255.30) rotate(-48)"><tspan dy="-3.20" font-size="6.20">CM</tspan><tspan dy="3.20">THP-NB</tspan></text>
<text x="0.00" y="0.00" font-size="9.4" font-weight="bold" fill="#000" text-anchor="start" transform="translate(637.10,255.30) rotate(-48)"><tspan dy="-3.20" font-size="6.20">CM</tspan><tspan dy="3.20">THP-NB</tspan></text>
<text x="0.00" y="0.00" font-size="9.4" font-weight="bold" fill="#000" text-anchor="start" transform="translate(653.50,250.80) rotate(-48)"><tspan fill="#7A2EF0">/αIGF2</tspan><tspan dy="-3.20" font-size="6.20" fill="#7A2EF0">Ab</tspan></text>
<text x="562.00" y="252.50" font-size="8.3" font-weight="normal" fill="#222" text-anchor="start">kDa</text>
<rect x="584.50" y="256.00" width="60.00" height="21.50" fill="#f2f2f2" stroke="#222" stroke-width="1"/>
<rect x="584.50" y="279.50" width="60.00" height="21.00" fill="#f2f2f2" stroke="#222" stroke-width="1"/>
<rect x="584.50" y="302.50" width="60.00" height="20.50" fill="#f2f2f2" stroke="#222" stroke-width="1"/>
<line x1="579.00" y1="259.50" x2="589.00" y2="259.50" stroke="#000" stroke-width="0.9"/>
<text x="0.00" y="0.00" font-size="8.6" font-weight="normal" fill="#222" text-anchor="end" transform="translate(577.50,262.10) scale(0.9,1)">100</text>
<line x1="579.00" y1="283.80" x2="589.00" y2="283.80" stroke="#000" stroke-width="0.9"/>
<text x="0.00" y="0.00" font-size="8.6" font-weight="normal" fill="#222" text-anchor="end" transform="translate(577.50,286.40) scale(0.9,1)">100</text>
<line x1="579.00" y1="305.50" x2="589.00" y2="305.50" stroke="#000" stroke-width="0.9"/>
<text x="0.00" y="0.00" font-size="8.6" font-weight="normal" fill="#222" text-anchor="end" transform="translate(577.50,308.10) scale(0.9,1)">45</text>
<ellipse cx="594.50" cy="267.00" rx="8.00" ry="2.25" fill="#000" opacity="0.70" filter="url(#b1)"/>
<ellipse cx="594.50" cy="270.00" rx="8.50" ry="5.00" fill="#000" opacity="0.21" filter="url(#b2)"/>
<ellipse cx="594.50" cy="291.30" rx="8.00" ry="2.00" fill="#000" opacity="0.80" filter="url(#b1)"/>
<ellipse cx="594.50" cy="314.00" rx="9.50" ry="3.50" fill="#000" opacity="1.00" filter="url(#b1)"/>
<ellipse cx="594.50" cy="305.50" rx="8.50" ry="1.25" fill="#000" opacity="0.35" filter="url(#b1)"/>
<ellipse cx="614.50" cy="267.00" rx="8.00" ry="2.25" fill="#000" opacity="0.90" filter="url(#b1)"/>
<ellipse cx="614.50" cy="270.00" rx="8.50" ry="5.00" fill="#000" opacity="0.27" filter="url(#b2)"/>
<ellipse cx="614.50" cy="291.30" rx="8.00" ry="2.00" fill="#000" opacity="0.85" filter="url(#b1)"/>
<ellipse cx="614.50" cy="314.00" rx="9.50" ry="3.50" fill="#000" opacity="1.00" filter="url(#b1)"/>
<ellipse cx="614.50" cy="305.50" rx="8.50" ry="1.25" fill="#000" opacity="0.35" filter="url(#b1)"/>
<ellipse cx="634.50" cy="267.00" rx="8.00" ry="2.25" fill="#000" opacity="0.10" filter="url(#b1)"/>
<ellipse cx="634.50" cy="270.00" rx="8.50" ry="5.00" fill="#000" opacity="0.03" filter="url(#b2)"/>
<ellipse cx="634.50" cy="291.30" rx="8.00" ry="2.00" fill="#000" opacity="0.75" filter="url(#b1)"/>
<ellipse cx="634.50" cy="314.00" rx="9.50" ry="3.50" fill="#000" opacity="1.00" filter="url(#b1)"/>
<ellipse cx="634.50" cy="305.50" rx="8.50" ry="1.25" fill="#000" opacity="0.35" filter="url(#b1)"/>
<text x="647.70" y="265.00" font-size="8.6" font-weight="bold" fill="#000" text-anchor="start">pIGF-1R</text>
<text x="647.70" y="275.50" font-size="8.6" font-weight="bold" fill="#000" text-anchor="start">/IR</text>
<text x="647.70" y="294.00" font-size="8.6" font-weight="bold" fill="#000" text-anchor="start">IR</text>
<text x="647.70" y="316.50" font-size="8.6" font-weight="bold" fill="#000" text-anchor="start">Actin</text>
<line x1="582.70" y1="330.00" x2="599.00" y2="330.00" stroke="#EE99EE" stroke-width="1.2"/>
<line x1="632.70" y1="330.00" x2="645.20" y2="330.00" stroke="#EE99EE" stroke-width="1.2"/>
<text x="616.00" y="334.00" font-size="8.6" font-weight="bold" fill="#000" text-anchor="middle">A549</text>
<text x="145.00" y="333.70" font-size="9" font-weight="bold" fill="#8A1AE0" text-anchor="middle">Subcutaneous injection</text>
<text x="145.00" y="344.00" font-size="9" font-weight="bold" fill="#8A1AE0" text-anchor="middle">of LLC-Luc cells</text>
<path d="M142.5,350.7 L147.7,350.7 L145.1,357.4 Z" fill="#8A1AE0" stroke="none" stroke-width="1"/>
<line x1="77.40" y1="364.40" x2="170.00" y2="364.40" stroke="#666" stroke-width="1.5"/>
<path d="M168,360.6 L175,364.4 L168,368.2 Z" fill="#666" stroke="none" stroke-width="1"/>
<line x1="77.40" y1="359.50" x2="77.40" y2="369.30" stroke="#333" stroke-width="1.1"/>
<line x1="145.00" y1="359.50" x2="145.00" y2="369.30" stroke="#333" stroke-width="1.1"/>
<line x1="162.00" y1="359.50" x2="162.00" y2="369.30" stroke="#333" stroke-width="1.1"/>
<text x="110.50" y="359.40" font-size="9" font-weight="bold" fill="#777" text-anchor="middle">Veh or NB</text>
<text x="79.20" y="380.00" font-size="8.6" font-weight="bold" fill="#000" text-anchor="middle">0</text>
<text x="140.00" y="380.00" font-size="8.6" font-weight="bold" fill="#000" text-anchor="middle">4.5</text>
<text x="154.50" y="380.00" font-size="8.6" font-weight="bold" fill="#000" text-anchor="start">5.5 (M)</text>
<path d="M57.00,346.20 C59.50,349.20 67.85,357.30 67.85,364.30 C67.85,371.30 62.00,376.60 57.00,376.60 C52.00,376.60 46.15,371.30 46.15,364.30 C46.15,357.30 54.50,349.20 57.00,346.20 Z" fill="#2c2c2c" stroke="#111" stroke-width="0.7"/>
<line x1="57.00" y1="346.20" x2="47.78" y2="343.00" stroke="#111" stroke-width="0.6"/>
<line x1="57.00" y1="346.20" x2="66.22" y2="343.00" stroke="#111" stroke-width="0.6"/>
<line x1="57.00" y1="346.20" x2="47.78" y2="346.20" stroke="#111" stroke-width="0.6"/>
<line x1="57.00" y1="346.20" x2="66.22" y2="346.20" stroke="#111" stroke-width="0.6"/>
<line x1="57.00" y1="346.20" x2="47.78" y2="349.60" stroke="#111" stroke-width="0.6"/>
<line x1="57.00" y1="346.20" x2="66.22" y2="349.60" stroke="#111" stroke-width="0.6"/>
<ellipse cx="57.00" cy="346.50" rx="1.40" ry="1.00" fill="#111"/>
<ellipse cx="55.60" cy="350.40" rx="0.50" ry="1.00" fill="#ccc"/>
<ellipse cx="58.40" cy="350.40" rx="0.50" ry="1.00" fill="#ccc"/>
<path d="M57.00,376.60 C56.50,380.60 60.00,380.10 61.00,382.60 S62.00,385.60 62.50,387.60" fill="none" stroke="#111" stroke-width="0.7"/>
<text x="57.00" y="370.19" font-size="9.5" font-weight="bold" fill="#eee" text-anchor="middle">B6</text>
<path d="M191.00,346.20 C193.50,349.20 201.80,357.30 201.80,364.30 C201.80,371.30 196.00,377.30 191.00,377.30 C186.00,377.30 180.20,371.30 180.20,364.30 C180.20,357.30 188.50,349.20 191.00,346.20 Z" fill="#2c2c2c" stroke="#111" stroke-width="0.7"/>
<ellipse cx="203.20" cy="363.80" rx="3.20" ry="4.40" fill="#C40000"/>
<line x1="191.00" y1="346.20" x2="181.82" y2="343.00" stroke="#111" stroke-width="0.6"/>
<line x1="191.00" y1="346.20" x2="200.18" y2="343.00" stroke="#111" stroke-width="0.6"/>
<line x1="191.00" y1="346.20" x2="181.82" y2="346.20" stroke="#111" stroke-width="0.6"/>
<line x1="191.00" y1="346.20" x2="200.18" y2="346.20" stroke="#111" stroke-width="0.6"/>
<line x1="191.00" y1="346.20" x2="181.82" y2="349.60" stroke="#111" stroke-width="0.6"/>
<line x1="191.00" y1="346.20" x2="200.18" y2="349.60" stroke="#111" stroke-width="0.6"/>
<ellipse cx="191.00" cy="346.50" rx="1.40" ry="1.00" fill="#111"/>
<ellipse cx="189.60" cy="350.40" rx="0.50" ry="1.00" fill="#ccc"/>
<ellipse cx="192.40" cy="350.40" rx="0.50" ry="1.00" fill="#ccc"/>
<path d="M191.00,377.30 C190.50,381.30 194.00,380.80 195.00,383.30 S196.00,386.30 196.50,388.30" fill="none" stroke="#111" stroke-width="0.7"/>
<path d="M207.90,359.40 Q218.00,349.50 227.50,356.50" fill="none" stroke="#D010D0" stroke-width="1.4"/>
<path d="M229.53,357.99 L224.90,357.19 L227.39,353.81 Z" fill="#D010D0" stroke="none" stroke-width="1"/>
<text x="234.10" y="343.10" font-size="9" font-weight="bold" fill="#2B2BE6" text-anchor="start" text-decoration="underline">Analysis of primary tumor</text>
<line x1="234.10" y1="344.60" x2="338.50" y2="344.60" stroke="#2B2BE6" stroke-width="0.8"/>
<text x="234.50" y="353.60" font-size="9" font-weight="bold" fill="#000" text-anchor="start">- Real-time PCR</text>
<text x="234.50" y="364.70" font-size="9" font-weight="bold" fill="#000" text-anchor="start">- IF</text>
<text x="234.50" y="375.90" font-size="9" font-weight="bold" fill="#000" text-anchor="start">- ELISA</text>
<text x="12.00" y="397.80" font-size="14" font-weight="bold" fill="#000" text-anchor="start">g</text>
<line x1="60.30" y1="470.90" x2="60.30" y2="409.40" stroke="#000" stroke-width="1.3"/>
<line x1="57.30" y1="470.30" x2="60.30" y2="470.30" stroke="#000" stroke-width="0.9"/>
<text x="0.00" y="0.00" font-size="7.6" font-weight="normal" fill="#222" text-anchor="end" transform="translate(55.50,473.04) scale(1.0,1)">0.0</text>
<line x1="57.30" y1="458.22" x2="60.30" y2="458.22" stroke="#000" stroke-width="0.9"/>
<text x="0.00" y="0.00" font-size="7.6" font-weight="normal" fill="#222" text-anchor="end" transform="translate(55.50,460.96) scale(1.0,1)">0.5</text>
<line x1="57.30" y1="446.14" x2="60.30" y2="446.14" stroke="#000" stroke-width="0.9"/>
<text x="0.00" y="0.00" font-size="7.6" font-weight="normal" fill="#222" text-anchor="end" transform="translate(55.50,448.88) scale(1.0,1)">1.0</text>
<line x1="57.30" y1="434.06" x2="60.30" y2="434.06" stroke="#000" stroke-width="0.9"/>
<text x="0.00" y="0.00" font-size="7.6" font-weight="normal" fill="#222" text-anchor="end" transform="translate(55.50,436.80) scale(1.0,1)">1.5</text>
<line x1="57.30" y1="421.98" x2="60.30" y2="421.98" stroke="#000" stroke-width="0.9"/>
<text x="0.00" y="0.00" font-size="7.6" font-weight="normal" fill="#222" text-anchor="end" transform="translate(55.50,424.72) scale(1.0,1)">2.0</text>
<line x1="57.30" y1="409.90" x2="60.30" y2="409.90" stroke="#000" stroke-width="0.9"/>
<text x="0.00" y="0.00" font-size="7.6" font-weight="normal" fill="#222" text-anchor="end" transform="translate(55.50,412.64) scale(1.0,1)">2.5</text>
<rect x="68.30" y="446.14" width="13.30" height="24.16" fill="#F0C9F6" stroke="#111" stroke-width="1"/>
<line x1="74.95" y1="446.14" x2="74.95" y2="437.20" stroke="#222" stroke-width="0.9"/>
<line x1="72.65" y1="437.20" x2="77.25" y2="437.20" stroke="#222" stroke-width="0.9"/>
<circle cx="74.95" cy="454.60" r="1.1" fill="#8A10A8"/>
<circle cx="74.95" cy="445.66" r="1.1" fill="#8A10A8"/>
<circle cx="74.95" cy="437.68" r="1.1" fill="#8A10A8"/>
<rect x="82.80" y="426.09" width="13.50" height="44.21" fill="#AC4ED4" stroke="#111" stroke-width="1"/>
<line x1="89.55" y1="426.09" x2="89.55" y2="416.66" stroke="#222" stroke-width="0.9"/>
<line x1="87.25" y1="416.66" x2="91.85" y2="416.66" stroke="#222" stroke-width="0.9"/>
<circle cx="89.55" cy="435.75" r="1.1" fill="#8A10A8"/>
<circle cx="89.55" cy="421.98" r="1.1" fill="#8A10A8"/>
<circle cx="89.55" cy="417.87" r="1.1" fill="#8A10A8"/>
<line x1="59.70" y1="470.30" x2="104.80" y2="470.30" stroke="#000" stroke-width="1.3"/>
<line x1="74.60" y1="413.30" x2="91.00" y2="413.30" stroke="#333" stroke-width="0.85"/>
<text x="0.00" y="0.00" font-size="9.0" font-weight="normal" fill="#222" text-anchor="start" transform="translate(67.50,410.50) scale(0.76,1)"><tspan font-style="italic">p</tspan> = 0.0483</text>
<text x="0.00" y="0.00" font-size="9" font-weight="bold" fill="#000" text-anchor="middle" transform="translate(41.30,439.00) rotate(-90)"><tspan font-style="italic">Igf2</tspan> mRNA (Fold)</text>
<line x1="155.50" y1="470.10" x2="155.50" y2="408.70" stroke="#000" stroke-width="1.3"/>
<line x1="152.50" y1="469.50" x2="155.50" y2="469.50" stroke="#000" stroke-width="0.9"/>
<text x="0.00" y="0.00" font-size="7.6" font-weight="normal" fill="#222" text-anchor="end" transform="translate(150.70,472.24) scale(1.0,1)">0</text>
<line x1="152.50" y1="449.40" x2="155.50" y2="449.40" stroke="#000" stroke-width="0.9"/>
<text x="0.00" y="0.00" font-size="7.6" font-weight="normal" fill="#222" text-anchor="end" transform="translate(150.70,452.14) scale(1.0,1)">5</text>
<line x1="152.50" y1="429.30" x2="155.50" y2="429.30" stroke="#000" stroke-width="0.9"/>
<text x="0.00" y="0.00" font-size="7.6" font-weight="normal" fill="#222" text-anchor="end" transform="translate(150.70,432.04) scale(1.0,1)">10</text>
<line x1="152.50" y1="409.20" x2="155.50" y2="409.20" stroke="#000" stroke-width="0.9"/>
<text x="0.00" y="0.00" font-size="7.6" font-weight="normal" fill="#222" text-anchor="end" transform="translate(150.70,411.94) scale(1.0,1)">15</text>
<rect x="162.50" y="457.04" width="13.80" height="12.46" fill="#F0C9F6" stroke="#111" stroke-width="1"/>
<line x1="169.40" y1="457.04" x2="169.40" y2="451.01" stroke="#222" stroke-width="0.9"/>
<line x1="167.10" y1="451.01" x2="171.70" y2="451.01" stroke="#222" stroke-width="0.9"/>
<circle cx="169.40" cy="444.58" r="1.1" fill="#8A10A8"/>
<circle cx="166.80" cy="445.38" r="1.1" fill="#8A10A8"/>
<circle cx="172.00" cy="446.99" r="1.1" fill="#8A10A8"/>
<circle cx="169.40" cy="448.60" r="1.1" fill="#8A10A8"/>
<circle cx="166.80" cy="450.20" r="1.1" fill="#8A10A8"/>
<circle cx="169.40" cy="451.81" r="1.1" fill="#8A10A8"/>
<circle cx="166.80" cy="453.02" r="1.1" fill="#8A10A8"/>
<circle cx="172.00" cy="454.22" r="1.1" fill="#8A10A8"/>
<circle cx="169.40" cy="455.43" r="1.1" fill="#8A10A8"/>
<circle cx="166.80" cy="456.23" r="1.1" fill="#8A10A8"/>
<circle cx="172.00" cy="457.44" r="1.1" fill="#8A10A8"/>
<circle cx="169.40" cy="458.24" r="1.1" fill="#8A10A8"/>
<circle cx="166.80" cy="459.45" r="1.1" fill="#8A10A8"/>
<circle cx="172.00" cy="460.66" r="1.1" fill="#8A10A8"/>
<circle cx="169.40" cy="461.46" r="1.1" fill="#8A10A8"/>
<circle cx="166.80" cy="462.67" r="1.1" fill="#8A10A8"/>
<circle cx="172.00" cy="463.87" r="1.1" fill="#8A10A8"/>
<circle cx="169.40" cy="464.68" r="1.1" fill="#8A10A8"/>
<circle cx="166.80" cy="465.48" r="1.1" fill="#8A10A8"/>
<circle cx="164.20" cy="466.28" r="1.1" fill="#8A10A8"/>
<rect x="177.60" y="443.37" width="13.50" height="26.13" fill="#AC4ED4" stroke="#111" stroke-width="1"/>
<line x1="184.35" y1="443.37" x2="184.35" y2="428.90" stroke="#222" stroke-width="0.9"/>
<line x1="182.05" y1="428.90" x2="186.65" y2="428.90" stroke="#222" stroke-width="0.9"/>
<circle cx="184.35" cy="416.44" r="1.1" fill="#8A10A8"/>
<circle cx="184.35" cy="420.46" r="1.1" fill="#8A10A8"/>
<circle cx="184.35" cy="424.48" r="1.1" fill="#8A10A8"/>
<circle cx="184.35" cy="428.50" r="1.1" fill="#8A10A8"/>
<circle cx="181.75" cy="428.50" r="1.1" fill="#8A10A8"/>
<circle cx="184.35" cy="432.11" r="1.1" fill="#8A10A8"/>
<circle cx="181.75" cy="433.32" r="1.1" fill="#8A10A8"/>
<circle cx="184.35" cy="435.33" r="1.1" fill="#8A10A8"/>
<circle cx="181.75" cy="436.54" r="1.1" fill="#8A10A8"/>
<circle cx="184.35" cy="438.95" r="1.1" fill="#8A10A8"/>
<circle cx="184.35" cy="442.97" r="1.1" fill="#8A10A8"/>
<circle cx="184.35" cy="447.39" r="1.1" fill="#8A10A8"/>
<circle cx="181.75" cy="448.19" r="1.1" fill="#8A10A8"/>
<circle cx="186.95" cy="449.40" r="1.1" fill="#8A10A8"/>
<circle cx="184.35" cy="451.41" r="1.1" fill="#8A10A8"/>
<circle cx="184.35" cy="454.22" r="1.1" fill="#8A10A8"/>
<circle cx="184.35" cy="457.44" r="1.1" fill="#8A10A8"/>
<circle cx="181.75" cy="459.45" r="1.1" fill="#8A10A8"/>
<circle cx="184.35" cy="460.66" r="1.1" fill="#8A10A8"/>
<circle cx="184.35" cy="464.68" r="1.1" fill="#8A10A8"/>
<line x1="154.90" y1="469.50" x2="199.80" y2="469.50" stroke="#000" stroke-width="1.3"/>
<line x1="168.80" y1="411.80" x2="186.00" y2="411.80" stroke="#333" stroke-width="0.85"/>
<text x="0.00" y="0.00" font-size="9.0" font-weight="normal" fill="#222" text-anchor="start" transform="translate(161.30,408.00) scale(0.76,1)"><tspan font-style="italic">p</tspan> &lt; 0.0001</text>
<text x="0.00" y="0.00" font-size="9" font-weight="bold" fill="#000" text-anchor="middle" transform="translate(130.00,439.00) rotate(-90)">pIGF-1R/IR intensity</text>
<text x="0.00" y="0.00" font-size="9" font-weight="bold" fill="#000" text-anchor="middle" transform="translate(141.30,440.00) rotate(-90)">(arb. units)</text>
<line x1="247.80" y1="470.10" x2="247.80" y2="408.70" stroke="#000" stroke-width="1.3"/>
<line x1="244.80" y1="469.50" x2="247.80" y2="469.50" stroke="#000" stroke-width="0.9"/>
<text x="0.00" y="0.00" font-size="7.6" font-weight="normal" fill="#222" text-anchor="end" transform="translate(243.00,472.24) scale(1.0,1)">0</text>
<line x1="244.80" y1="449.40" x2="247.80" y2="449.40" stroke="#000" stroke-width="0.9"/>
<text x="0.00" y="0.00" font-size="7.6" font-weight="normal" fill="#222" text-anchor="end" transform="translate(243.00,452.14) scale(1.0,1)">5</text>
<line x1="244.80" y1="429.30" x2="247.80" y2="429.30" stroke="#000" stroke-width="0.9"/>
<text x="0.00" y="0.00" font-size="7.6" font-weight="normal" fill="#222" text-anchor="end" transform="translate(243.00,432.04) scale(1.0,1)">10</text>
<line x1="244.80" y1="409.20" x2="247.80" y2="409.20" stroke="#000" stroke-width="0.9"/>
<text x="0.00" y="0.00" font-size="7.6" font-weight="normal" fill="#222" text-anchor="end" transform="translate(243.00,411.94) scale(1.0,1)">15</text>
<rect x="255.40" y="458.65" width="14.30" height="10.85" fill="#F0C9F6" stroke="#111" stroke-width="1"/>
<line x1="262.55" y1="458.65" x2="262.55" y2="451.81" stroke="#222" stroke-width="0.9"/>
<line x1="260.25" y1="451.81" x2="264.85" y2="451.81" stroke="#222" stroke-width="0.9"/>
<circle cx="262.55" cy="445.38" r="1.1" fill="#8A10A8"/>
<circle cx="262.55" cy="451.01" r="1.1" fill="#8A10A8"/>
<circle cx="259.95" cy="452.62" r="1.1" fill="#8A10A8"/>
<circle cx="262.55" cy="454.63" r="1.1" fill="#8A10A8"/>
<circle cx="265.15" cy="455.03" r="1.1" fill="#8A10A8"/>
<circle cx="259.95" cy="455.43" r="1.1" fill="#8A10A8"/>
<circle cx="262.55" cy="457.44" r="1.1" fill="#8A10A8"/>
<circle cx="259.95" cy="459.85" r="1.1" fill="#8A10A8"/>
<circle cx="262.55" cy="460.25" r="1.1" fill="#8A10A8"/>
<circle cx="265.15" cy="460.66" r="1.1" fill="#8A10A8"/>
<circle cx="257.35" cy="462.26" r="1.1" fill="#8A10A8"/>
<circle cx="262.55" cy="464.27" r="1.1" fill="#8A10A8"/>
<circle cx="259.95" cy="465.48" r="1.1" fill="#8A10A8"/>
<circle cx="265.15" cy="466.28" r="1.1" fill="#8A10A8"/>
<circle cx="262.55" cy="468.70" r="1.1" fill="#8A10A8"/>
<rect x="270.20" y="441.36" width="13.60" height="28.14" fill="#AC4ED4" stroke="#111" stroke-width="1"/>
<line x1="277.00" y1="441.36" x2="277.00" y2="433.32" stroke="#222" stroke-width="0.9"/>
<line x1="274.70" y1="433.32" x2="279.30" y2="433.32" stroke="#222" stroke-width="0.9"/>
<circle cx="277.00" cy="430.51" r="1.1" fill="#8A10A8"/>
<circle cx="277.00" cy="433.32" r="1.1" fill="#8A10A8"/>
<circle cx="274.40" cy="433.32" r="1.1" fill="#8A10A8"/>
<circle cx="279.60" cy="433.72" r="1.1" fill="#8A10A8"/>
<circle cx="271.80" cy="435.33" r="1.1" fill="#8A10A8"/>
<circle cx="277.00" cy="437.34" r="1.1" fill="#8A10A8"/>
<circle cx="274.40" cy="439.35" r="1.1" fill="#8A10A8"/>
<circle cx="277.00" cy="441.36" r="1.1" fill="#8A10A8"/>
<circle cx="279.60" cy="441.36" r="1.1" fill="#8A10A8"/>
<circle cx="271.80" cy="441.76" r="1.1" fill="#8A10A8"/>
<circle cx="274.40" cy="443.37" r="1.1" fill="#8A10A8"/>
<circle cx="277.00" cy="445.38" r="1.1" fill="#8A10A8"/>
<circle cx="274.40" cy="447.39" r="1.1" fill="#8A10A8"/>
<circle cx="277.00" cy="449.40" r="1.1" fill="#8A10A8"/>
<circle cx="274.40" cy="451.41" r="1.1" fill="#8A10A8"/>
<circle cx="277.00" cy="453.42" r="1.1" fill="#8A10A8"/>
<circle cx="274.40" cy="455.43" r="1.1" fill="#8A10A8"/>
<line x1="247.20" y1="469.50" x2="292.20" y2="469.50" stroke="#000" stroke-width="1.3"/>
<line x1="261.00" y1="426.60" x2="277.90" y2="426.60" stroke="#333" stroke-width="0.85"/>
<text x="0.00" y="0.00" font-size="9.0" font-weight="normal" fill="#222" text-anchor="start" transform="translate(253.90,424.50) scale(0.76,1)"><tspan font-style="italic">p</tspan> &lt; 0.0001</text>
<text x="0.00" y="0.00" font-size="9" font-weight="bold" fill="#000" text-anchor="middle" transform="translate(220.00,443.00) rotate(-90)">IGF2<tspan dy="-3.06" font-size="5.94">high</tspan><tspan dy="3.06">F4/80</tspan><tspan dy="-3.06" font-size="5.94">+</tspan></text>
<text x="0.00" y="0.00" font-size="9" font-weight="bold" fill="#000" text-anchor="middle" transform="translate(231.30,439.50) rotate(-90)">/DAPI<tspan dy="-3.06" font-size="5.94">+</tspan><tspan dy="3.06"> cells (%)</tspan></text>
<text x="73.70" y="481.60" font-size="9" font-weight="bold" fill="#000" text-anchor="middle">Veh</text>
<text x="90.10" y="481.60" font-size="9" font-weight="bold" fill="#000" text-anchor="middle">NB</text>
<text x="168.10" y="481.60" font-size="9" font-weight="bold" fill="#000" text-anchor="middle">Veh</text>
<text x="184.90" y="481.60" font-size="9" font-weight="bold" fill="#000" text-anchor="middle">NB</text>
<text x="261.20" y="481.60" font-size="9" font-weight="bold" fill="#000" text-anchor="middle">Veh</text>
<text x="277.50" y="481.60" font-size="9" font-weight="bold" fill="#000" text-anchor="middle">NB</text>
<text x="350.00" y="397.00" font-size="14" font-weight="bold" fill="#000" text-anchor="start">h</text>
<text x="428.50" y="383.00" font-size="9" font-weight="bold" fill="#2590B0" text-anchor="middle">CD45<tspan dy="-3.06" font-size="5.94">+</tspan><tspan dy="3.06">F4/80</tspan><tspan dy="-3.06" font-size="5.94">+</tspan></text>
<text x="428.50" y="394.00" font-size="9" font-weight="bold" fill="#2590B0" text-anchor="middle">macrophages</text>
<text x="525.00" y="372.50" font-size="9" font-weight="bold" fill="#2590B0" text-anchor="middle">CD45<tspan dy="-3.06" font-size="5.94">+</tspan><tspan dy="3.06">F4/80</tspan><tspan dy="-3.06" font-size="5.94">-</tspan><tspan dy="3.06"> non-</tspan></text>
<text x="525.00" y="383.50" font-size="9" font-weight="bold" fill="#2590B0" text-anchor="middle">macrophage</text>
<text x="525.00" y="394.50" font-size="9" font-weight="bold" fill="#2590B0" text-anchor="middle">immune cells</text>
<text x="616.00" y="383.00" font-size="9" font-weight="bold" fill="#2590B0" text-anchor="middle">CD45<tspan dy="-3.06" font-size="5.94">-</tspan><tspan dy="3.06">F4/80</tspan><tspan dy="-3.06" font-size="5.94">-</tspan></text>
<text x="616.00" y="394.00" font-size="9" font-weight="bold" fill="#2590B0" text-anchor="middle">non-immune cells</text>
<line x1="417.00" y1="470.10" x2="417.00" y2="408.90" stroke="#000" stroke-width="1.3"/>
<line x1="414.00" y1="469.50" x2="417.00" y2="469.50" stroke="#000" stroke-width="0.9"/>
<text x="0.00" y="0.00" font-size="7.6" font-weight="normal" fill="#222" text-anchor="end" transform="translate(412.20,472.24) scale(1.0,1)">0</text>
<line x1="414.00" y1="449.47" x2="417.00" y2="449.47" stroke="#000" stroke-width="0.9"/>
<text x="0.00" y="0.00" font-size="7.6" font-weight="normal" fill="#222" text-anchor="end" transform="translate(412.20,452.20) scale(1.0,1)">100</text>
<line x1="414.00" y1="429.43" x2="417.00" y2="429.43" stroke="#000" stroke-width="0.9"/>
<text x="0.00" y="0.00" font-size="7.6" font-weight="normal" fill="#222" text-anchor="end" transform="translate(412.20,432.17) scale(1.0,1)">200</text>
<line x1="414.00" y1="409.40" x2="417.00" y2="409.40" stroke="#000" stroke-width="0.9"/>
<text x="0.00" y="0.00" font-size="7.6" font-weight="normal" fill="#222" text-anchor="end" transform="translate(412.20,412.14) scale(1.0,1)">300</text>
<rect x="424.60" y="454.48" width="13.80" height="15.02" fill="#F0C9F6" stroke="#111" stroke-width="1"/>
<line x1="431.50" y1="454.48" x2="431.50" y2="451.87" stroke="#222" stroke-width="0.9"/>
<line x1="429.20" y1="451.87" x2="433.80" y2="451.87" stroke="#222" stroke-width="0.9"/>
<circle cx="431.50" cy="455.88" r="1.1" fill="#8A10A8"/>
<circle cx="428.90" cy="454.48" r="1.1" fill="#8A10A8"/>
<circle cx="431.50" cy="451.87" r="1.1" fill="#8A10A8"/>
<rect x="439.10" y="426.43" width="13.90" height="43.07" fill="#AC4ED4" stroke="#111" stroke-width="1"/>
<line x1="446.05" y1="426.43" x2="446.05" y2="416.41" stroke="#222" stroke-width="0.9"/>
<line x1="443.75" y1="416.41" x2="448.35" y2="416.41" stroke="#222" stroke-width="0.9"/>
<circle cx="446.05" cy="432.44" r="1.1" fill="#8A10A8"/>
<circle cx="443.45" cy="432.44" r="1.1" fill="#8A10A8"/>
<circle cx="446.05" cy="415.01" r="1.1" fill="#8A10A8"/>
<line x1="416.40" y1="469.50" x2="461.90" y2="469.50" stroke="#000" stroke-width="1.3"/>
<line x1="431.30" y1="410.00" x2="447.50" y2="410.00" stroke="#333" stroke-width="0.85"/>
<text x="0.00" y="0.00" font-size="9.0" font-weight="normal" fill="#222" text-anchor="start" transform="translate(424.50,407.50) scale(0.76,1)"><tspan font-style="italic">p</tspan> = 0.0094</text>
<text x="0.00" y="0.00" font-size="9" font-weight="bold" fill="#000" text-anchor="middle" transform="translate(385.00,437.50) rotate(-90)">IGF2</text>
<text x="0.00" y="0.00" font-size="9" font-weight="bold" fill="#000" text-anchor="middle" transform="translate(396.30,438.00) rotate(-90)">(pg/µg protein)</text>
<line x1="508.40" y1="470.10" x2="508.40" y2="408.90" stroke="#000" stroke-width="1.3"/>
<line x1="505.40" y1="469.50" x2="508.40" y2="469.50" stroke="#000" stroke-width="0.9"/>
<text x="0.00" y="0.00" font-size="7.6" font-weight="normal" fill="#222" text-anchor="end" transform="translate(503.60,472.24) scale(1.0,1)">0</text>
<line x1="505.40" y1="454.48" x2="508.40" y2="454.48" stroke="#000" stroke-width="0.9"/>
<text x="0.00" y="0.00" font-size="7.6" font-weight="normal" fill="#222" text-anchor="end" transform="translate(503.60,457.21) scale(1.0,1)">20</text>
<line x1="505.40" y1="439.45" x2="508.40" y2="439.45" stroke="#000" stroke-width="0.9"/>
<text x="0.00" y="0.00" font-size="7.6" font-weight="normal" fill="#222" text-anchor="end" transform="translate(503.60,442.19) scale(1.0,1)">40</text>
<line x1="505.40" y1="424.42" x2="508.40" y2="424.42" stroke="#000" stroke-width="0.9"/>
<text x="0.00" y="0.00" font-size="7.6" font-weight="normal" fill="#222" text-anchor="end" transform="translate(503.60,427.16) scale(1.0,1)">60</text>
<line x1="505.40" y1="409.40" x2="508.40" y2="409.40" stroke="#000" stroke-width="0.9"/>
<text x="0.00" y="0.00" font-size="7.6" font-weight="normal" fill="#222" text-anchor="end" transform="translate(503.60,412.14) scale(1.0,1)">80</text>
<rect x="516.00" y="428.18" width="13.60" height="41.32" fill="#F0C9F6" stroke="#111" stroke-width="1"/>
<line x1="522.80" y1="428.18" x2="522.80" y2="414.66" stroke="#222" stroke-width="0.9"/>
<line x1="520.50" y1="414.66" x2="525.10" y2="414.66" stroke="#222" stroke-width="0.9"/>
<circle cx="522.80" cy="439.45" r="1.1" fill="#8A10A8"/>
<circle cx="522.80" cy="432.69" r="1.1" fill="#8A10A8"/>
<circle cx="522.80" cy="413.91" r="1.1" fill="#8A10A8"/>
<rect x="530.30" y="434.94" width="13.80" height="34.56" fill="#AC4ED4" stroke="#111" stroke-width="1"/>
<line x1="537.20" y1="434.94" x2="537.20" y2="430.44" stroke="#222" stroke-width="0.9"/>
<line x1="534.90" y1="430.44" x2="539.50" y2="430.44" stroke="#222" stroke-width="0.9"/>
<circle cx="537.20" cy="438.70" r="1.1" fill="#8A10A8"/>
<circle cx="534.60" cy="437.20" r="1.1" fill="#8A10A8"/>
<circle cx="537.20" cy="430.44" r="1.1" fill="#8A10A8"/>
<line x1="507.80" y1="469.50" x2="552.50" y2="469.50" stroke="#000" stroke-width="1.3"/>
<line x1="522.50" y1="409.40" x2="538.80" y2="409.40" stroke="#333" stroke-width="0.85"/>
<text x="0.00" y="0.00" font-size="9.0" font-weight="normal" fill="#222" text-anchor="start" transform="translate(515.00,407.20) scale(0.76,1)"><tspan font-style="italic">p</tspan> = 0.4341</text>
<text x="0.00" y="0.00" font-size="9" font-weight="bold" fill="#000" text-anchor="middle" transform="translate(480.00,437.50) rotate(-90)">IGF2</text>
<text x="0.00" y="0.00" font-size="9" font-weight="bold" fill="#000" text-anchor="middle" transform="translate(492.30,438.00) rotate(-90)">(pg/µg protein)</text>
<line x1="604.00" y1="470.10" x2="604.00" y2="409.00" stroke="#000" stroke-width="1.3"/>
<line x1="601.00" y1="469.50" x2="604.00" y2="469.50" stroke="#000" stroke-width="0.9"/>
<text x="0.00" y="0.00" font-size="7.6" font-weight="normal" fill="#222" text-anchor="end" transform="translate(599.20,472.24) scale(1.0,1)">0</text>
<line x1="601.00" y1="454.50" x2="604.00" y2="454.50" stroke="#000" stroke-width="0.9"/>
<text x="0.00" y="0.00" font-size="7.6" font-weight="normal" fill="#222" text-anchor="end" transform="translate(599.20,457.24) scale(1.0,1)">10</text>
<line x1="601.00" y1="439.50" x2="604.00" y2="439.50" stroke="#000" stroke-width="0.9"/>
<text x="0.00" y="0.00" font-size="7.6" font-weight="normal" fill="#222" text-anchor="end" transform="translate(599.20,442.24) scale(1.0,1)">20</text>
<line x1="601.00" y1="424.50" x2="604.00" y2="424.50" stroke="#000" stroke-width="0.9"/>
<text x="0.00" y="0.00" font-size="7.6" font-weight="normal" fill="#222" text-anchor="end" transform="translate(599.20,427.24) scale(1.0,1)">30</text>
<line x1="601.00" y1="409.50" x2="604.00" y2="409.50" stroke="#000" stroke-width="0.9"/>
<text x="0.00" y="0.00" font-size="7.6" font-weight="normal" fill="#222" text-anchor="end" transform="translate(599.20,412.24) scale(1.0,1)">40</text>
<rect x="612.60" y="430.50" width="13.10" height="39.00" fill="#F0C9F6" stroke="#111" stroke-width="1"/>
<line x1="619.15" y1="430.50" x2="619.15" y2="414.60" stroke="#222" stroke-width="0.9"/>
<line x1="616.85" y1="414.60" x2="621.45" y2="414.60" stroke="#222" stroke-width="0.9"/>
<circle cx="619.15" cy="446.25" r="1.1" fill="#8A10A8"/>
<circle cx="619.15" cy="426.75" r="1.1" fill="#8A10A8"/>
<circle cx="619.15" cy="416.25" r="1.1" fill="#8A10A8"/>
<rect x="626.40" y="436.35" width="14.20" height="33.15" fill="#AC4ED4" stroke="#111" stroke-width="1"/>
<line x1="633.50" y1="436.35" x2="633.50" y2="432.15" stroke="#222" stroke-width="0.9"/>
<line x1="631.20" y1="432.15" x2="635.80" y2="432.15" stroke="#222" stroke-width="0.9"/>
<circle cx="633.50" cy="440.25" r="1.1" fill="#8A10A8"/>
<circle cx="633.50" cy="435.00" r="1.1" fill="#8A10A8"/>
<circle cx="630.90" cy="432.75" r="1.1" fill="#8A10A8"/>
<line x1="603.40" y1="469.50" x2="649.00" y2="469.50" stroke="#000" stroke-width="1.3"/>
<line x1="619.00" y1="409.00" x2="635.60" y2="409.00" stroke="#333" stroke-width="0.85"/>
<text x="0.00" y="0.00" font-size="9.0" font-weight="normal" fill="#222" text-anchor="start" transform="translate(615.20,406.60) scale(0.76,1)"><tspan font-style="italic">p</tspan> = 0.54</text>
<text x="0.00" y="0.00" font-size="9" font-weight="bold" fill="#000" text-anchor="middle" transform="translate(575.00,437.50) rotate(-90)">IGF2</text>
<text x="0.00" y="0.00" font-size="9" font-weight="bold" fill="#000" text-anchor="middle" transform="translate(587.00,438.00) rotate(-90)">(pg/µg protein)</text>
<text x="430.30" y="481.30" font-size="9" font-weight="bold" fill="#000" text-anchor="middle">Veh</text>
<text x="446.50" y="481.30" font-size="9" font-weight="bold" fill="#000" text-anchor="middle">NB</text>
<text x="521.70" y="481.30" font-size="9" font-weight="bold" fill="#000" text-anchor="middle">Veh</text>
<text x="537.80" y="481.30" font-size="9" font-weight="bold" fill="#000" text-anchor="middle">NB</text>
<text x="617.80" y="481.30" font-size="9" font-weight="bold" fill="#000" text-anchor="middle">Veh</text>
<text x="634.00" y="481.30" font-size="9" font-weight="bold" fill="#000" text-anchor="middle">NB</text>
<text x="14.50" y="526.00" font-size="14" font-weight="bold" fill="#000" text-anchor="start">i</text>
<text x="88.00" y="527.70" font-size="9" font-weight="bold" fill="#000" text-anchor="start"><tspan fill="#C30FC3">Veh</tspan> or <tspan fill="#C30FC3">NB</tspan></text>
<path d="M133.00,525.20 Q139.50,526.00 139.20,532.50" fill="none" stroke="#C30FC3" stroke-width="1.6"/>
<path d="M139.07,535.26 L136.99,530.56 L141.58,530.77 Z" fill="#C30FC3" stroke="none" stroke-width="1"/>
<g transform="translate(123.90,543.30) scale(1.0)"><path d="M2,-1 L16.6,-8.4 L23.5,-6.3 L25.6,0 L25.6,1 L19,3.2 L5,5.8 L4,4.5 Z" fill="#e8e8e8" stroke="#c8c8c8" stroke-width="0.5"/><path d="M4.5,0.4 L17,-3.6 L25.6,-0.3 L25.6,1 L19,3.2 L5.3,5.8 L4.5,4.5 Z" fill="#E8747A"/><path d="M5,1.8 L17,-2.3 L24.5,0" fill="none" stroke="#F4A6AA" stroke-width="0.6"/><rect x="0" y="0" width="4.5" height="4.8" rx="1.2" fill="#2F86D6"/></g>
<ellipse cx="194.40" cy="541.60" rx="13.50" ry="5.80" fill="#F9D9DB" stroke="#d8d0d2" stroke-width="0.8"/>
<ellipse cx="194.40" cy="542.00" rx="12.20" ry="4.50" fill="#F4B3B8" stroke="#ec9ea4" stroke-width="0.3"/>
<circle cx="201.65" cy="542.47" r="0.45" fill="#E0858C"/>
<circle cx="195.38" cy="540.39" r="0.45" fill="#E0858C"/>
<circle cx="200.41" cy="543.99" r="0.45" fill="#E0858C"/>
<circle cx="188.92" cy="541.61" r="0.45" fill="#E0858C"/>
<circle cx="188.12" cy="540.07" r="0.45" fill="#E0858C"/>
<circle cx="194.66" cy="544.69" r="0.45" fill="#E0858C"/>
<circle cx="189.08" cy="540.70" r="0.45" fill="#E0858C"/>
<circle cx="194.46" cy="540.13" r="0.45" fill="#E0858C"/>
<circle cx="194.89" cy="539.87" r="0.45" fill="#E0858C"/>
<circle cx="186.13" cy="541.12" r="0.45" fill="#E0858C"/>
<circle cx="189.93" cy="541.89" r="0.45" fill="#E0858C"/>
<circle cx="187.44" cy="543.46" r="0.45" fill="#E0858C"/>
<circle cx="191.50" cy="543.94" r="0.45" fill="#E0858C"/>
<circle cx="191.49" cy="538.73" r="0.45" fill="#E0858C"/>
<circle cx="199.97" cy="544.22" r="0.45" fill="#E0858C"/>
<circle cx="202.15" cy="544.23" r="0.45" fill="#E0858C"/>
<circle cx="204.07" cy="541.15" r="0.45" fill="#E0858C"/>
<circle cx="198.89" cy="542.51" r="0.45" fill="#E0858C"/>
<circle cx="186.67" cy="541.15" r="0.45" fill="#E0858C"/>
<circle cx="196.16" cy="543.67" r="0.45" fill="#E0858C"/>
<circle cx="197.20" cy="544.13" r="0.45" fill="#E0858C"/>
<circle cx="201.93" cy="540.25" r="0.45" fill="#E0858C"/>
<circle cx="200.64" cy="542.41" r="0.45" fill="#E0858C"/>
<circle cx="193.23" cy="541.66" r="0.45" fill="#E0858C"/>
<circle cx="189.19" cy="541.95" r="0.45" fill="#E0858C"/>
<circle cx="196.81" cy="541.98" r="0.45" fill="#E0858C"/>
<path d="M151.50,537.50 Q164.80,523.35 176.50,537.00" fill="none" stroke="#E0623A" stroke-width="1.3"/>
<path d="M178.06,538.82 L173.94,537.09 L176.98,534.48 Z" fill="#E0623A" stroke="none" stroke-width="1"/>
<text x="157.60" y="542.60" font-size="8.5" font-weight="bold" fill="#E0623A" text-anchor="start">CM</text>
<text x="204.60" y="559.00" font-size="9" font-weight="bold" fill="#8E62CC" text-anchor="end">A549</text>
<text x="150.00" y="557.00" font-size="9" font-weight="bold" fill="#6AAE3C" text-anchor="end">THP/sgRNA<tspan dy="-3.06" font-size="5.94">Con</tspan><tspan dy="3.06"> </tspan><tspan fill="#000">or</tspan></text>
<text x="76.00" y="568.60" font-size="9" font-weight="bold" fill="#6AAE3C" text-anchor="start">THP/sgRNA<tspan dy="-3.06" font-size="5.94">IGF2</tspan><tspan dy="3.06"> (#1 or #2)</tspan></text>
<rect x="93.60" y="582.20" width="121.70" height="14.20" fill="#fff" stroke="#333" stroke-width="0.9"/>
<rect x="98.30" y="586.30" width="5.20" height="5.60" fill="#F0C9F6" stroke="#222" stroke-width="0.7"/>
<text x="105.20" y="592.30" font-size="9.5" font-weight="bold" fill="#000" text-anchor="start"><tspan dy="-3.23" font-size="6.27">CM</tspan><tspan dy="3.23">THP-Veh</tspan></text>
<rect x="160.30" y="586.30" width="5.20" height="5.60" fill="#AC4ED4" stroke="#222" stroke-width="0.7"/>
<text x="167.00" y="592.30" font-size="9.5" font-weight="bold" fill="#000" text-anchor="start"><tspan dy="-3.23" font-size="6.27">CM</tspan><tspan dy="3.23">THP-NB</tspan></text>
<line x1="59.60" y1="684.60" x2="59.60" y2="625.80" stroke="#000" stroke-width="1.3"/>
<line x1="56.60" y1="684.00" x2="59.60" y2="684.00" stroke="#000" stroke-width="0.9"/>
<text x="0.00" y="0.00" font-size="7.6" font-weight="normal" fill="#222" text-anchor="end" transform="translate(54.80,686.74) scale(1.0,1)">0</text>
<line x1="56.60" y1="672.46" x2="59.60" y2="672.46" stroke="#000" stroke-width="0.9"/>
<text x="0.00" y="0.00" font-size="7.6" font-weight="normal" fill="#222" text-anchor="end" transform="translate(54.80,675.20) scale(1.0,1)">50</text>
<line x1="56.60" y1="660.92" x2="59.60" y2="660.92" stroke="#000" stroke-width="0.9"/>
<text x="0.00" y="0.00" font-size="7.6" font-weight="normal" fill="#222" text-anchor="end" transform="translate(54.80,663.66) scale(1.0,1)">100</text>
<line x1="56.60" y1="649.38" x2="59.60" y2="649.38" stroke="#000" stroke-width="0.9"/>
<text x="0.00" y="0.00" font-size="7.6" font-weight="normal" fill="#222" text-anchor="end" transform="translate(54.80,652.12) scale(1.0,1)">150</text>
<line x1="56.60" y1="637.84" x2="59.60" y2="637.84" stroke="#000" stroke-width="0.9"/>
<text x="0.00" y="0.00" font-size="7.6" font-weight="normal" fill="#222" text-anchor="end" transform="translate(54.80,640.58) scale(1.0,1)">200</text>
<line x1="56.60" y1="626.30" x2="59.60" y2="626.30" stroke="#000" stroke-width="0.9"/>
<text x="0.00" y="0.00" font-size="7.6" font-weight="normal" fill="#222" text-anchor="end" transform="translate(54.80,629.04) scale(1.0,1)">250</text>
<rect x="65.20" y="651.55" width="9.20" height="32.45" fill="#F0C9F6" stroke="#111" stroke-width="1"/>
<line x1="69.80" y1="651.55" x2="69.80" y2="644.99" stroke="#222" stroke-width="0.9"/>
<line x1="67.50" y1="644.99" x2="72.10" y2="644.99" stroke="#222" stroke-width="0.9"/>
<circle cx="69.80" cy="641.99" r="1.1" fill="#8A10A8"/>
<circle cx="69.80" cy="648.46" r="1.1" fill="#8A10A8"/>
<circle cx="69.80" cy="652.38" r="1.1" fill="#8A10A8"/>
<circle cx="69.80" cy="659.07" r="1.1" fill="#8A10A8"/>
<rect x="75.40" y="639.32" width="10.10" height="44.68" fill="#AC4ED4" stroke="#111" stroke-width="1"/>
<line x1="80.45" y1="639.32" x2="80.45" y2="632.07" stroke="#222" stroke-width="0.9"/>
<line x1="78.15" y1="632.07" x2="82.75" y2="632.07" stroke="#222" stroke-width="0.9"/>
<circle cx="80.45" cy="628.84" r="1.1" fill="#8A10A8"/>
<circle cx="80.45" cy="638.07" r="1.1" fill="#8A10A8"/>
<circle cx="77.85" cy="639.92" r="1.1" fill="#8A10A8"/>
<circle cx="80.45" cy="647.76" r="1.1" fill="#8A10A8"/>
<rect x="91.10" y="660.34" width="9.90" height="23.66" fill="#F0C9F6" stroke="#111" stroke-width="1"/>
<line x1="96.05" y1="660.34" x2="96.05" y2="655.84" stroke="#222" stroke-width="0.9"/>
<line x1="93.75" y1="655.84" x2="98.35" y2="655.84" stroke="#222" stroke-width="0.9"/>
<circle cx="96.05" cy="655.15" r="1.1" fill="#8A10A8"/>
<circle cx="96.05" cy="659.07" r="1.1" fill="#8A10A8"/>
<circle cx="96.05" cy="664.38" r="1.1" fill="#8A10A8"/>
<rect x="101.90" y="657.32" width="9.90" height="26.68" fill="#AC4ED4" stroke="#111" stroke-width="1"/>
<line x1="106.85" y1="657.32" x2="106.85" y2="651.23" stroke="#222" stroke-width="0.9"/>
<line x1="104.55" y1="651.23" x2="109.15" y2="651.23" stroke="#222" stroke-width="0.9"/>
<circle cx="106.85" cy="648.92" r="1.1" fill="#8A10A8"/>
<circle cx="106.85" cy="654.46" r="1.1" fill="#8A10A8"/>
<circle cx="106.85" cy="662.30" r="1.1" fill="#8A10A8"/>
<rect x="117.40" y="658.38" width="9.90" height="25.62" fill="#F0C9F6" stroke="#111" stroke-width="1"/>
<line x1="122.35" y1="658.38" x2="122.35" y2="653.07" stroke="#222" stroke-width="0.9"/>
<line x1="120.05" y1="653.07" x2="124.65" y2="653.07" stroke="#222" stroke-width="0.9"/>
<circle cx="122.35" cy="652.84" r="1.1" fill="#8A10A8"/>
<circle cx="122.35" cy="658.38" r="1.1" fill="#8A10A8"/>
<circle cx="122.35" cy="662.30" r="1.1" fill="#8A10A8"/>
<rect x="128.20" y="660.09" width="9.80" height="23.91" fill="#AC4ED4" stroke="#111" stroke-width="1"/>
<line x1="133.10" y1="660.09" x2="133.10" y2="656.40" stroke="#222" stroke-width="0.9"/>
<line x1="130.80" y1="656.40" x2="135.40" y2="656.40" stroke="#222" stroke-width="0.9"/>
<circle cx="133.10" cy="655.84" r="1.1" fill="#8A10A8"/>
<circle cx="130.50" cy="658.38" r="1.1" fill="#8A10A8"/>
<circle cx="133.10" cy="663.00" r="1.1" fill="#8A10A8"/>
<line x1="59.00" y1="684.00" x2="144.50" y2="684.00" stroke="#000" stroke-width="1.3"/>
<line x1="68.00" y1="623.80" x2="79.50" y2="623.80" stroke="#333" stroke-width="0.85"/>
<text x="0.00" y="0.00" font-size="9.0" font-weight="normal" fill="#222" text-anchor="start" transform="translate(50.00,622.00) scale(0.76,1)"><tspan font-style="italic">p</tspan> = 0.008</text>
<line x1="81.30" y1="612.50" x2="132.50" y2="612.50" stroke="#333" stroke-width="0.85"/>
<text x="0.00" y="0.00" font-size="9.0" font-weight="normal" fill="#222" text-anchor="start" transform="translate(90.00,609.50) scale(0.76,1)"><tspan font-style="italic">p</tspan> &lt; 0.0001</text>
<line x1="81.30" y1="624.30" x2="107.00" y2="624.30" stroke="#333" stroke-width="0.85"/>
<text x="0.00" y="0.00" font-size="9.0" font-weight="normal" fill="#222" text-anchor="start" transform="translate(83.80,622.00) scale(0.76,1)"><tspan font-style="italic">p</tspan> &lt; 0.0001</text>
<line x1="96.30" y1="643.80" x2="107.00" y2="643.80" stroke="#333" stroke-width="0.85"/>
<text x="0.00" y="0.00" font-size="9.0" font-weight="normal" fill="#222" text-anchor="start" transform="translate(90.00,641.30) scale(0.76,1)"><tspan font-style="italic">p</tspan> = 0.94</text>
<line x1="122.50" y1="649.30" x2="133.80" y2="649.30" stroke="#333" stroke-width="0.85"/>
<text x="0.00" y="0.00" font-size="9.0" font-weight="normal" fill="#222" text-anchor="start" transform="translate(116.30,646.30) scale(0.76,1)"><tspan font-style="italic">p</tspan> = 0.99</text>
<text x="0.00" y="0.00" font-size="9" font-weight="bold" fill="#000" text-anchor="middle" transform="translate(38.30,653.50) rotate(-90)">No. of colonies</text>
<line x1="188.30" y1="683.90" x2="188.30" y2="624.70" stroke="#000" stroke-width="1.3"/>
<line x1="185.30" y1="683.30" x2="188.30" y2="683.30" stroke="#000" stroke-width="0.9"/>
<text x="0.00" y="0.00" font-size="7.6" font-weight="normal" fill="#222" text-anchor="end" transform="translate(183.50,686.04) scale(1.0,1)">0</text>
<line x1="185.30" y1="668.77" x2="188.30" y2="668.77" stroke="#000" stroke-width="0.9"/>
<text x="0.00" y="0.00" font-size="7.6" font-weight="normal" fill="#222" text-anchor="end" transform="translate(183.50,671.51) scale(1.0,1)">5</text>
<line x1="185.30" y1="654.25" x2="188.30" y2="654.25" stroke="#000" stroke-width="0.9"/>
<text x="0.00" y="0.00" font-size="7.6" font-weight="normal" fill="#222" text-anchor="end" transform="translate(183.50,656.99) scale(1.0,1)">10</text>
<line x1="185.30" y1="639.73" x2="188.30" y2="639.73" stroke="#000" stroke-width="0.9"/>
<text x="0.00" y="0.00" font-size="7.6" font-weight="normal" fill="#222" text-anchor="end" transform="translate(183.50,642.46) scale(1.0,1)">15</text>
<line x1="185.30" y1="625.20" x2="188.30" y2="625.20" stroke="#000" stroke-width="0.9"/>
<text x="0.00" y="0.00" font-size="7.6" font-weight="normal" fill="#222" text-anchor="end" transform="translate(183.50,627.94) scale(1.0,1)">20</text>
<rect x="194.20" y="664.24" width="9.80" height="19.06" fill="#F0C9F6" stroke="#111" stroke-width="1"/>
<line x1="199.10" y1="664.24" x2="199.10" y2="656.28" stroke="#222" stroke-width="0.9"/>
<line x1="196.80" y1="656.28" x2="201.40" y2="656.28" stroke="#222" stroke-width="0.9"/>
<circle cx="199.10" cy="654.25" r="1.1" fill="#8A10A8"/>
<circle cx="199.10" cy="660.64" r="1.1" fill="#8A10A8"/>
<circle cx="196.50" cy="660.64" r="1.1" fill="#8A10A8"/>
<circle cx="199.10" cy="668.77" r="1.1" fill="#8A10A8"/>
<circle cx="199.10" cy="672.12" r="1.1" fill="#8A10A8"/>
<rect x="205.00" y="646.70" width="9.60" height="36.60" fill="#AC4ED4" stroke="#111" stroke-width="1"/>
<line x1="209.80" y1="646.70" x2="209.80" y2="637.40" stroke="#222" stroke-width="0.9"/>
<line x1="207.50" y1="637.40" x2="212.10" y2="637.40" stroke="#222" stroke-width="0.9"/>
<circle cx="209.80" cy="634.50" r="1.1" fill="#8A10A8"/>
<circle cx="209.80" cy="651.49" r="1.1" fill="#8A10A8"/>
<circle cx="207.20" cy="651.49" r="1.1" fill="#8A10A8"/>
<circle cx="209.80" cy="654.25" r="1.1" fill="#8A10A8"/>
<rect x="220.20" y="660.93" width="10.10" height="22.37" fill="#F0C9F6" stroke="#111" stroke-width="1"/>
<line x1="225.25" y1="660.93" x2="225.25" y2="653.38" stroke="#222" stroke-width="0.9"/>
<line x1="222.95" y1="653.38" x2="227.55" y2="653.38" stroke="#222" stroke-width="0.9"/>
<circle cx="225.25" cy="651.49" r="1.1" fill="#8A10A8"/>
<circle cx="225.25" cy="663.55" r="1.1" fill="#8A10A8"/>
<circle cx="222.65" cy="663.55" r="1.1" fill="#8A10A8"/>
<circle cx="225.25" cy="668.77" r="1.1" fill="#8A10A8"/>
<rect x="231.30" y="662.38" width="9.50" height="20.92" fill="#AC4ED4" stroke="#111" stroke-width="1"/>
<line x1="236.05" y1="662.38" x2="236.05" y2="652.51" stroke="#222" stroke-width="0.9"/>
<line x1="233.75" y1="652.51" x2="238.35" y2="652.51" stroke="#222" stroke-width="0.9"/>
<circle cx="236.05" cy="651.64" r="1.1" fill="#8A10A8"/>
<circle cx="236.05" cy="660.35" r="1.1" fill="#8A10A8"/>
<circle cx="236.05" cy="666.16" r="1.1" fill="#8A10A8"/>
<circle cx="236.05" cy="674.88" r="1.1" fill="#8A10A8"/>
<rect x="247.40" y="662.53" width="9.20" height="20.77" fill="#F0C9F6" stroke="#111" stroke-width="1"/>
<line x1="252.00" y1="662.53" x2="252.00" y2="655.41" stroke="#222" stroke-width="0.9"/>
<line x1="249.70" y1="655.41" x2="254.30" y2="655.41" stroke="#222" stroke-width="0.9"/>
<circle cx="252.00" cy="651.64" r="1.1" fill="#8A10A8"/>
<circle cx="252.00" cy="660.35" r="1.1" fill="#8A10A8"/>
<circle cx="252.00" cy="664.13" r="1.1" fill="#8A10A8"/>
<circle cx="252.00" cy="668.77" r="1.1" fill="#8A10A8"/>
<rect x="257.50" y="659.77" width="10.00" height="23.53" fill="#AC4ED4" stroke="#111" stroke-width="1"/>
<line x1="262.50" y1="659.77" x2="262.50" y2="653.38" stroke="#222" stroke-width="0.9"/>
<line x1="260.20" y1="653.38" x2="264.80" y2="653.38" stroke="#222" stroke-width="0.9"/>
<circle cx="262.50" cy="651.64" r="1.1" fill="#8A10A8"/>
<circle cx="259.90" cy="653.09" r="1.1" fill="#8A10A8"/>
<circle cx="262.50" cy="659.77" r="1.1" fill="#8A10A8"/>
<circle cx="262.50" cy="665.00" r="1.1" fill="#8A10A8"/>
<line x1="187.70" y1="683.30" x2="273.30" y2="683.30" stroke="#000" stroke-width="1.3"/>
<line x1="198.80" y1="619.50" x2="208.80" y2="619.50" stroke="#333" stroke-width="0.85"/>
<text x="0.00" y="0.00" font-size="9.0" font-weight="normal" fill="#222" text-anchor="start" transform="translate(181.30,616.30) scale(0.76,1)"><tspan font-style="italic">p</tspan> = 0.02</text>
<line x1="211.30" y1="619.50" x2="263.00" y2="619.50" stroke="#333" stroke-width="0.85"/>
<text x="0.00" y="0.00" font-size="9.0" font-weight="normal" fill="#222" text-anchor="start" transform="translate(223.80,616.30) scale(0.76,1)"><tspan font-style="italic">p</tspan> = 0.12</text>
<line x1="212.00" y1="631.30" x2="237.00" y2="631.30" stroke="#333" stroke-width="0.85"/>
<text x="0.00" y="0.00" font-size="9.0" font-weight="normal" fill="#222" text-anchor="start" transform="translate(217.50,628.80) scale(0.76,1)"><tspan font-style="italic">p</tspan> = 0.04</text>
<line x1="225.00" y1="643.30" x2="236.30" y2="643.30" stroke="#333" stroke-width="0.85"/>
<text x="0.00" y="0.00" font-size="9.0" font-weight="normal" fill="#222" text-anchor="start" transform="translate(218.80,640.00) scale(0.76,1)"><tspan font-style="italic">p</tspan> &gt; 0.99</text>
<line x1="252.00" y1="648.80" x2="263.00" y2="648.80" stroke="#333" stroke-width="0.85"/>
<text x="0.00" y="0.00" font-size="9.0" font-weight="normal" fill="#222" text-anchor="start" transform="translate(245.50,645.50) scale(0.76,1)"><tspan font-style="italic">p</tspan> = 0.99</text>
<text x="0.00" y="0.00" font-size="9" font-weight="bold" fill="#000" text-anchor="middle" transform="translate(171.30,653.80) rotate(-90)">No. of sphere</text>
<text x="13.50" y="696.30" font-size="9" font-weight="bold" fill="#000" text-anchor="start">THP-1: sgRNA<tspan dy="-3.06" font-size="5.94">Con</tspan></text>
<text x="142.00" y="696.30" font-size="9" font-weight="bold" fill="#000" text-anchor="start">THP-1: sgRNA<tspan dy="-3.06" font-size="5.94">Con</tspan></text>
<text x="101.50" y="696.30" font-size="9" font-weight="bold" fill="#000" text-anchor="middle">#1</text>
<text x="128.00" y="696.30" font-size="9" font-weight="bold" fill="#000" text-anchor="middle">#2</text>
<line x1="88.00" y1="702.50" x2="140.00" y2="702.50" stroke="#8C8CF0" stroke-width="1.2"/>
<text x="114.75" y="713.30" font-size="9" font-weight="bold" fill="#000" text-anchor="middle">sgRNA<tspan dy="-3.06" font-size="5.94">IGF2</tspan></text>
<text x="231.00" y="696.30" font-size="9" font-weight="bold" fill="#000" text-anchor="middle">#1</text>
<text x="257.50" y="696.30" font-size="9" font-weight="bold" fill="#000" text-anchor="middle">#2</text>
<line x1="217.50" y1="702.50" x2="269.50" y2="702.50" stroke="#8C8CF0" stroke-width="1.2"/>
<text x="244.25" y="713.30" font-size="9" font-weight="bold" fill="#000" text-anchor="middle">sgRNA<tspan dy="-3.06" font-size="5.94">IGF2</tspan></text>
<text x="13.00" y="745.50" font-size="14" font-weight="bold" fill="#000" text-anchor="start">j</text>
<text x="88.00" y="746.30" font-size="9" font-weight="bold" fill="#000" text-anchor="start"><tspan fill="#C30FC3">Veh</tspan> or <tspan fill="#C30FC3">NB</tspan></text>
<path d="M133.00,744.00 Q139.50,745.00 139.20,751.50" fill="none" stroke="#C30FC3" stroke-width="1.6"/>
<path d="M139.07,754.26 L136.99,749.56 L141.58,749.77 Z" fill="#C30FC3" stroke="none" stroke-width="1"/>
<g transform="translate(123.00,763.30) scale(1.0)"><path d="M2,-1 L16.6,-8.4 L23.5,-6.3 L25.6,0 L25.6,1 L19,3.2 L5,5.8 L4,4.5 Z" fill="#e8e8e8" stroke="#c8c8c8" stroke-width="0.5"/><path d="M4.5,0.4 L17,-3.6 L25.6,-0.3 L25.6,1 L19,3.2 L5.3,5.8 L4.5,4.5 Z" fill="#E8747A"/><path d="M5,1.8 L17,-2.3 L24.5,0" fill="none" stroke="#F4A6AA" stroke-width="0.6"/><rect x="0" y="0" width="4.5" height="4.8" rx="1.2" fill="#2F86D6"/></g>
<ellipse cx="193.00" cy="760.70" rx="13.50" ry="5.80" fill="#F9D9DB" stroke="#d8d0d2" stroke-width="0.8"/>
<ellipse cx="193.00" cy="761.10" rx="12.20" ry="4.50" fill="#F4B3B8" stroke="#ec9ea4" stroke-width="0.3"/>
<circle cx="189.32" cy="762.90" r="0.45" fill="#E0858C"/>
<circle cx="185.06" cy="761.87" r="0.45" fill="#E0858C"/>
<circle cx="186.01" cy="761.66" r="0.45" fill="#E0858C"/>
<circle cx="200.95" cy="761.21" r="0.45" fill="#E0858C"/>
<circle cx="195.49" cy="758.61" r="0.45" fill="#E0858C"/>
<circle cx="193.33" cy="758.19" r="0.45" fill="#E0858C"/>
<circle cx="201.78" cy="761.68" r="0.45" fill="#E0858C"/>
<circle cx="195.30" cy="762.70" r="0.45" fill="#E0858C"/>
<circle cx="198.84" cy="761.64" r="0.45" fill="#E0858C"/>
<circle cx="186.61" cy="759.02" r="0.45" fill="#E0858C"/>
<circle cx="195.71" cy="758.72" r="0.45" fill="#E0858C"/>
<circle cx="192.98" cy="762.61" r="0.45" fill="#E0858C"/>
<circle cx="202.10" cy="761.08" r="0.45" fill="#E0858C"/>
<circle cx="189.74" cy="759.30" r="0.45" fill="#E0858C"/>
<circle cx="191.83" cy="763.66" r="0.45" fill="#E0858C"/>
<circle cx="189.48" cy="761.66" r="0.45" fill="#E0858C"/>
<circle cx="197.26" cy="758.33" r="0.45" fill="#E0858C"/>
<circle cx="198.63" cy="758.54" r="0.45" fill="#E0858C"/>
<circle cx="191.53" cy="758.24" r="0.45" fill="#E0858C"/>
<circle cx="189.02" cy="760.45" r="0.45" fill="#E0858C"/>
<circle cx="200.71" cy="759.16" r="0.45" fill="#E0858C"/>
<circle cx="191.09" cy="761.15" r="0.45" fill="#E0858C"/>
<circle cx="192.71" cy="760.53" r="0.45" fill="#E0858C"/>
<circle cx="201.57" cy="762.98" r="0.45" fill="#E0858C"/>
<circle cx="195.41" cy="762.06" r="0.45" fill="#E0858C"/>
<circle cx="199.88" cy="759.07" r="0.45" fill="#E0858C"/>
<path d="M150.50,757.50 Q163.50,744.00 175.00,756.50" fill="none" stroke="#E0623A" stroke-width="1.3"/>
<path d="M176.62,758.27 L172.44,756.68 L175.39,753.97 Z" fill="#E0623A" stroke="none" stroke-width="1"/>
<text x="157.40" y="760.70" font-size="8.5" font-weight="bold" fill="#E0623A" text-anchor="start">CM</text>
<text x="136.80" y="778.20" font-size="9" font-weight="bold" fill="#6AAE3C" text-anchor="middle">THP-1</text>
<text x="164.40" y="777.30" font-size="9" font-weight="bold" fill="#8E62CC" text-anchor="start">A549/shRNA<tspan dy="-3.06" font-size="5.94">Con</tspan><tspan dy="3.06"> </tspan><tspan fill="#000">or</tspan></text>
<text x="164.40" y="789.00" font-size="9" font-weight="bold" fill="#8E62CC" text-anchor="start">A549/shRNA<tspan dy="-3.06" font-size="5.94">IR</tspan><tspan dy="3.06"> (#1 or #2)</tspan></text>
<rect x="92.30" y="800.70" width="121.20" height="13.80" fill="#fff" stroke="#333" stroke-width="0.9"/>
<rect x="97.00" y="804.60" width="5.20" height="5.60" fill="#F0C9F6" stroke="#222" stroke-width="0.7"/>
<text x="104.00" y="810.60" font-size="9.5" font-weight="bold" fill="#000" text-anchor="start"><tspan dy="-3.23" font-size="6.27">CM</tspan><tspan dy="3.23">THP-Veh</tspan></text>
<rect x="159.00" y="804.60" width="5.20" height="5.60" fill="#AC4ED4" stroke="#222" stroke-width="0.7"/>
<text x="165.70" y="810.60" font-size="9.5" font-weight="bold" fill="#000" text-anchor="start"><tspan dy="-3.23" font-size="6.27">CM</tspan><tspan dy="3.23">THP-NB</tspan></text>
<line x1="59.90" y1="904.60" x2="59.90" y2="845.70" stroke="#000" stroke-width="1.3"/>
<line x1="56.90" y1="904.00" x2="59.90" y2="904.00" stroke="#000" stroke-width="0.9"/>
<text x="0.00" y="0.00" font-size="7.6" font-weight="normal" fill="#222" text-anchor="end" transform="translate(55.10,906.74) scale(1.0,1)">0</text>
<line x1="56.90" y1="892.44" x2="59.90" y2="892.44" stroke="#000" stroke-width="0.9"/>
<text x="0.00" y="0.00" font-size="7.6" font-weight="normal" fill="#222" text-anchor="end" transform="translate(55.10,895.18) scale(1.0,1)">50</text>
<line x1="56.90" y1="880.88" x2="59.90" y2="880.88" stroke="#000" stroke-width="0.9"/>
<text x="0.00" y="0.00" font-size="7.6" font-weight="normal" fill="#222" text-anchor="end" transform="translate(55.10,883.62) scale(1.0,1)">100</text>
<line x1="56.90" y1="869.32" x2="59.90" y2="869.32" stroke="#000" stroke-width="0.9"/>
<text x="0.00" y="0.00" font-size="7.6" font-weight="normal" fill="#222" text-anchor="end" transform="translate(55.10,872.06) scale(1.0,1)">150</text>
<line x1="56.90" y1="857.76" x2="59.90" y2="857.76" stroke="#000" stroke-width="0.9"/>
<text x="0.00" y="0.00" font-size="7.6" font-weight="normal" fill="#222" text-anchor="end" transform="translate(55.10,860.50) scale(1.0,1)">200</text>
<line x1="56.90" y1="846.20" x2="59.90" y2="846.20" stroke="#000" stroke-width="0.9"/>
<text x="0.00" y="0.00" font-size="7.6" font-weight="normal" fill="#222" text-anchor="end" transform="translate(55.10,848.94) scale(1.0,1)">250</text>
<rect x="65.20" y="875.49" width="9.20" height="28.51" fill="#F0C9F6" stroke="#111" stroke-width="1"/>
<line x1="69.80" y1="875.49" x2="69.80" y2="870.76" stroke="#222" stroke-width="0.9"/>
<line x1="67.50" y1="870.76" x2="72.10" y2="870.76" stroke="#222" stroke-width="0.9"/>
<circle cx="69.80" cy="868.93" r="1.1" fill="#8A10A8"/>
<circle cx="69.80" cy="873.13" r="1.1" fill="#8A10A8"/>
<circle cx="67.20" cy="874.41" r="1.1" fill="#8A10A8"/>
<circle cx="69.80" cy="876.81" r="1.1" fill="#8A10A8"/>
<circle cx="69.80" cy="879.72" r="1.1" fill="#8A10A8"/>
<rect x="75.40" y="860.30" width="10.10" height="43.70" fill="#AC4ED4" stroke="#111" stroke-width="1"/>
<line x1="80.45" y1="860.30" x2="80.45" y2="851.52" stroke="#222" stroke-width="0.9"/>
<line x1="78.15" y1="851.52" x2="82.75" y2="851.52" stroke="#222" stroke-width="0.9"/>
<circle cx="80.45" cy="849.48" r="1.1" fill="#8A10A8"/>
<circle cx="80.45" cy="857.37" r="1.1" fill="#8A10A8"/>
<circle cx="80.45" cy="861.97" r="1.1" fill="#8A10A8"/>
<circle cx="80.45" cy="872.46" r="1.1" fill="#8A10A8"/>
<rect x="91.10" y="884.69" width="9.90" height="19.31" fill="#F0C9F6" stroke="#111" stroke-width="1"/>
<line x1="96.05" y1="884.69" x2="96.05" y2="880.42" stroke="#222" stroke-width="0.9"/>
<line x1="93.75" y1="880.42" x2="98.35" y2="880.42" stroke="#222" stroke-width="0.9"/>
<circle cx="96.05" cy="880.42" r="1.1" fill="#8A10A8"/>
<circle cx="96.05" cy="883.65" r="1.1" fill="#8A10A8"/>
<circle cx="96.05" cy="889.55" r="1.1" fill="#8A10A8"/>
<rect x="101.90" y="883.65" width="9.90" height="20.35" fill="#AC4ED4" stroke="#111" stroke-width="1"/>
<line x1="106.85" y1="883.65" x2="106.85" y2="878.11" stroke="#222" stroke-width="0.9"/>
<line x1="104.55" y1="878.11" x2="109.15" y2="878.11" stroke="#222" stroke-width="0.9"/>
<circle cx="106.85" cy="875.79" r="1.1" fill="#8A10A8"/>
<circle cx="106.85" cy="884.35" r="1.1" fill="#8A10A8"/>
<circle cx="104.25" cy="886.89" r="1.1" fill="#8A10A8"/>
<circle cx="106.85" cy="887.58" r="1.1" fill="#8A10A8"/>
<rect x="117.40" y="878.38" width="9.90" height="25.62" fill="#F0C9F6" stroke="#111" stroke-width="1"/>
<line x1="122.35" y1="878.38" x2="122.35" y2="874.18" stroke="#222" stroke-width="0.9"/>
<line x1="120.05" y1="874.18" x2="124.65" y2="874.18" stroke="#222" stroke-width="0.9"/>
<circle cx="122.35" cy="873.78" r="1.1" fill="#8A10A8"/>
<circle cx="122.35" cy="877.07" r="1.1" fill="#8A10A8"/>
<circle cx="122.35" cy="880.42" r="1.1" fill="#8A10A8"/>
<circle cx="122.35" cy="883.89" r="1.1" fill="#8A10A8"/>
<rect x="128.20" y="880.74" width="9.80" height="23.26" fill="#AC4ED4" stroke="#111" stroke-width="1"/>
<line x1="133.10" y1="880.74" x2="133.10" y2="876.42" stroke="#222" stroke-width="0.9"/>
<line x1="130.80" y1="876.42" x2="135.40" y2="876.42" stroke="#222" stroke-width="0.9"/>
<circle cx="133.10" cy="873.13" r="1.1" fill="#8A10A8"/>
<circle cx="133.10" cy="879.72" r="1.1" fill="#8A10A8"/>
<circle cx="130.50" cy="881.02" r="1.1" fill="#8A10A8"/>
<circle cx="133.10" cy="884.35" r="1.1" fill="#8A10A8"/>
<line x1="59.30" y1="904.00" x2="144.50" y2="904.00" stroke="#000" stroke-width="1.3"/>
<line x1="68.00" y1="842.50" x2="79.50" y2="842.50" stroke="#333" stroke-width="0.85"/>
<text x="0.00" y="0.00" font-size="9.0" font-weight="normal" fill="#222" text-anchor="start" transform="translate(49.50,840.00) scale(0.76,1)"><tspan font-style="italic">p</tspan> &lt; 0.001</text>
<line x1="81.30" y1="830.30" x2="134.00" y2="830.30" stroke="#333" stroke-width="0.85"/>
<text x="0.00" y="0.00" font-size="9.0" font-weight="normal" fill="#222" text-anchor="start" transform="translate(90.00,827.50) scale(0.76,1)"><tspan font-style="italic">p</tspan> &lt; 0.0001</text>
<line x1="81.30" y1="842.50" x2="107.00" y2="842.50" stroke="#333" stroke-width="0.85"/>
<text x="0.00" y="0.00" font-size="9.0" font-weight="normal" fill="#222" text-anchor="start" transform="translate(83.80,840.00) scale(0.76,1)"><tspan font-style="italic">p</tspan> &lt; 0.0001</text>
<line x1="96.40" y1="864.20" x2="107.60" y2="864.20" stroke="#333" stroke-width="0.85"/>
<text x="0.00" y="0.00" font-size="9.0" font-weight="normal" fill="#222" text-anchor="start" transform="translate(87.90,861.30) scale(0.76,1)"><tspan font-style="italic">p</tspan> &gt; 0.999</text>
<line x1="122.70" y1="869.80" x2="133.80" y2="869.80" stroke="#333" stroke-width="0.85"/>
<text x="0.00" y="0.00" font-size="9.0" font-weight="normal" fill="#222" text-anchor="start" transform="translate(116.10,866.50) scale(0.76,1)"><tspan font-style="italic">p</tspan> = 0.98</text>
<text x="0.00" y="0.00" font-size="9" font-weight="bold" fill="#000" text-anchor="middle" transform="translate(38.30,873.80) rotate(-90)">No. of colonies</text>
<line x1="188.30" y1="904.60" x2="188.30" y2="845.50" stroke="#000" stroke-width="1.3"/>
<line x1="185.30" y1="904.00" x2="188.30" y2="904.00" stroke="#000" stroke-width="0.9"/>
<text x="0.00" y="0.00" font-size="7.6" font-weight="normal" fill="#222" text-anchor="end" transform="translate(183.50,906.74) scale(1.0,1)">0</text>
<line x1="185.30" y1="889.50" x2="188.30" y2="889.50" stroke="#000" stroke-width="0.9"/>
<text x="0.00" y="0.00" font-size="7.6" font-weight="normal" fill="#222" text-anchor="end" transform="translate(183.50,892.24) scale(1.0,1)">5</text>
<line x1="185.30" y1="875.00" x2="188.30" y2="875.00" stroke="#000" stroke-width="0.9"/>
<text x="0.00" y="0.00" font-size="7.6" font-weight="normal" fill="#222" text-anchor="end" transform="translate(183.50,877.74) scale(1.0,1)">10</text>
<line x1="185.30" y1="860.50" x2="188.30" y2="860.50" stroke="#000" stroke-width="0.9"/>
<text x="0.00" y="0.00" font-size="7.6" font-weight="normal" fill="#222" text-anchor="end" transform="translate(183.50,863.24) scale(1.0,1)">15</text>
<line x1="185.30" y1="846.00" x2="188.30" y2="846.00" stroke="#000" stroke-width="0.9"/>
<text x="0.00" y="0.00" font-size="7.6" font-weight="normal" fill="#222" text-anchor="end" transform="translate(183.50,848.74) scale(1.0,1)">20</text>
<rect x="194.20" y="887.47" width="9.80" height="16.53" fill="#F0C9F6" stroke="#111" stroke-width="1"/>
<line x1="199.10" y1="887.47" x2="199.10" y2="876.30" stroke="#222" stroke-width="0.9"/>
<line x1="196.80" y1="876.30" x2="201.40" y2="876.30" stroke="#222" stroke-width="0.9"/>
<circle cx="199.10" cy="875.00" r="1.1" fill="#8A10A8"/>
<circle cx="199.10" cy="886.89" r="1.1" fill="#8A10A8"/>
<circle cx="199.10" cy="895.45" r="1.1" fill="#8A10A8"/>
<circle cx="199.10" cy="898.78" r="1.1" fill="#8A10A8"/>
<rect x="205.00" y="866.59" width="9.60" height="37.41" fill="#AC4ED4" stroke="#111" stroke-width="1"/>
<line x1="209.80" y1="866.59" x2="209.80" y2="857.31" stroke="#222" stroke-width="0.9"/>
<line x1="207.50" y1="857.31" x2="212.10" y2="857.31" stroke="#222" stroke-width="0.9"/>
<circle cx="209.80" cy="854.70" r="1.1" fill="#8A10A8"/>
<circle cx="209.80" cy="866.30" r="1.1" fill="#8A10A8"/>
<circle cx="209.80" cy="875.00" r="1.1" fill="#8A10A8"/>
<circle cx="207.20" cy="875.00" r="1.1" fill="#8A10A8"/>
<rect x="220.20" y="886.60" width="10.10" height="17.40" fill="#F0C9F6" stroke="#111" stroke-width="1"/>
<line x1="225.25" y1="886.60" x2="225.25" y2="880.22" stroke="#222" stroke-width="0.9"/>
<line x1="222.95" y1="880.22" x2="227.55" y2="880.22" stroke="#222" stroke-width="0.9"/>
<circle cx="225.25" cy="877.61" r="1.1" fill="#8A10A8"/>
<circle cx="225.25" cy="889.50" r="1.1" fill="#8A10A8"/>
<circle cx="222.65" cy="889.50" r="1.1" fill="#8A10A8"/>
<circle cx="225.25" cy="892.69" r="1.1" fill="#8A10A8"/>
<rect x="231.30" y="889.21" width="9.50" height="14.79" fill="#AC4ED4" stroke="#111" stroke-width="1"/>
<line x1="236.05" y1="889.21" x2="236.05" y2="884.57" stroke="#222" stroke-width="0.9"/>
<line x1="233.75" y1="884.57" x2="238.35" y2="884.57" stroke="#222" stroke-width="0.9"/>
<circle cx="236.05" cy="884.28" r="1.1" fill="#8A10A8"/>
<circle cx="233.45" cy="885.44" r="1.1" fill="#8A10A8"/>
<circle cx="236.05" cy="889.50" r="1.1" fill="#8A10A8"/>
<circle cx="236.05" cy="895.59" r="1.1" fill="#8A10A8"/>
<rect x="247.40" y="880.80" width="9.20" height="23.20" fill="#F0C9F6" stroke="#111" stroke-width="1"/>
<line x1="252.00" y1="880.80" x2="252.00" y2="872.68" stroke="#222" stroke-width="0.9"/>
<line x1="249.70" y1="872.68" x2="254.30" y2="872.68" stroke="#222" stroke-width="0.9"/>
<circle cx="252.00" cy="872.39" r="1.1" fill="#8A10A8"/>
<circle cx="252.00" cy="878.19" r="1.1" fill="#8A10A8"/>
<circle cx="252.00" cy="884.28" r="1.1" fill="#8A10A8"/>
<circle cx="252.00" cy="889.79" r="1.1" fill="#8A10A8"/>
<rect x="257.50" y="879.35" width="10.00" height="24.65" fill="#AC4ED4" stroke="#111" stroke-width="1"/>
<line x1="262.50" y1="879.35" x2="262.50" y2="870.94" stroke="#222" stroke-width="0.9"/>
<line x1="260.20" y1="870.94" x2="264.80" y2="870.94" stroke="#222" stroke-width="0.9"/>
<circle cx="262.50" cy="869.20" r="1.1" fill="#8A10A8"/>
<circle cx="262.50" cy="880.80" r="1.1" fill="#8A10A8"/>
<circle cx="262.50" cy="883.70" r="1.1" fill="#8A10A8"/>
<circle cx="262.50" cy="886.89" r="1.1" fill="#8A10A8"/>
<line x1="187.70" y1="904.00" x2="273.30" y2="904.00" stroke="#000" stroke-width="1.3"/>
<line x1="197.50" y1="844.50" x2="208.40" y2="844.50" stroke="#333" stroke-width="0.85"/>
<text x="0.00" y="0.00" font-size="9.0" font-weight="normal" fill="#222" text-anchor="start" transform="translate(178.50,841.60) scale(0.76,1)"><tspan font-style="italic">p</tspan> = 0.004</text>
<line x1="211.30" y1="832.00" x2="263.00" y2="832.00" stroke="#333" stroke-width="0.85"/>
<text x="0.00" y="0.00" font-size="9.0" font-weight="normal" fill="#222" text-anchor="start" transform="translate(223.80,829.00) scale(0.76,1)"><tspan font-style="italic">p</tspan> = 0.16</text>
<line x1="211.00" y1="844.50" x2="236.50" y2="844.50" stroke="#333" stroke-width="0.85"/>
<text x="0.00" y="0.00" font-size="9.0" font-weight="normal" fill="#222" text-anchor="start" transform="translate(215.00,841.60) scale(0.76,1)"><tspan font-style="italic">p</tspan> = 0.001</text>
<line x1="225.70" y1="874.20" x2="236.20" y2="874.20" stroke="#333" stroke-width="0.85"/>
<text x="0.00" y="0.00" font-size="9.0" font-weight="normal" fill="#222" text-anchor="start" transform="translate(218.90,871.80) scale(0.76,1)"><tspan font-style="italic">p</tspan> = 0.99</text>
<line x1="252.30" y1="865.20" x2="262.80" y2="865.20" stroke="#333" stroke-width="0.85"/>
<text x="0.00" y="0.00" font-size="9.0" font-weight="normal" fill="#222" text-anchor="start" transform="translate(243.10,862.60) scale(0.76,1)"><tspan font-style="italic">p</tspan> &gt; 0.999</text>
<text x="0.00" y="0.00" font-size="9" font-weight="bold" fill="#000" text-anchor="middle" transform="translate(171.30,874.10) rotate(-90)">No. of sphere</text>
<text x="17.00" y="916.60" font-size="9" font-weight="bold" fill="#000" text-anchor="start">A549: shRNA<tspan dy="-3.06" font-size="5.94">Con</tspan></text>
<text x="146.00" y="916.60" font-size="9" font-weight="bold" fill="#000" text-anchor="start">A549: shRNA<tspan dy="-3.06" font-size="5.94">Con</tspan></text>
<text x="101.50" y="916.60" font-size="9" font-weight="bold" fill="#000" text-anchor="middle">#1</text>
<text x="128.00" y="916.60" font-size="9" font-weight="bold" fill="#000" text-anchor="middle">#2</text>
<line x1="88.00" y1="922.80" x2="140.00" y2="922.80" stroke="#8C8CF0" stroke-width="1.2"/>
<text x="114.75" y="933.60" font-size="9" font-weight="bold" fill="#000" text-anchor="middle">shRNA<tspan dy="-3.06" font-size="5.94">IR</tspan></text>
<text x="231.00" y="916.60" font-size="9" font-weight="bold" fill="#000" text-anchor="middle">#1</text>
<text x="257.50" y="916.60" font-size="9" font-weight="bold" fill="#000" text-anchor="middle">#2</text>
<line x1="217.50" y1="922.80" x2="269.50" y2="922.80" stroke="#8C8CF0" stroke-width="1.2"/>
<text x="244.25" y="933.60" font-size="9" font-weight="bold" fill="#000" text-anchor="middle">shRNA<tspan dy="-3.06" font-size="5.94">IR</tspan></text>
<text x="350.00" y="527.00" font-size="14" font-weight="bold" fill="#000" text-anchor="start">k</text>
<text x="377.00" y="525.00" font-size="9" font-weight="bold" fill="#000" text-anchor="start"><tspan fill="#C30FC3">Veh</tspan> or <tspan fill="#C30FC3">NB</tspan></text>
<path d="M421.30,523.00 Q427.50,524.50 427.30,531.00" fill="none" stroke="#C30FC3" stroke-width="1.6"/>
<path d="M427.22,533.76 L425.06,529.09 L429.66,529.23 Z" fill="#C30FC3" stroke="none" stroke-width="1"/>
<g transform="translate(417.00,541.00) scale(1.0)"><path d="M2,-1 L16.6,-8.4 L23.5,-6.3 L25.6,0 L25.6,1 L19,3.2 L5,5.8 L4,4.5 Z" fill="#e8e8e8" stroke="#c8c8c8" stroke-width="0.5"/><path d="M4.5,0.4 L17,-3.6 L25.6,-0.3 L25.6,1 L19,3.2 L5.3,5.8 L4.5,4.5 Z" fill="#E8747A"/><path d="M5,1.8 L17,-2.3 L24.5,0" fill="none" stroke="#F4A6AA" stroke-width="0.6"/><rect x="0" y="0" width="4.5" height="4.8" rx="1.2" fill="#2F86D6"/></g>
<text x="452.50" y="544.00" font-size="10" font-weight="bold" fill="#000" text-anchor="middle">+</text>
<ellipse cx="475.80" cy="540.50" rx="12.50" ry="6.20" fill="#F9D9DB" stroke="#d8d0d2" stroke-width="0.8"/>
<ellipse cx="475.80" cy="540.90" rx="11.20" ry="4.90" fill="#F4B3B8" stroke="#ec9ea4" stroke-width="0.3"/>
<circle cx="481.02" cy="541.27" r="0.45" fill="#E0858C"/>
<circle cx="473.02" cy="539.94" r="0.45" fill="#E0858C"/>
<circle cx="480.90" cy="539.54" r="0.45" fill="#E0858C"/>
<circle cx="479.71" cy="541.97" r="0.45" fill="#E0858C"/>
<circle cx="472.14" cy="539.69" r="0.45" fill="#E0858C"/>
<circle cx="479.92" cy="539.43" r="0.45" fill="#E0858C"/>
<circle cx="483.30" cy="538.93" r="0.45" fill="#E0858C"/>
<circle cx="473.05" cy="543.39" r="0.45" fill="#E0858C"/>
<circle cx="481.66" cy="542.54" r="0.45" fill="#E0858C"/>
<circle cx="483.70" cy="543.09" r="0.45" fill="#E0858C"/>
<circle cx="474.97" cy="538.82" r="0.45" fill="#E0858C"/>
<circle cx="481.89" cy="538.86" r="0.45" fill="#E0858C"/>
<circle cx="484.13" cy="540.63" r="0.45" fill="#E0858C"/>
<circle cx="476.58" cy="541.30" r="0.45" fill="#E0858C"/>
<circle cx="479.60" cy="542.26" r="0.45" fill="#E0858C"/>
<circle cx="471.31" cy="541.40" r="0.45" fill="#E0858C"/>
<circle cx="482.44" cy="541.03" r="0.45" fill="#E0858C"/>
<circle cx="468.24" cy="539.50" r="0.45" fill="#E0858C"/>
<circle cx="485.02" cy="541.21" r="0.45" fill="#E0858C"/>
<circle cx="470.52" cy="542.22" r="0.45" fill="#E0858C"/>
<circle cx="476.51" cy="540.21" r="0.45" fill="#E0858C"/>
<circle cx="474.43" cy="542.17" r="0.45" fill="#E0858C"/>
<circle cx="480.71" cy="542.62" r="0.45" fill="#E0858C"/>
<circle cx="471.41" cy="543.59" r="0.45" fill="#E0858C"/>
<circle cx="476.60" cy="538.74" r="0.45" fill="#E0858C"/>
<circle cx="472.85" cy="541.65" r="0.45" fill="#E0858C"/>
<path d="M497.50,537.50 Q508.00,522.00 519.50,530.50" fill="none" stroke="#D010D0" stroke-width="1.4"/>
<path d="M521.53,532.00 L516.90,531.19 L519.40,527.81 Z" fill="#D010D0" stroke="none" stroke-width="1"/>
<path d="M538.40,518.30 C540.90,521.30 547.95,526.60 547.95,533.60 C547.95,540.60 543.40,545.50 538.40,545.50 C533.40,545.50 528.85,540.60 528.85,533.60 C528.85,526.60 535.90,521.30 538.40,518.30 Z" fill="#2c2c2c" stroke="#111" stroke-width="0.7"/>
<ellipse cx="527.70" cy="534.50" rx="3.00" ry="3.80" fill="#C010C0"/>
<line x1="538.40" y1="518.30" x2="530.28" y2="515.10" stroke="#111" stroke-width="0.6"/>
<line x1="538.40" y1="518.30" x2="546.52" y2="515.10" stroke="#111" stroke-width="0.6"/>
<line x1="538.40" y1="518.30" x2="530.28" y2="518.30" stroke="#111" stroke-width="0.6"/>
<line x1="538.40" y1="518.30" x2="546.52" y2="518.30" stroke="#111" stroke-width="0.6"/>
<line x1="538.40" y1="518.30" x2="530.28" y2="521.70" stroke="#111" stroke-width="0.6"/>
<line x1="538.40" y1="518.30" x2="546.52" y2="521.70" stroke="#111" stroke-width="0.6"/>
<ellipse cx="538.40" cy="518.60" rx="1.40" ry="1.00" fill="#111"/>
<ellipse cx="537.00" cy="522.50" rx="0.50" ry="1.00" fill="#ccc"/>
<ellipse cx="539.80" cy="522.50" rx="0.50" ry="1.00" fill="#ccc"/>
<path d="M538.40,545.50 C537.90,549.50 541.40,549.00 542.40,551.50 S543.40,554.50 543.90,556.50" fill="none" stroke="#111" stroke-width="0.7"/>
<text x="538.40" y="539.18" font-size="9" font-weight="bold" fill="#eee" text-anchor="middle">B6</text>
<line x1="554.80" y1="535.00" x2="562.00" y2="535.00" stroke="#D010D0" stroke-width="1.5"/>
<path d="M561,532.3 L566.7,535 L561,537.7 Z" fill="#D010D0" stroke="none" stroke-width="1"/>
<text x="575.00" y="527.00" font-size="9" font-weight="bold" fill="#4545DD" text-anchor="start">Analysis of</text>
<text x="575.00" y="538.00" font-size="9" font-weight="bold" fill="#4545DD" text-anchor="start">primary tumor &amp;</text>
<text x="575.00" y="549.00" font-size="9" font-weight="bold" fill="#4545DD" text-anchor="start">lung metastasis</text>
<text x="448.80" y="556.30" font-size="9" font-weight="bold" fill="#6AAE3C" text-anchor="end">BMDM/sgRNA<tspan dy="-3.06" font-size="5.94">Con</tspan><tspan dy="3.06"> </tspan><tspan fill="#000">or</tspan></text>
<text x="365.00" y="567.00" font-size="9" font-weight="bold" fill="#6AAE3C" text-anchor="start">BMDM/sgRNA<tspan dy="-3.06" font-size="5.94">IGF2</tspan></text>
<text x="476.60" y="557.00" font-size="9" font-weight="bold" fill="#8E62CC" text-anchor="middle">LLC</text>
<rect x="363.50" y="575.50" width="285.30" height="25.80" fill="#fff" stroke="#333" stroke-width="0.9"/>
<rect x="368.80" y="580.50" width="5.20" height="5.60" fill="#F0C9F6" stroke="#222" stroke-width="0.7"/>
<text x="377.50" y="586.30" font-size="9" font-weight="bold" fill="#000" text-anchor="start">LLC + BMDM/sgRNA<tspan dy="-3.06" font-size="5.94">Con</tspan><tspan dy="3.06">-Veh</tspan></text>
<rect x="368.80" y="590.50" width="5.20" height="5.60" fill="#AC4ED4" stroke="#222" stroke-width="0.7"/>
<text x="377.50" y="596.30" font-size="9" font-weight="bold" fill="#000" text-anchor="start">LLC + BMDM/sgRNA<tspan dy="-3.06" font-size="5.94">Con</tspan><tspan dy="3.06">-NB</tspan></text>
<rect x="510.00" y="580.50" width="5.20" height="5.60" fill="#C2C5FA" stroke="#222" stroke-width="0.7"/>
<text x="518.80" y="586.30" font-size="9" font-weight="bold" fill="#000" text-anchor="start">LLC + BMDM/sgRNA<tspan dy="-3.06" font-size="5.94">IGF2</tspan><tspan dy="3.06">-Veh</tspan></text>
<rect x="510.00" y="590.50" width="5.20" height="5.60" fill="#8189F5" stroke="#222" stroke-width="0.7"/>
<text x="518.80" y="596.30" font-size="9" font-weight="bold" fill="#000" text-anchor="start">LLC + BMDM/sgRNA<tspan dy="-3.06" font-size="5.94">IGF2</tspan><tspan dy="3.06">-NB</tspan></text>
<line x1="387.60" y1="685.10" x2="387.60" y2="623.90" stroke="#000" stroke-width="1.3"/>
<line x1="384.60" y1="684.50" x2="387.60" y2="684.50" stroke="#000" stroke-width="0.9"/>
<text x="0.00" y="0.00" font-size="7.6" font-weight="normal" fill="#222" text-anchor="end" transform="translate(382.80,687.24) scale(1.0,1)">0</text>
<line x1="384.60" y1="669.48" x2="387.60" y2="669.48" stroke="#000" stroke-width="0.9"/>
<text x="0.00" y="0.00" font-size="7.6" font-weight="normal" fill="#222" text-anchor="end" transform="translate(382.80,672.21) scale(1.0,1)">500</text>
<line x1="384.60" y1="654.45" x2="387.60" y2="654.45" stroke="#000" stroke-width="0.9"/>
<text x="0.00" y="0.00" font-size="7.6" font-weight="normal" fill="#222" text-anchor="end" transform="translate(382.80,657.19) scale(1.0,1)">1000</text>
<line x1="384.60" y1="639.42" x2="387.60" y2="639.42" stroke="#000" stroke-width="0.9"/>
<text x="0.00" y="0.00" font-size="7.6" font-weight="normal" fill="#222" text-anchor="end" transform="translate(382.80,642.16) scale(1.0,1)">1500</text>
<line x1="384.60" y1="624.40" x2="387.60" y2="624.40" stroke="#000" stroke-width="0.9"/>
<text x="0.00" y="0.00" font-size="7.6" font-weight="normal" fill="#222" text-anchor="end" transform="translate(382.80,627.14) scale(1.0,1)">2000</text>
<rect x="393.70" y="667.34" width="9.70" height="17.16" fill="#F0C9F6" stroke="#111" stroke-width="1"/>
<line x1="398.55" y1="667.34" x2="398.55" y2="659.98" stroke="#222" stroke-width="0.9"/>
<line x1="396.25" y1="659.98" x2="400.85" y2="659.98" stroke="#222" stroke-width="0.9"/>
<circle cx="398.55" cy="656.91" r="1.1" fill="#8A10A8"/>
<circle cx="397.39" cy="658.96" r="1.1" fill="#8A10A8"/>
<circle cx="400.57" cy="659.14" r="1.1" fill="#8A10A8"/>
<circle cx="398.55" cy="664.88" r="1.1" fill="#8A10A8"/>
<circle cx="396.71" cy="665.09" r="1.1" fill="#8A10A8"/>
<circle cx="398.55" cy="669.17" r="1.1" fill="#8A10A8"/>
<circle cx="397.14" cy="669.17" r="1.1" fill="#8A10A8"/>
<circle cx="396.22" cy="671.01" r="1.1" fill="#8A10A8"/>
<circle cx="398.55" cy="675.82" r="1.1" fill="#8A10A8"/>
<circle cx="396.37" cy="676.12" r="1.1" fill="#8A10A8"/>
<circle cx="400.00" cy="676.84" r="1.1" fill="#8A10A8"/>
<rect x="404.20" y="656.91" width="10.40" height="27.59" fill="#AC4ED4" stroke="#111" stroke-width="1"/>
<line x1="409.40" y1="656.91" x2="409.40" y2="640.36" stroke="#222" stroke-width="0.9"/>
<line x1="407.10" y1="640.36" x2="411.70" y2="640.36" stroke="#222" stroke-width="0.9"/>
<circle cx="409.40" cy="627.47" r="1.1" fill="#8A10A8"/>
<circle cx="409.40" cy="635.94" r="1.1" fill="#8A10A8"/>
<circle cx="412.02" cy="637.29" r="1.1" fill="#8A10A8"/>
<circle cx="409.40" cy="645.13" r="1.1" fill="#8A10A8"/>
<circle cx="409.40" cy="654.03" r="1.1" fill="#8A10A8"/>
<circle cx="407.19" cy="654.03" r="1.1" fill="#8A10A8"/>
<circle cx="406.74" cy="655.05" r="1.1" fill="#8A10A8"/>
<circle cx="409.40" cy="668.15" r="1.1" fill="#8A10A8"/>
<circle cx="409.40" cy="671.73" r="1.1" fill="#8A10A8"/>
<circle cx="409.26" cy="671.73" r="1.1" fill="#8A10A8"/>
<circle cx="409.40" cy="677.14" r="1.1" fill="#8A10A8"/>
<circle cx="406.76" cy="677.35" r="1.1" fill="#8A10A8"/>
<rect x="420.50" y="671.01" width="10.00" height="13.49" fill="#C2C5FA" stroke="#111" stroke-width="1"/>
<line x1="425.50" y1="671.01" x2="425.50" y2="664.28" stroke="#222" stroke-width="0.9"/>
<line x1="423.20" y1="664.28" x2="427.80" y2="664.28" stroke="#222" stroke-width="0.9"/>
<path d="M424.10,659.46 L426.90,659.46 L425.50,661.76 Z" fill="#3F5CFF"/>
<path d="M426.69,661.23 L429.49,661.23 L428.09,663.53 Z" fill="#3F5CFF"/>
<path d="M424.10,662.86 L426.90,662.86 L425.50,665.16 Z" fill="#3F5CFF"/>
<path d="M424.10,668.17 L426.90,668.17 L425.50,670.47 Z" fill="#3F5CFF"/>
<path d="M424.10,672.77 L426.90,672.77 L425.50,675.07 Z" fill="#3F5CFF"/>
<path d="M425.16,674.30 L427.96,674.30 L426.56,676.60 Z" fill="#3F5CFF"/>
<path d="M423.89,675.33 L426.69,675.33 L425.29,677.63 Z" fill="#3F5CFF"/>
<path d="M424.10,681.97 L426.90,681.97 L425.50,684.27 Z" fill="#3F5CFF"/>
<rect x="431.50" y="670.20" width="10.20" height="14.30" fill="#8189F5" stroke="#111" stroke-width="1"/>
<line x1="436.60" y1="670.20" x2="436.60" y2="662.23" stroke="#222" stroke-width="0.9"/>
<line x1="434.30" y1="662.23" x2="438.90" y2="662.23" stroke="#222" stroke-width="0.9"/>
<path d="M435.20,655.40 L438.00,655.40 L436.60,657.70 Z" fill="#3F5CFF"/>
<path d="M435.96,656.42 L438.76,656.42 L437.36,658.72 Z" fill="#3F5CFF"/>
<path d="M438.12,657.45 L440.92,657.45 L439.52,659.75 Z" fill="#3F5CFF"/>
<path d="M435.20,667.15 L438.00,667.15 L436.60,669.45 Z" fill="#3F5CFF"/>
<path d="M435.69,668.17 L438.49,668.17 L437.09,670.47 Z" fill="#3F5CFF"/>
<path d="M435.20,675.33 L438.00,675.33 L436.60,677.63 Z" fill="#3F5CFF"/>
<path d="M433.77,675.33 L436.57,675.33 L435.17,677.63 Z" fill="#3F5CFF"/>
<path d="M434.22,675.33 L437.02,675.33 L435.62,677.63 Z" fill="#3F5CFF"/>
<path d="M434.40,675.33 L437.20,675.33 L435.80,677.63 Z" fill="#3F5CFF"/>
<line x1="387.00" y1="684.50" x2="448.80" y2="684.50" stroke="#000" stroke-width="1.3"/>
<line x1="398.80" y1="620.80" x2="410.50" y2="620.80" stroke="#333" stroke-width="0.85"/>
<text x="0.00" y="0.00" font-size="9.0" font-weight="normal" fill="#222" text-anchor="start" transform="translate(377.50,618.00) scale(0.76,1)"><tspan font-style="italic">p</tspan> = 0.0247</text>
<line x1="412.00" y1="620.80" x2="437.50" y2="620.80" stroke="#333" stroke-width="0.85"/>
<text x="0.00" y="0.00" font-size="9.0" font-weight="normal" fill="#222" text-anchor="start" transform="translate(412.50,618.00) scale(0.76,1)"><tspan font-style="italic">p</tspan> = 0.0038</text>
<line x1="426.30" y1="650.80" x2="437.00" y2="650.80" stroke="#333" stroke-width="0.85"/>
<text x="0.00" y="0.00" font-size="9.0" font-weight="normal" fill="#222" text-anchor="start" transform="translate(416.30,647.50) scale(0.76,1)"><tspan font-style="italic">p</tspan> = 0.8745</text>
<text x="0.00" y="0.00" font-size="9" font-weight="bold" fill="#000" text-anchor="middle" transform="translate(361.50,652.80) rotate(-90)">Tumor volume (mm<tspan dy="-3.06" font-size="5.94">2</tspan><tspan dy="3.06">)</tspan></text>
<line x1="482.30" y1="685.10" x2="482.30" y2="624.00" stroke="#000" stroke-width="1.3"/>
<line x1="479.30" y1="684.50" x2="482.30" y2="684.50" stroke="#000" stroke-width="0.9"/>
<text x="0.00" y="0.00" font-size="7.6" font-weight="normal" fill="#222" text-anchor="end" transform="translate(477.50,687.24) scale(1.0,1)">0</text>
<line x1="479.30" y1="664.50" x2="482.30" y2="664.50" stroke="#000" stroke-width="0.9"/>
<text x="0.00" y="0.00" font-size="7.6" font-weight="normal" fill="#222" text-anchor="end" transform="translate(477.50,667.24) scale(1.0,1)">2</text>
<line x1="479.30" y1="644.50" x2="482.30" y2="644.50" stroke="#000" stroke-width="0.9"/>
<text x="0.00" y="0.00" font-size="7.6" font-weight="normal" fill="#222" text-anchor="end" transform="translate(477.50,647.24) scale(1.0,1)">4</text>
<line x1="479.30" y1="624.50" x2="482.30" y2="624.50" stroke="#000" stroke-width="0.9"/>
<text x="0.00" y="0.00" font-size="7.6" font-weight="normal" fill="#222" text-anchor="end" transform="translate(477.50,627.24) scale(1.0,1)">6</text>
<rect x="488.20" y="683.50" width="10.70" height="1.00" fill="#F0C9F6" stroke="#111" stroke-width="1"/>
<line x1="493.55" y1="683.50" x2="493.55" y2="679.50" stroke="#222" stroke-width="0.9"/>
<line x1="491.25" y1="679.50" x2="495.85" y2="679.50" stroke="#222" stroke-width="0.9"/>
<circle cx="493.55" cy="674.80" r="1.1" fill="#8A10A8"/>
<circle cx="493.55" cy="684.50" r="1.1" fill="#8A10A8"/>
<circle cx="490.55" cy="684.50" r="1.1" fill="#8A10A8"/>
<circle cx="496.55" cy="684.50" r="1.1" fill="#8A10A8"/>
<rect x="499.50" y="666.60" width="9.80" height="17.90" fill="#AC4ED4" stroke="#111" stroke-width="1"/>
<line x1="504.40" y1="666.60" x2="504.40" y2="644.70" stroke="#222" stroke-width="0.9"/>
<line x1="502.10" y1="644.70" x2="506.70" y2="644.70" stroke="#222" stroke-width="0.9"/>
<circle cx="504.40" cy="634.50" r="1.1" fill="#8A10A8"/>
<circle cx="504.40" cy="644.70" r="1.1" fill="#8A10A8"/>
<circle cx="504.40" cy="654.90" r="1.1" fill="#8A10A8"/>
<circle cx="504.40" cy="674.80" r="1.1" fill="#8A10A8"/>
<circle cx="504.40" cy="684.50" r="1.1" fill="#8A10A8"/>
<rect x="515.30" y="682.50" width="10.20" height="2.00" fill="#C2C5FA" stroke="#111" stroke-width="1"/>
<line x1="520.40" y1="682.50" x2="520.40" y2="674.30" stroke="#222" stroke-width="0.9"/>
<line x1="518.10" y1="674.30" x2="522.70" y2="674.30" stroke="#222" stroke-width="0.9"/>
<path d="M519.00,664.10 L521.80,664.10 L520.40,666.40 Z" fill="#3F5CFF"/>
<path d="M519.00,683.50 L521.80,683.50 L520.40,685.80 Z" fill="#3F5CFF"/>
<path d="M516.00,683.50 L518.80,683.50 L517.40,685.80 Z" fill="#3F5CFF"/>
<path d="M522.00,683.50 L524.80,683.50 L523.40,685.80 Z" fill="#3F5CFF"/>
<path d="M521.37,683.50 L524.17,683.50 L522.77,685.80 Z" fill="#3F5CFF"/>
<rect x="526.00" y="682.50" width="10.70" height="2.00" fill="#8189F5" stroke="#111" stroke-width="1"/>
<line x1="531.35" y1="682.50" x2="531.35" y2="676.80" stroke="#222" stroke-width="0.9"/>
<line x1="529.05" y1="676.80" x2="533.65" y2="676.80" stroke="#222" stroke-width="0.9"/>
<path d="M529.95,673.30 L532.75,673.30 L531.35,675.60 Z" fill="#3F5CFF"/>
<path d="M526.95,673.30 L529.75,673.30 L528.35,675.60 Z" fill="#3F5CFF"/>
<path d="M529.95,683.50 L532.75,683.50 L531.35,685.80 Z" fill="#3F5CFF"/>
<path d="M526.95,683.50 L529.75,683.50 L528.35,685.80 Z" fill="#3F5CFF"/>
<path d="M532.95,683.50 L535.75,683.50 L534.35,685.80 Z" fill="#3F5CFF"/>
<line x1="481.70" y1="684.50" x2="543.80" y2="684.50" stroke="#000" stroke-width="1.3"/>
<line x1="492.50" y1="620.00" x2="503.80" y2="620.00" stroke="#333" stroke-width="0.85"/>
<text x="0.00" y="0.00" font-size="9.0" font-weight="normal" fill="#222" text-anchor="start" transform="translate(472.50,616.30) scale(0.76,1)"><tspan font-style="italic">p</tspan> = 0.2597</text>
<line x1="506.30" y1="620.00" x2="532.00" y2="620.00" stroke="#333" stroke-width="0.85"/>
<text x="0.00" y="0.00" font-size="9.0" font-weight="normal" fill="#222" text-anchor="start" transform="translate(507.00,616.30) scale(0.76,1)"><tspan font-style="italic">p</tspan> = 0.7546</text>
<line x1="521.30" y1="660.00" x2="531.30" y2="660.00" stroke="#333" stroke-width="0.85"/>
<text x="0.00" y="0.00" font-size="9.0" font-weight="normal" fill="#222" text-anchor="start" transform="translate(510.00,657.00) scale(0.76,1)"><tspan font-style="italic">p</tspan> &gt; 0.9999</text>
<text x="0.00" y="0.00" font-size="9" font-weight="bold" fill="#000" text-anchor="middle" transform="translate(467.80,653.00) rotate(-90)">Tumor multiplicity</text>
<line x1="595.60" y1="684.90" x2="595.60" y2="623.20" stroke="#000" stroke-width="1.3"/>
<line x1="592.60" y1="684.30" x2="595.60" y2="684.30" stroke="#000" stroke-width="0.9"/>
<text x="0.00" y="0.00" font-size="7.6" font-weight="normal" fill="#222" text-anchor="end" transform="translate(590.80,687.04) scale(1.0,1)">0.000</text>
<line x1="592.60" y1="672.18" x2="595.60" y2="672.18" stroke="#000" stroke-width="0.9"/>
<text x="0.00" y="0.00" font-size="7.6" font-weight="normal" fill="#222" text-anchor="end" transform="translate(590.80,674.92) scale(1.0,1)">0.002</text>
<line x1="592.60" y1="660.06" x2="595.60" y2="660.06" stroke="#000" stroke-width="0.9"/>
<text x="0.00" y="0.00" font-size="7.6" font-weight="normal" fill="#222" text-anchor="end" transform="translate(590.80,662.80) scale(1.0,1)">0.004</text>
<line x1="592.60" y1="647.94" x2="595.60" y2="647.94" stroke="#000" stroke-width="0.9"/>
<text x="0.00" y="0.00" font-size="7.6" font-weight="normal" fill="#222" text-anchor="end" transform="translate(590.80,650.68) scale(1.0,1)">0.006</text>
<line x1="592.60" y1="635.82" x2="595.60" y2="635.82" stroke="#000" stroke-width="0.9"/>
<text x="0.00" y="0.00" font-size="7.6" font-weight="normal" fill="#222" text-anchor="end" transform="translate(590.80,638.56) scale(1.0,1)">0.008</text>
<line x1="592.60" y1="623.70" x2="595.60" y2="623.70" stroke="#000" stroke-width="0.9"/>
<text x="0.00" y="0.00" font-size="7.6" font-weight="normal" fill="#222" text-anchor="end" transform="translate(590.80,626.44) scale(1.0,1)">0.010</text>
<rect x="601.60" y="683.69" width="9.90" height="0.61" fill="#F0C9F6" stroke="#111" stroke-width="1"/>
<line x1="606.55" y1="683.69" x2="606.55" y2="683.69" stroke="#222" stroke-width="0.9"/>
<line x1="604.25" y1="683.69" x2="608.85" y2="683.69" stroke="#222" stroke-width="0.9"/>
<circle cx="606.55" cy="681.88" r="1.1" fill="#8A10A8"/>
<circle cx="603.55" cy="684.30" r="1.1" fill="#8A10A8"/>
<circle cx="609.55" cy="684.30" r="1.1" fill="#8A10A8"/>
<circle cx="605.27" cy="684.30" r="1.1" fill="#8A10A8"/>
<rect x="612.50" y="667.94" width="10.10" height="16.36" fill="#AC4ED4" stroke="#111" stroke-width="1"/>
<line x1="617.55" y1="667.94" x2="617.55" y2="646.73" stroke="#222" stroke-width="0.9"/>
<line x1="615.25" y1="646.73" x2="619.85" y2="646.73" stroke="#222" stroke-width="0.9"/>
<circle cx="617.55" cy="636.43" r="1.1" fill="#8A10A8"/>
<circle cx="617.55" cy="641.88" r="1.1" fill="#8A10A8"/>
<circle cx="617.55" cy="666.12" r="1.1" fill="#8A10A8"/>
<circle cx="617.55" cy="677.63" r="1.1" fill="#8A10A8"/>
<rect x="629.00" y="683.09" width="9.50" height="1.21" fill="#C2C5FA" stroke="#111" stroke-width="1"/>
<line x1="633.75" y1="683.09" x2="633.75" y2="679.45" stroke="#222" stroke-width="0.9"/>
<line x1="631.45" y1="679.45" x2="636.05" y2="679.45" stroke="#222" stroke-width="0.9"/>
<path d="M632.35,674.21 L635.15,674.21 L633.75,676.51 Z" fill="#3F5CFF"/>
<path d="M632.35,683.30 L635.15,683.30 L633.75,685.60 Z" fill="#3F5CFF"/>
<path d="M629.35,683.30 L632.15,683.30 L630.75,685.60 Z" fill="#3F5CFF"/>
<path d="M635.35,683.30 L638.15,683.30 L636.75,685.60 Z" fill="#3F5CFF"/>
<path d="M633.41,683.30 L636.21,683.30 L634.81,685.60 Z" fill="#3F5CFF"/>
<rect x="639.00" y="683.09" width="10.00" height="1.21" fill="#8189F5" stroke="#111" stroke-width="1"/>
<line x1="644.00" y1="683.09" x2="644.00" y2="681.27" stroke="#222" stroke-width="0.9"/>
<line x1="641.70" y1="681.27" x2="646.30" y2="681.27" stroke="#222" stroke-width="0.9"/>
<path d="M642.60,677.85 L645.40,677.85 L644.00,680.15 Z" fill="#3F5CFF"/>
<path d="M639.60,677.85 L642.40,677.85 L641.00,680.15 Z" fill="#3F5CFF"/>
<path d="M642.60,683.30 L645.40,683.30 L644.00,685.60 Z" fill="#3F5CFF"/>
<path d="M639.60,683.30 L642.40,683.30 L641.00,685.60 Z" fill="#3F5CFF"/>
<path d="M645.60,683.30 L648.40,683.30 L647.00,685.60 Z" fill="#3F5CFF"/>
<line x1="595.00" y1="684.30" x2="656.50" y2="684.30" stroke="#000" stroke-width="1.3"/>
<line x1="606.50" y1="621.40" x2="617.50" y2="621.40" stroke="#333" stroke-width="0.85"/>
<text x="0.00" y="0.00" font-size="9.0" font-weight="normal" fill="#222" text-anchor="start" transform="translate(585.50,618.20) scale(0.76,1)"><tspan font-style="italic">p</tspan> = 0.2154</text>
<line x1="620.20" y1="621.40" x2="645.80" y2="621.40" stroke="#333" stroke-width="0.85"/>
<text x="0.00" y="0.00" font-size="9.0" font-weight="normal" fill="#222" text-anchor="start" transform="translate(622.00,618.20) scale(0.76,1)"><tspan font-style="italic">p</tspan> &gt; 0.9999</text>
<line x1="633.90" y1="666.60" x2="644.90" y2="666.60" stroke="#333" stroke-width="0.85"/>
<text x="0.00" y="0.00" font-size="9.0" font-weight="normal" fill="#222" text-anchor="start" transform="translate(623.00,663.90) scale(0.76,1)"><tspan font-style="italic">p</tspan> &gt; 0.9999</text>
<text x="0.00" y="0.00" font-size="9" font-weight="bold" fill="#000" text-anchor="middle" transform="translate(558.80,653.00) rotate(-90)">Tumor burden</text>
<text x="0.00" y="0.00" font-size="9" font-weight="bold" fill="#000" text-anchor="middle" transform="translate(568.80,655.50) rotate(-90)">(mm<tspan dy="-3.06" font-size="5.94">2</tspan><tspan dy="3.06">)</tspan></text>
<line x1="368.00" y1="693.00" x2="450.00" y2="693.00" stroke="#8C8CF0" stroke-width="1.2"/>
<line x1="468.00" y1="693.00" x2="660.00" y2="693.00" stroke="#EE99EE" stroke-width="1.2"/>
<text x="409.00" y="704.60" font-size="9" font-weight="bold" fill="#000" text-anchor="middle">Primary tumor</text>
<text x="564.50" y="704.60" font-size="9" font-weight="bold" fill="#000" text-anchor="middle">Lung metastasis</text>
<text x="352.00" y="747.00" font-size="14" font-weight="bold" fill="#000" text-anchor="start">l</text>
<text x="377.00" y="745.00" font-size="9" font-weight="bold" fill="#000" text-anchor="start"><tspan fill="#C30FC3">Veh</tspan> or <tspan fill="#C30FC3">NB</tspan></text>
<path d="M421.30,743.00 Q427.50,744.50 427.30,751.00" fill="none" stroke="#C30FC3" stroke-width="1.6"/>
<path d="M427.22,753.76 L425.06,749.09 L429.66,749.23 Z" fill="#C30FC3" stroke="none" stroke-width="1"/>
<g transform="translate(417.00,761.00) scale(1.0)"><path d="M2,-1 L16.6,-8.4 L23.5,-6.3 L25.6,0 L25.6,1 L19,3.2 L5,5.8 L4,4.5 Z" fill="#e8e8e8" stroke="#c8c8c8" stroke-width="0.5"/><path d="M4.5,0.4 L17,-3.6 L25.6,-0.3 L25.6,1 L19,3.2 L5.3,5.8 L4.5,4.5 Z" fill="#E8747A"/><path d="M5,1.8 L17,-2.3 L24.5,0" fill="none" stroke="#F4A6AA" stroke-width="0.6"/><rect x="0" y="0" width="4.5" height="4.8" rx="1.2" fill="#2F86D6"/></g>
<text x="452.50" y="764.00" font-size="10" font-weight="bold" fill="#000" text-anchor="middle">+</text>
<ellipse cx="477.80" cy="760.50" rx="12.50" ry="6.20" fill="#F9D9DB" stroke="#d8d0d2" stroke-width="0.8"/>
<ellipse cx="477.80" cy="760.90" rx="11.20" ry="4.90" fill="#F4B3B8" stroke="#ec9ea4" stroke-width="0.3"/>
<circle cx="474.29" cy="760.67" r="0.45" fill="#E0858C"/>
<circle cx="471.65" cy="763.74" r="0.45" fill="#E0858C"/>
<circle cx="473.72" cy="762.74" r="0.45" fill="#E0858C"/>
<circle cx="475.62" cy="763.06" r="0.45" fill="#E0858C"/>
<circle cx="477.20" cy="764.46" r="0.45" fill="#E0858C"/>
<circle cx="475.08" cy="763.82" r="0.45" fill="#E0858C"/>
<circle cx="478.90" cy="764.86" r="0.45" fill="#E0858C"/>
<circle cx="476.85" cy="757.48" r="0.45" fill="#E0858C"/>
<circle cx="472.45" cy="762.98" r="0.45" fill="#E0858C"/>
<circle cx="477.86" cy="760.53" r="0.45" fill="#E0858C"/>
<circle cx="477.03" cy="759.23" r="0.45" fill="#E0858C"/>
<circle cx="478.64" cy="760.49" r="0.45" fill="#E0858C"/>
<circle cx="479.02" cy="762.94" r="0.45" fill="#E0858C"/>
<circle cx="469.95" cy="761.56" r="0.45" fill="#E0858C"/>
<circle cx="474.74" cy="758.90" r="0.45" fill="#E0858C"/>
<circle cx="478.60" cy="761.23" r="0.45" fill="#E0858C"/>
<circle cx="482.14" cy="761.44" r="0.45" fill="#E0858C"/>
<circle cx="478.38" cy="757.18" r="0.45" fill="#E0858C"/>
<circle cx="484.77" cy="760.19" r="0.45" fill="#E0858C"/>
<circle cx="485.80" cy="762.06" r="0.45" fill="#E0858C"/>
<circle cx="479.91" cy="757.22" r="0.45" fill="#E0858C"/>
<circle cx="479.99" cy="759.04" r="0.45" fill="#E0858C"/>
<circle cx="474.29" cy="759.78" r="0.45" fill="#E0858C"/>
<circle cx="468.72" cy="760.02" r="0.45" fill="#E0858C"/>
<circle cx="482.67" cy="757.98" r="0.45" fill="#E0858C"/>
<circle cx="470.01" cy="758.67" r="0.45" fill="#E0858C"/>
<path d="M497.50,757.50 Q508.00,742.00 519.50,750.50" fill="none" stroke="#D010D0" stroke-width="1.4"/>
<path d="M521.53,752.00 L516.90,751.19 L519.40,747.81 Z" fill="#D010D0" stroke="none" stroke-width="1"/>
<path d="M538.40,738.30 C540.90,741.30 547.95,746.60 547.95,753.60 C547.95,760.60 543.40,765.50 538.40,765.50 C533.40,765.50 528.85,760.60 528.85,753.60 C528.85,746.60 535.90,741.30 538.40,738.30 Z" fill="#2c2c2c" stroke="#111" stroke-width="0.7"/>
<ellipse cx="527.70" cy="754.50" rx="3.00" ry="3.80" fill="#C010C0"/>
<line x1="538.40" y1="738.30" x2="530.28" y2="735.10" stroke="#111" stroke-width="0.6"/>
<line x1="538.40" y1="738.30" x2="546.52" y2="735.10" stroke="#111" stroke-width="0.6"/>
<line x1="538.40" y1="738.30" x2="530.28" y2="738.30" stroke="#111" stroke-width="0.6"/>
<line x1="538.40" y1="738.30" x2="546.52" y2="738.30" stroke="#111" stroke-width="0.6"/>
<line x1="538.40" y1="738.30" x2="530.28" y2="741.70" stroke="#111" stroke-width="0.6"/>
<line x1="538.40" y1="738.30" x2="546.52" y2="741.70" stroke="#111" stroke-width="0.6"/>
<ellipse cx="538.40" cy="738.60" rx="1.40" ry="1.00" fill="#111"/>
<ellipse cx="537.00" cy="742.50" rx="0.50" ry="1.00" fill="#ccc"/>
<ellipse cx="539.80" cy="742.50" rx="0.50" ry="1.00" fill="#ccc"/>
<path d="M538.40,765.50 C537.90,769.50 541.40,769.00 542.40,771.50 S543.40,774.50 543.90,776.50" fill="none" stroke="#111" stroke-width="0.7"/>
<text x="538.40" y="759.18" font-size="9" font-weight="bold" fill="#eee" text-anchor="middle">B6</text>
<line x1="554.80" y1="755.00" x2="562.00" y2="755.00" stroke="#D010D0" stroke-width="1.5"/>
<path d="M561,752.3 L566.7,755 L561,757.7 Z" fill="#D010D0" stroke="none" stroke-width="1"/>
<text x="573.50" y="747.00" font-size="9" font-weight="bold" fill="#4545DD" text-anchor="start">Analysis of</text>
<text x="573.50" y="758.00" font-size="9" font-weight="bold" fill="#4545DD" text-anchor="start">primary tumor &amp;</text>
<text x="573.50" y="769.00" font-size="9" font-weight="bold" fill="#4545DD" text-anchor="start">lung metastasis</text>
<text x="430.00" y="778.00" font-size="9" font-weight="bold" fill="#6AAE3C" text-anchor="middle">BMDM</text>
<text x="453.00" y="777.80" font-size="8.2" font-weight="bold" fill="#8E62CC" text-anchor="start">LLC/sgRNA<tspan dy="-2.79" font-size="5.41">Con</tspan><tspan dy="2.79"> </tspan><tspan fill="#000">or</tspan></text>
<text x="453.00" y="788.20" font-size="8.2" font-weight="bold" fill="#8E62CC" text-anchor="start">LLC/sgRNA<tspan dy="-2.79" font-size="5.41">IR</tspan></text>
<rect x="371.00" y="793.80" width="277.80" height="25.70" fill="#fff" stroke="#333" stroke-width="0.9"/>
<rect x="375.50" y="798.50" width="5.20" height="5.60" fill="#F0C9F6" stroke="#222" stroke-width="0.7"/>
<text x="384.00" y="804.30" font-size="9" font-weight="bold" fill="#000" text-anchor="start">LLC/sgRNA<tspan dy="-3.06" font-size="5.94">Con</tspan><tspan dy="3.06"> + BMDM-Veh</tspan></text>
<rect x="375.50" y="808.50" width="5.20" height="5.60" fill="#AC4ED4" stroke="#222" stroke-width="0.7"/>
<text x="384.00" y="814.30" font-size="9" font-weight="bold" fill="#000" text-anchor="start">LLC/sgRNA<tspan dy="-3.06" font-size="5.94">Con</tspan><tspan dy="3.06"> + BMDM-NB</tspan></text>
<rect x="517.50" y="798.50" width="5.20" height="5.60" fill="#C2C5FA" stroke="#222" stroke-width="0.7"/>
<text x="526.00" y="804.30" font-size="9" font-weight="bold" fill="#000" text-anchor="start">LLC/sgRNA<tspan dy="-3.06" font-size="5.94">IR</tspan><tspan dy="3.06"> + BMDM-Veh</tspan></text>
<rect x="517.50" y="808.50" width="5.20" height="5.60" fill="#8189F5" stroke="#222" stroke-width="0.7"/>
<text x="526.00" y="814.30" font-size="9" font-weight="bold" fill="#000" text-anchor="start">LLC/sgRNA<tspan dy="-3.06" font-size="5.94">IR</tspan><tspan dy="3.06"> + BMDM-NB</tspan></text>
<line x1="388.10" y1="905.60" x2="388.10" y2="843.90" stroke="#000" stroke-width="1.3"/>
<line x1="385.10" y1="905.00" x2="388.10" y2="905.00" stroke="#000" stroke-width="0.9"/>
<text x="0.00" y="0.00" font-size="7.6" font-weight="normal" fill="#222" text-anchor="end" transform="translate(383.30,907.74) scale(1.0,1)">0</text>
<line x1="385.10" y1="892.88" x2="388.10" y2="892.88" stroke="#000" stroke-width="0.9"/>
<text x="0.00" y="0.00" font-size="7.6" font-weight="normal" fill="#222" text-anchor="end" transform="translate(383.30,895.62) scale(1.0,1)">500</text>
<line x1="385.10" y1="880.76" x2="388.10" y2="880.76" stroke="#000" stroke-width="0.9"/>
<text x="0.00" y="0.00" font-size="7.6" font-weight="normal" fill="#222" text-anchor="end" transform="translate(383.30,883.50) scale(1.0,1)">1000</text>
<line x1="385.10" y1="868.64" x2="388.10" y2="868.64" stroke="#000" stroke-width="0.9"/>
<text x="0.00" y="0.00" font-size="7.6" font-weight="normal" fill="#222" text-anchor="end" transform="translate(383.30,871.38) scale(1.0,1)">1500</text>
<line x1="385.10" y1="856.52" x2="388.10" y2="856.52" stroke="#000" stroke-width="0.9"/>
<text x="0.00" y="0.00" font-size="7.6" font-weight="normal" fill="#222" text-anchor="end" transform="translate(383.30,859.26) scale(1.0,1)">2000</text>
<line x1="385.10" y1="844.40" x2="388.10" y2="844.40" stroke="#000" stroke-width="0.9"/>
<text x="0.00" y="0.00" font-size="7.6" font-weight="normal" fill="#222" text-anchor="end" transform="translate(383.30,847.14) scale(1.0,1)">2500</text>
<rect x="393.70" y="886.31" width="9.70" height="18.69" fill="#F0C9F6" stroke="#111" stroke-width="1"/>
<line x1="398.55" y1="886.31" x2="398.55" y2="879.96" stroke="#222" stroke-width="0.9"/>
<line x1="396.25" y1="879.96" x2="400.85" y2="879.96" stroke="#222" stroke-width="0.9"/>
<circle cx="398.55" cy="876.88" r="1.1" fill="#8A10A8"/>
<circle cx="401.32" cy="876.88" r="1.1" fill="#8A10A8"/>
<circle cx="398.55" cy="880.03" r="1.1" fill="#8A10A8"/>
<circle cx="399.36" cy="880.03" r="1.1" fill="#8A10A8"/>
<circle cx="398.55" cy="883.04" r="1.1" fill="#8A10A8"/>
<circle cx="401.26" cy="883.04" r="1.1" fill="#8A10A8"/>
<circle cx="398.55" cy="885.61" r="1.1" fill="#8A10A8"/>
<circle cx="397.27" cy="885.61" r="1.1" fill="#8A10A8"/>
<circle cx="400.10" cy="888.13" r="1.1" fill="#8A10A8"/>
<circle cx="398.55" cy="890.70" r="1.1" fill="#8A10A8"/>
<circle cx="398.00" cy="890.70" r="1.1" fill="#8A10A8"/>
<circle cx="398.55" cy="893.75" r="1.1" fill="#8A10A8"/>
<circle cx="399.22" cy="893.75" r="1.1" fill="#8A10A8"/>
<rect x="404.20" y="876.40" width="10.40" height="28.60" fill="#AC4ED4" stroke="#111" stroke-width="1"/>
<line x1="409.40" y1="876.40" x2="409.40" y2="866.68" stroke="#222" stroke-width="0.9"/>
<line x1="407.10" y1="866.68" x2="411.70" y2="866.68" stroke="#222" stroke-width="0.9"/>
<circle cx="409.40" cy="859.02" r="1.1" fill="#8A10A8"/>
<circle cx="409.40" cy="867.19" r="1.1" fill="#8A10A8"/>
<circle cx="409.40" cy="870.77" r="1.1" fill="#8A10A8"/>
<circle cx="407.54" cy="872.30" r="1.1" fill="#8A10A8"/>
<circle cx="408.56" cy="872.30" r="1.1" fill="#8A10A8"/>
<circle cx="406.29" cy="872.30" r="1.1" fill="#8A10A8"/>
<circle cx="409.14" cy="873.83" r="1.1" fill="#8A10A8"/>
<circle cx="409.40" cy="881.49" r="1.1" fill="#8A10A8"/>
<circle cx="411.81" cy="881.49" r="1.1" fill="#8A10A8"/>
<circle cx="412.06" cy="881.49" r="1.1" fill="#8A10A8"/>
<circle cx="409.40" cy="887.62" r="1.1" fill="#8A10A8"/>
<circle cx="409.40" cy="894.77" r="1.1" fill="#8A10A8"/>
<rect x="420.50" y="888.13" width="10.00" height="16.87" fill="#C2C5FA" stroke="#111" stroke-width="1"/>
<line x1="425.50" y1="888.13" x2="425.50" y2="877.41" stroke="#222" stroke-width="0.9"/>
<line x1="423.20" y1="877.41" x2="427.80" y2="877.41" stroke="#222" stroke-width="0.9"/>
<path d="M424.10,870.79 L426.90,870.79 L425.50,873.09 Z" fill="#3F5CFF"/>
<path d="M425.08,872.83 L427.88,872.83 L426.48,875.13 Z" fill="#3F5CFF"/>
<path d="M424.10,882.04 L426.90,882.04 L425.50,884.34 Z" fill="#3F5CFF"/>
<path d="M422.92,883.06 L425.72,883.06 L424.32,885.36 Z" fill="#3F5CFF"/>
<path d="M424.10,888.68 L426.90,888.68 L425.50,890.98 Z" fill="#3F5CFF"/>
<path d="M424.10,892.24 L426.90,892.24 L425.50,894.54 Z" fill="#3F5CFF"/>
<path d="M424.10,896.34 L426.90,896.34 L425.50,898.64 Z" fill="#3F5CFF"/>
<path d="M424.10,900.41 L426.90,900.41 L425.50,902.71 Z" fill="#3F5CFF"/>
<rect x="431.50" y="886.60" width="10.20" height="18.40" fill="#8189F5" stroke="#111" stroke-width="1"/>
<line x1="436.60" y1="886.60" x2="436.60" y2="880.47" stroke="#222" stroke-width="0.9"/>
<line x1="434.30" y1="880.47" x2="438.90" y2="880.47" stroke="#222" stroke-width="0.9"/>
<path d="M435.20,875.91 L438.00,875.91 L436.60,878.21 Z" fill="#3F5CFF"/>
<path d="M435.20,880.49 L438.00,880.49 L436.60,882.79 Z" fill="#3F5CFF"/>
<path d="M437.54,880.49 L440.34,880.49 L438.94,882.79 Z" fill="#3F5CFF"/>
<path d="M435.20,885.60 L438.00,885.60 L436.60,887.90 Z" fill="#3F5CFF"/>
<path d="M435.20,889.19 L438.00,889.19 L436.60,891.49 Z" fill="#3F5CFF"/>
<path d="M435.20,895.32 L438.00,895.32 L436.60,897.62 Z" fill="#3F5CFF"/>
<path d="M435.20,900.41 L438.00,900.41 L436.60,902.71 Z" fill="#3F5CFF"/>
<line x1="387.50" y1="905.00" x2="448.80" y2="905.00" stroke="#000" stroke-width="1.3"/>
<line x1="398.80" y1="841.80" x2="410.50" y2="841.80" stroke="#333" stroke-width="0.85"/>
<text x="0.00" y="0.00" font-size="9.0" font-weight="normal" fill="#222" text-anchor="start" transform="translate(377.50,837.50) scale(0.76,1)"><tspan font-style="italic">p</tspan> = 0.0145</text>
<line x1="412.00" y1="841.80" x2="437.50" y2="841.80" stroke="#333" stroke-width="0.85"/>
<text x="0.00" y="0.00" font-size="9.0" font-weight="normal" fill="#222" text-anchor="start" transform="translate(412.50,837.50) scale(0.76,1)"><tspan font-style="italic">p</tspan> = 0.0145</text>
<line x1="426.30" y1="866.80" x2="437.00" y2="866.80" stroke="#333" stroke-width="0.85"/>
<text x="0.00" y="0.00" font-size="9.0" font-weight="normal" fill="#222" text-anchor="start" transform="translate(416.30,862.50) scale(0.76,1)"><tspan font-style="italic">p</tspan> = 0.9266</text>
<text x="0.00" y="0.00" font-size="9" font-weight="bold" fill="#000" text-anchor="middle" transform="translate(361.50,873.10) rotate(-90)">Tumor volume (mm<tspan dy="-3.06" font-size="5.94">2</tspan><tspan dy="3.06">)</tspan></text>
<line x1="482.60" y1="905.40" x2="482.60" y2="844.30" stroke="#000" stroke-width="1.3"/>
<line x1="479.60" y1="904.80" x2="482.60" y2="904.80" stroke="#000" stroke-width="0.9"/>
<text x="0.00" y="0.00" font-size="7.6" font-weight="normal" fill="#222" text-anchor="end" transform="translate(477.80,907.54) scale(1.0,1)">0</text>
<line x1="479.60" y1="889.80" x2="482.60" y2="889.80" stroke="#000" stroke-width="0.9"/>
<text x="0.00" y="0.00" font-size="7.6" font-weight="normal" fill="#222" text-anchor="end" transform="translate(477.80,892.54) scale(1.0,1)">2</text>
<line x1="479.60" y1="874.80" x2="482.60" y2="874.80" stroke="#000" stroke-width="0.9"/>
<text x="0.00" y="0.00" font-size="7.6" font-weight="normal" fill="#222" text-anchor="end" transform="translate(477.80,877.54) scale(1.0,1)">4</text>
<line x1="479.60" y1="859.80" x2="482.60" y2="859.80" stroke="#000" stroke-width="0.9"/>
<text x="0.00" y="0.00" font-size="7.6" font-weight="normal" fill="#222" text-anchor="end" transform="translate(477.80,862.54) scale(1.0,1)">6</text>
<line x1="479.60" y1="844.80" x2="482.60" y2="844.80" stroke="#000" stroke-width="0.9"/>
<text x="0.00" y="0.00" font-size="7.6" font-weight="normal" fill="#222" text-anchor="end" transform="translate(477.80,847.54) scale(1.0,1)">8</text>
<rect x="488.20" y="904.42" width="10.70" height="0.38" fill="#F0C9F6" stroke="#111" stroke-width="1"/>
<line x1="493.55" y1="904.42" x2="493.55" y2="901.05" stroke="#222" stroke-width="0.9"/>
<line x1="491.25" y1="901.05" x2="495.85" y2="901.05" stroke="#222" stroke-width="0.9"/>
<circle cx="493.55" cy="897.52" r="1.1" fill="#8A10A8"/>
<circle cx="493.55" cy="904.80" r="1.1" fill="#8A10A8"/>
<circle cx="490.55" cy="904.80" r="1.1" fill="#8A10A8"/>
<circle cx="496.55" cy="904.80" r="1.1" fill="#8A10A8"/>
<rect x="499.50" y="879.52" width="9.80" height="25.27" fill="#AC4ED4" stroke="#111" stroke-width="1"/>
<line x1="504.40" y1="879.52" x2="504.40" y2="859.42" stroke="#222" stroke-width="0.9"/>
<line x1="502.10" y1="859.42" x2="506.70" y2="859.42" stroke="#222" stroke-width="0.9"/>
<circle cx="504.40" cy="852.30" r="1.1" fill="#8A10A8"/>
<circle cx="504.40" cy="859.80" r="1.1" fill="#8A10A8"/>
<circle cx="504.40" cy="874.80" r="1.1" fill="#8A10A8"/>
<circle cx="501.40" cy="874.80" r="1.1" fill="#8A10A8"/>
<circle cx="504.40" cy="882.52" r="1.1" fill="#8A10A8"/>
<rect x="515.30" y="904.42" width="10.20" height="0.38" fill="#C2C5FA" stroke="#111" stroke-width="1"/>
<line x1="520.40" y1="904.42" x2="520.40" y2="900.45" stroke="#222" stroke-width="0.9"/>
<line x1="518.10" y1="900.45" x2="522.70" y2="900.45" stroke="#222" stroke-width="0.9"/>
<path d="M519.00,896.82 L521.80,896.82 L520.40,899.12 Z" fill="#3F5CFF"/>
<path d="M519.00,903.80 L521.80,903.80 L520.40,906.10 Z" fill="#3F5CFF"/>
<path d="M516.00,903.80 L518.80,903.80 L517.40,906.10 Z" fill="#3F5CFF"/>
<path d="M522.00,903.80 L524.80,903.80 L523.40,906.10 Z" fill="#3F5CFF"/>
<rect x="526.00" y="902.92" width="10.70" height="1.88" fill="#8189F5" stroke="#111" stroke-width="1"/>
<line x1="531.35" y1="902.92" x2="531.35" y2="896.32" stroke="#222" stroke-width="0.9"/>
<line x1="529.05" y1="896.32" x2="533.65" y2="896.32" stroke="#222" stroke-width="0.9"/>
<path d="M529.95,888.80 L532.75,888.80 L531.35,891.10 Z" fill="#3F5CFF"/>
<path d="M529.95,903.80 L532.75,903.80 L531.35,906.10 Z" fill="#3F5CFF"/>
<path d="M526.95,903.80 L529.75,903.80 L528.35,906.10 Z" fill="#3F5CFF"/>
<path d="M532.95,903.80 L535.75,903.80 L534.35,906.10 Z" fill="#3F5CFF"/>
<path d="M530.47,903.80 L533.27,903.80 L531.87,906.10 Z" fill="#3F5CFF"/>
<line x1="482.00" y1="904.80" x2="543.80" y2="904.80" stroke="#000" stroke-width="1.3"/>
<line x1="493.40" y1="841.00" x2="504.50" y2="841.00" stroke="#333" stroke-width="0.85"/>
<text x="0.00" y="0.00" font-size="9.0" font-weight="normal" fill="#222" text-anchor="start" transform="translate(472.90,836.00) scale(0.76,1)"><tspan font-style="italic">p</tspan> = 0.0452</text>
<line x1="506.50" y1="841.00" x2="531.30" y2="841.00" stroke="#333" stroke-width="0.85"/>
<text x="0.00" y="0.00" font-size="9.0" font-weight="normal" fill="#222" text-anchor="start" transform="translate(506.50,836.00) scale(0.76,1)"><tspan font-style="italic">p</tspan> = 0.0914</text>
<line x1="521.00" y1="874.00" x2="532.00" y2="874.00" stroke="#333" stroke-width="0.85"/>
<text x="0.00" y="0.00" font-size="9.0" font-weight="normal" fill="#222" text-anchor="start" transform="translate(510.00,870.20) scale(0.76,1)"><tspan font-style="italic">p</tspan> &gt; 0.9999</text>
<text x="0.00" y="0.00" font-size="9" font-weight="bold" fill="#000" text-anchor="middle" transform="translate(467.80,873.30) rotate(-90)">Tumor multiplicity</text>
<line x1="595.20" y1="905.30" x2="595.20" y2="844.30" stroke="#000" stroke-width="1.3"/>
<line x1="592.20" y1="904.70" x2="595.20" y2="904.70" stroke="#000" stroke-width="0.9"/>
<text x="0.00" y="0.00" font-size="7.6" font-weight="normal" fill="#222" text-anchor="end" transform="translate(590.40,907.44) scale(1.0,1)">0.000</text>
<line x1="592.20" y1="884.73" x2="595.20" y2="884.73" stroke="#000" stroke-width="0.9"/>
<text x="0.00" y="0.00" font-size="7.6" font-weight="normal" fill="#222" text-anchor="end" transform="translate(590.40,887.47) scale(1.0,1)">0.002</text>
<line x1="592.20" y1="864.77" x2="595.20" y2="864.77" stroke="#000" stroke-width="0.9"/>
<text x="0.00" y="0.00" font-size="7.6" font-weight="normal" fill="#222" text-anchor="end" transform="translate(590.40,867.50) scale(1.0,1)">0.004</text>
<line x1="592.20" y1="844.80" x2="595.20" y2="844.80" stroke="#000" stroke-width="0.9"/>
<text x="0.00" y="0.00" font-size="7.6" font-weight="normal" fill="#222" text-anchor="end" transform="translate(590.40,847.54) scale(1.0,1)">0.006</text>
<rect x="601.60" y="902.70" width="9.90" height="2.00" fill="#F0C9F6" stroke="#111" stroke-width="1"/>
<line x1="606.55" y1="902.70" x2="606.55" y2="897.71" stroke="#222" stroke-width="0.9"/>
<line x1="604.25" y1="897.71" x2="608.85" y2="897.71" stroke="#222" stroke-width="0.9"/>
<circle cx="606.55" cy="890.72" r="1.1" fill="#8A10A8"/>
<circle cx="606.55" cy="904.70" r="1.1" fill="#8A10A8"/>
<circle cx="603.55" cy="904.70" r="1.1" fill="#8A10A8"/>
<circle cx="609.55" cy="904.70" r="1.1" fill="#8A10A8"/>
<rect x="612.50" y="874.75" width="10.10" height="29.95" fill="#AC4ED4" stroke="#111" stroke-width="1"/>
<line x1="617.55" y1="874.75" x2="617.55" y2="852.79" stroke="#222" stroke-width="0.9"/>
<line x1="615.25" y1="852.79" x2="619.85" y2="852.79" stroke="#222" stroke-width="0.9"/>
<circle cx="617.55" cy="852.79" r="1.1" fill="#8A10A8"/>
<circle cx="617.55" cy="855.78" r="1.1" fill="#8A10A8"/>
<circle cx="617.55" cy="859.77" r="1.1" fill="#8A10A8"/>
<circle cx="617.55" cy="864.77" r="1.1" fill="#8A10A8"/>
<circle cx="617.55" cy="876.75" r="1.1" fill="#8A10A8"/>
<circle cx="617.55" cy="890.72" r="1.1" fill="#8A10A8"/>
<rect x="629.00" y="903.70" width="9.50" height="1.00" fill="#C2C5FA" stroke="#111" stroke-width="1"/>
<line x1="633.75" y1="903.70" x2="633.75" y2="900.71" stroke="#222" stroke-width="0.9"/>
<line x1="631.45" y1="900.71" x2="636.05" y2="900.71" stroke="#222" stroke-width="0.9"/>
<path d="M632.35,898.71 L635.15,898.71 L633.75,901.01 Z" fill="#3F5CFF"/>
<path d="M632.35,903.70 L635.15,903.70 L633.75,906.00 Z" fill="#3F5CFF"/>
<path d="M629.35,903.70 L632.15,903.70 L630.75,906.00 Z" fill="#3F5CFF"/>
<path d="M635.35,903.70 L638.15,903.70 L636.75,906.00 Z" fill="#3F5CFF"/>
<rect x="639.00" y="903.70" width="10.00" height="1.00" fill="#8189F5" stroke="#111" stroke-width="1"/>
<line x1="644.00" y1="903.70" x2="644.00" y2="900.71" stroke="#222" stroke-width="0.9"/>
<line x1="641.70" y1="900.71" x2="646.30" y2="900.71" stroke="#222" stroke-width="0.9"/>
<path d="M642.60,898.71 L645.40,898.71 L644.00,901.01 Z" fill="#3F5CFF"/>
<path d="M642.60,903.70 L645.40,903.70 L644.00,906.00 Z" fill="#3F5CFF"/>
<path d="M639.60,903.70 L642.40,903.70 L641.00,906.00 Z" fill="#3F5CFF"/>
<path d="M645.60,903.70 L648.40,903.70 L647.00,906.00 Z" fill="#3F5CFF"/>
<line x1="594.60" y1="904.70" x2="656.50" y2="904.70" stroke="#000" stroke-width="1.3"/>
<line x1="606.60" y1="841.00" x2="619.00" y2="841.00" stroke="#333" stroke-width="0.85"/>
<text x="0.00" y="0.00" font-size="9.0" font-weight="normal" fill="#222" text-anchor="start" transform="translate(586.20,836.00) scale(0.76,1)"><tspan font-style="italic">p</tspan> = 0.0549</text>
<line x1="621.20" y1="841.00" x2="645.20" y2="841.00" stroke="#333" stroke-width="0.85"/>
<text x="0.00" y="0.00" font-size="9.0" font-weight="normal" fill="#222" text-anchor="start" transform="translate(620.40,836.00) scale(0.76,1)"><tspan font-style="italic">p</tspan> = 0.0701</text>
<line x1="635.00" y1="873.10" x2="645.20" y2="873.10" stroke="#333" stroke-width="0.85"/>
<text x="0.00" y="0.00" font-size="9.0" font-weight="normal" fill="#222" text-anchor="start" transform="translate(623.30,869.60) scale(0.76,1)"><tspan font-style="italic">p</tspan> &gt; 0.9999</text>
<text x="0.00" y="0.00" font-size="9" font-weight="bold" fill="#000" text-anchor="middle" transform="translate(558.80,873.30) rotate(-90)">Tumor burden</text>
<text x="0.00" y="0.00" font-size="9" font-weight="bold" fill="#000" text-anchor="middle" transform="translate(568.80,875.80) rotate(-90)">(mm<tspan dy="-3.06" font-size="5.94">2</tspan><tspan dy="3.06">)</tspan></text>
<line x1="368.00" y1="913.30" x2="450.00" y2="913.30" stroke="#8C8CF0" stroke-width="1.2"/>
<line x1="468.00" y1="913.30" x2="660.00" y2="913.30" stroke="#EE99EE" stroke-width="1.2"/>
<text x="409.00" y="924.90" font-size="9" font-weight="bold" fill="#000" text-anchor="middle">Primary tumor</text>
<text x="564.50" y="924.90" font-size="9" font-weight="bold" fill="#000" text-anchor="middle">Lung metastasis</text>
</svg></body></html>
